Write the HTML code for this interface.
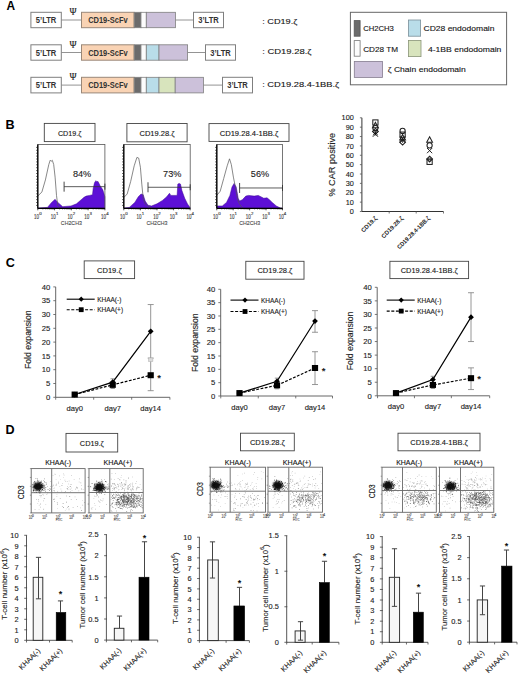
<!DOCTYPE html>
<html><head><meta charset="utf-8"><style>
html,body{margin:0;padding:0;background:#fff;}
body{width:520px;height:675px;overflow:hidden;}
svg{display:block;font-family:"Liberation Sans", sans-serif;}
text:not([font-weight]){stroke:#222;stroke-width:0.12px;}
</style></head><body>
<svg width="520" height="675" viewBox="0 0 520 675">
<defs><filter id="bl" x="-50%" y="-50%" width="200%" height="200%"><feGaussianBlur stdDeviation="1.1"/></filter></defs>
<rect width="520" height="675" fill="#fff"/>
<text x="6.5" y="9.5" font-size="11.9" font-weight="bold" fill="#000">A</text>
<rect x="30.9" y="12.3" width="30.4" height="15.4" fill="#fff" stroke="#7f7f7f" stroke-width="1"/>
<text x="46.1" y="23" font-size="8.6" text-anchor="middle" font-weight="bold" textLength="20.5" lengthAdjust="spacingAndGlyphs" fill="#333">5’LTR</text>
<line x1="61.3" y1="20" x2="81.5" y2="20" stroke="#888" stroke-width="0.9"/>
<text x="73.1" y="15.2" font-size="9.6" text-anchor="middle" fill="#222" font-family="Liberation Serif">Ψ</text>
<rect x="81.5" y="12.3" width="52.5" height="15.4" fill="#f9d3b4" stroke="#9a8878" stroke-width="1"/>
<text x="107.9" y="23" font-size="8.6" text-anchor="middle" font-weight="bold" textLength="39.5" lengthAdjust="spacingAndGlyphs" fill="#333">CD19-ScFv</text>
<rect x="134.3" y="12.3" width="6.7" height="15.4" fill="#6b6b6b" stroke="#7f7f7f" stroke-width="0.8"/>
<rect x="141" y="12.3" width="5.3" height="15.4" fill="#fcfcfc" stroke="#7f7f7f" stroke-width="0.8"/>
<rect x="146.3" y="12.3" width="29.1" height="15.4" fill="#ccc1da" stroke="#7f7f7f" stroke-width="0.8"/>
<line x1="175.4" y1="20" x2="193" y2="20" stroke="#888" stroke-width="0.9"/>
<rect x="193.5" y="12.3" width="30" height="15.4" fill="#fff" stroke="#7f7f7f" stroke-width="1"/>
<text x="208.5" y="23" font-size="8.6" text-anchor="middle" font-weight="bold" textLength="20.5" lengthAdjust="spacingAndGlyphs" fill="#333">3’LTR</text>
<text x="262.2" y="24.3" font-size="8" textLength="35.1" lengthAdjust="spacingAndGlyphs" fill="#111">: CD19.ζ</text>
<rect x="30.9" y="44.8" width="30.4" height="15.4" fill="#fff" stroke="#7f7f7f" stroke-width="1"/>
<text x="46.1" y="55.5" font-size="8.6" text-anchor="middle" font-weight="bold" textLength="20.5" lengthAdjust="spacingAndGlyphs" fill="#333">5’LTR</text>
<line x1="61.3" y1="52.5" x2="81.5" y2="52.5" stroke="#888" stroke-width="0.9"/>
<text x="73.1" y="47.7" font-size="9.6" text-anchor="middle" fill="#222" font-family="Liberation Serif">Ψ</text>
<rect x="81.5" y="44.8" width="52.5" height="15.4" fill="#f9d3b4" stroke="#9a8878" stroke-width="1"/>
<text x="107.9" y="55.5" font-size="8.6" text-anchor="middle" font-weight="bold" textLength="39.5" lengthAdjust="spacingAndGlyphs" fill="#333">CD19-ScFv</text>
<rect x="134.3" y="44.8" width="6.7" height="15.4" fill="#6b6b6b" stroke="#7f7f7f" stroke-width="0.8"/>
<rect x="141" y="44.8" width="5.3" height="15.4" fill="#fcfcfc" stroke="#7f7f7f" stroke-width="0.8"/>
<rect x="146.3" y="44.8" width="12.7" height="15.4" fill="#b9dde9" stroke="#7f7f7f" stroke-width="0.8"/>
<rect x="159" y="44.8" width="28.6" height="15.4" fill="#ccc1da" stroke="#7f7f7f" stroke-width="0.8"/>
<line x1="187.6" y1="52.5" x2="205" y2="52.5" stroke="#888" stroke-width="0.9"/>
<rect x="205.5" y="44.8" width="30" height="15.4" fill="#fff" stroke="#7f7f7f" stroke-width="1"/>
<text x="220.5" y="55.5" font-size="8.6" text-anchor="middle" font-weight="bold" textLength="20.5" lengthAdjust="spacingAndGlyphs" fill="#333">3’LTR</text>
<text x="262.2" y="54.4" font-size="8" textLength="49.3" lengthAdjust="spacingAndGlyphs" fill="#111">: CD19.28.ζ</text>
<rect x="30.9" y="77.3" width="30.4" height="15.6" fill="#fff" stroke="#7f7f7f" stroke-width="1"/>
<text x="46.1" y="88.1" font-size="8.6" text-anchor="middle" font-weight="bold" textLength="20.5" lengthAdjust="spacingAndGlyphs" fill="#333">5’LTR</text>
<line x1="61.3" y1="85.1" x2="81.5" y2="85.1" stroke="#888" stroke-width="0.9"/>
<text x="73.1" y="80.2" font-size="9.6" text-anchor="middle" fill="#222" font-family="Liberation Serif">Ψ</text>
<rect x="81.5" y="77.3" width="52.5" height="15.6" fill="#f9d3b4" stroke="#9a8878" stroke-width="1"/>
<text x="107.9" y="88.1" font-size="8.6" text-anchor="middle" font-weight="bold" textLength="39.5" lengthAdjust="spacingAndGlyphs" fill="#333">CD19-ScFv</text>
<rect x="134.3" y="77.3" width="6.7" height="15.6" fill="#6b6b6b" stroke="#7f7f7f" stroke-width="0.8"/>
<rect x="141" y="77.3" width="5.3" height="15.6" fill="#fcfcfc" stroke="#7f7f7f" stroke-width="0.8"/>
<rect x="146.3" y="77.3" width="12.7" height="15.6" fill="#b9dde9" stroke="#7f7f7f" stroke-width="0.8"/>
<rect x="159" y="77.3" width="16.2" height="15.6" fill="#d8e4bd" stroke="#7f7f7f" stroke-width="0.8"/>
<rect x="175.2" y="77.3" width="28.2" height="15.6" fill="#ccc1da" stroke="#7f7f7f" stroke-width="0.8"/>
<line x1="203.4" y1="85.1" x2="222" y2="85.1" stroke="#888" stroke-width="0.9"/>
<rect x="222.5" y="77.3" width="30" height="15.6" fill="#fff" stroke="#7f7f7f" stroke-width="1"/>
<text x="237.5" y="88.1" font-size="8.6" text-anchor="middle" font-weight="bold" textLength="20.5" lengthAdjust="spacingAndGlyphs" fill="#333">3’LTR</text>
<text x="262.2" y="86.5" font-size="8" textLength="77" lengthAdjust="spacingAndGlyphs" fill="#111">: CD19.28.4-1BB.ζ</text>
<rect x="350.4" y="12.3" width="156.2" height="72.5" fill="#fff" stroke="#666" stroke-width="1"/>
<rect x="354.2" y="20.6" width="5.9" height="15.6" fill="#6b6b6b" stroke="#555" stroke-width="0.8"/>
<text x="363.2" y="31.1" font-size="8" textLength="30.7" lengthAdjust="spacingAndGlyphs" fill="#111">CH2CH3</text>
<rect x="408.4" y="20" width="12.2" height="16.2" fill="#b9dde9" stroke="#7a8f99" stroke-width="0.8"/>
<text x="423.5" y="31.3" font-size="8" textLength="71" lengthAdjust="spacingAndGlyphs" fill="#111">CD28 endodomain</text>
<rect x="354.2" y="40.6" width="5.9" height="15.6" fill="#fcfcfc" stroke="#777" stroke-width="0.8"/>
<text x="363.2" y="51.8" font-size="8" textLength="34.9" lengthAdjust="spacingAndGlyphs" fill="#111">CD28 TM</text>
<rect x="408.4" y="40.4" width="12.6" height="16.2" fill="#d8e4bd" stroke="#8a9478" stroke-width="0.8"/>
<text x="427.9" y="51.8" font-size="8" textLength="73.5" lengthAdjust="spacingAndGlyphs" fill="#111">4-1BB endodomain</text>
<rect x="354.3" y="61.4" width="28.2" height="16" fill="#ccc1da" stroke="#857c8f" stroke-width="0.8"/>
<text x="387.8" y="71.5" font-size="8" textLength="77.9" lengthAdjust="spacingAndGlyphs" fill="#111">ζ Chain endodomain</text>
<text x="5.6" y="128.8" font-size="12.6" font-weight="bold" fill="#000">B</text>
<rect x="44.3" y="123.4" width="50.7" height="18.2" fill="#fff" stroke="#444" stroke-width="0.9"/>
<text x="69.65" y="135.55" font-size="7.6" text-anchor="middle" textLength="23.4" lengthAdjust="spacingAndGlyphs" fill="#111">CD19.ζ</text>
<path d="M37.8 208.3 L38 208.1 L47.5 207.39 L51.6 202.41 L55.1 199.36 L57.8 202.41 L62.7 206.67 L71 205.96 L76.5 203.83 L82.1 198.95 L84 197.33 L86.2 196.11 L89.7 195.4 L92.5 194.69 L93.2 188.39 L94.5 182.8 L95.9 180.67 L97 181.78 L98 181.38 L100.1 185.64 L102.8 189.81 L104.9 196.82 L104.9 208.3 Z" fill="#5d10d6" stroke="#3a0590" stroke-width="0.5"/>
<path d="M37.8 196.11 L41.9 191.94 L45.4 179.96 L48.8 164.51 L50.2 160.25 L51.2 161.26 L52.3 160.25 L53.7 164.51 L55.1 177.11 L56.5 195.4 L57.8 205.96 L59.9 207.79 L62 208.3" fill="none" stroke="#555" stroke-width="0.7"/>
<rect x="37.8" y="144.5" width="67.1" height="63.8" fill="none" stroke="#555" stroke-width="0.8"/>
<line x1="37.8" y1="144.5" x2="37.8" y2="208.3" stroke="#000" stroke-width="1.3"/>
<line x1="37.8" y1="208.3" x2="104.9" y2="208.3" stroke="#000" stroke-width="1.3"/>
<line x1="36" y1="205.4" x2="37.8" y2="205.4" stroke="#111" stroke-width="0.6"/>
<line x1="36" y1="202.5" x2="37.8" y2="202.5" stroke="#111" stroke-width="0.6"/>
<line x1="36" y1="199.6" x2="37.8" y2="199.6" stroke="#111" stroke-width="0.6"/>
<line x1="36" y1="196.7" x2="37.8" y2="196.7" stroke="#111" stroke-width="0.6"/>
<line x1="36" y1="193.8" x2="37.8" y2="193.8" stroke="#111" stroke-width="0.6"/>
<line x1="36" y1="190.9" x2="37.8" y2="190.9" stroke="#111" stroke-width="0.6"/>
<line x1="36" y1="188" x2="37.8" y2="188" stroke="#111" stroke-width="0.6"/>
<line x1="36" y1="185.1" x2="37.8" y2="185.1" stroke="#111" stroke-width="0.6"/>
<line x1="36" y1="182.2" x2="37.8" y2="182.2" stroke="#111" stroke-width="0.6"/>
<line x1="36" y1="179.3" x2="37.8" y2="179.3" stroke="#111" stroke-width="0.6"/>
<line x1="36" y1="176.4" x2="37.8" y2="176.4" stroke="#111" stroke-width="0.6"/>
<line x1="36" y1="173.5" x2="37.8" y2="173.5" stroke="#111" stroke-width="0.6"/>
<line x1="36" y1="170.6" x2="37.8" y2="170.6" stroke="#111" stroke-width="0.6"/>
<line x1="36" y1="167.7" x2="37.8" y2="167.7" stroke="#111" stroke-width="0.6"/>
<line x1="36" y1="164.8" x2="37.8" y2="164.8" stroke="#111" stroke-width="0.6"/>
<line x1="36" y1="161.9" x2="37.8" y2="161.9" stroke="#111" stroke-width="0.6"/>
<line x1="36" y1="159" x2="37.8" y2="159" stroke="#111" stroke-width="0.6"/>
<line x1="36" y1="156.1" x2="37.8" y2="156.1" stroke="#111" stroke-width="0.6"/>
<line x1="36" y1="153.2" x2="37.8" y2="153.2" stroke="#111" stroke-width="0.6"/>
<line x1="36" y1="150.3" x2="37.8" y2="150.3" stroke="#111" stroke-width="0.6"/>
<line x1="36" y1="147.4" x2="37.8" y2="147.4" stroke="#111" stroke-width="0.6"/>
<line x1="37.8" y1="208.3" x2="37.8" y2="210.3" stroke="#000" stroke-width="0.7"/>
<line x1="42.85" y1="208.3" x2="42.85" y2="209.5" stroke="#000" stroke-width="0.5"/>
<line x1="45.8" y1="208.3" x2="45.8" y2="209.5" stroke="#000" stroke-width="0.5"/>
<line x1="47.9" y1="208.3" x2="47.9" y2="209.5" stroke="#000" stroke-width="0.5"/>
<line x1="49.53" y1="208.3" x2="49.53" y2="209.5" stroke="#000" stroke-width="0.5"/>
<line x1="50.85" y1="208.3" x2="50.85" y2="209.5" stroke="#000" stroke-width="0.5"/>
<line x1="51.98" y1="208.3" x2="51.98" y2="209.5" stroke="#000" stroke-width="0.5"/>
<line x1="52.95" y1="208.3" x2="52.95" y2="209.5" stroke="#000" stroke-width="0.5"/>
<line x1="53.81" y1="208.3" x2="53.81" y2="209.5" stroke="#000" stroke-width="0.5"/>
<line x1="54.58" y1="208.3" x2="54.58" y2="210.3" stroke="#000" stroke-width="0.7"/>
<line x1="59.62" y1="208.3" x2="59.62" y2="209.5" stroke="#000" stroke-width="0.5"/>
<line x1="62.58" y1="208.3" x2="62.58" y2="209.5" stroke="#000" stroke-width="0.5"/>
<line x1="64.67" y1="208.3" x2="64.67" y2="209.5" stroke="#000" stroke-width="0.5"/>
<line x1="66.3" y1="208.3" x2="66.3" y2="209.5" stroke="#000" stroke-width="0.5"/>
<line x1="67.63" y1="208.3" x2="67.63" y2="209.5" stroke="#000" stroke-width="0.5"/>
<line x1="68.75" y1="208.3" x2="68.75" y2="209.5" stroke="#000" stroke-width="0.5"/>
<line x1="69.72" y1="208.3" x2="69.72" y2="209.5" stroke="#000" stroke-width="0.5"/>
<line x1="70.58" y1="208.3" x2="70.58" y2="209.5" stroke="#000" stroke-width="0.5"/>
<line x1="71.35" y1="208.3" x2="71.35" y2="210.3" stroke="#000" stroke-width="0.7"/>
<line x1="76.4" y1="208.3" x2="76.4" y2="209.5" stroke="#000" stroke-width="0.5"/>
<line x1="79.35" y1="208.3" x2="79.35" y2="209.5" stroke="#000" stroke-width="0.5"/>
<line x1="81.45" y1="208.3" x2="81.45" y2="209.5" stroke="#000" stroke-width="0.5"/>
<line x1="83.08" y1="208.3" x2="83.08" y2="209.5" stroke="#000" stroke-width="0.5"/>
<line x1="84.4" y1="208.3" x2="84.4" y2="209.5" stroke="#000" stroke-width="0.5"/>
<line x1="85.53" y1="208.3" x2="85.53" y2="209.5" stroke="#000" stroke-width="0.5"/>
<line x1="86.5" y1="208.3" x2="86.5" y2="209.5" stroke="#000" stroke-width="0.5"/>
<line x1="87.36" y1="208.3" x2="87.36" y2="209.5" stroke="#000" stroke-width="0.5"/>
<line x1="88.12" y1="208.3" x2="88.12" y2="210.3" stroke="#000" stroke-width="0.7"/>
<line x1="93.17" y1="208.3" x2="93.17" y2="209.5" stroke="#000" stroke-width="0.5"/>
<line x1="96.13" y1="208.3" x2="96.13" y2="209.5" stroke="#000" stroke-width="0.5"/>
<line x1="98.22" y1="208.3" x2="98.22" y2="209.5" stroke="#000" stroke-width="0.5"/>
<line x1="99.85" y1="208.3" x2="99.85" y2="209.5" stroke="#000" stroke-width="0.5"/>
<line x1="101.18" y1="208.3" x2="101.18" y2="209.5" stroke="#000" stroke-width="0.5"/>
<line x1="102.3" y1="208.3" x2="102.3" y2="209.5" stroke="#000" stroke-width="0.5"/>
<line x1="103.27" y1="208.3" x2="103.27" y2="209.5" stroke="#000" stroke-width="0.5"/>
<line x1="104.13" y1="208.3" x2="104.13" y2="209.5" stroke="#000" stroke-width="0.5"/>
<line x1="104.9" y1="208.3" x2="104.9" y2="210.3" stroke="#000" stroke-width="0.7"/>
<text x="36.5" y="218.7" font-size="6.6" text-anchor="middle" textLength="5" lengthAdjust="spacingAndGlyphs" fill="#444">10</text>
<text x="40.4" y="215.1" font-size="4.4" text-anchor="middle" fill="#444">0</text>
<text x="53.28" y="218.7" font-size="6.6" text-anchor="middle" textLength="5" lengthAdjust="spacingAndGlyphs" fill="#444">10</text>
<text x="57.18" y="215.1" font-size="4.4" text-anchor="middle" fill="#444">1</text>
<text x="70.05" y="218.7" font-size="6.6" text-anchor="middle" textLength="5" lengthAdjust="spacingAndGlyphs" fill="#444">10</text>
<text x="73.95" y="215.1" font-size="4.4" text-anchor="middle" fill="#444">2</text>
<text x="86.83" y="218.7" font-size="6.6" text-anchor="middle" textLength="5" lengthAdjust="spacingAndGlyphs" fill="#444">10</text>
<text x="90.72" y="215.1" font-size="4.4" text-anchor="middle" fill="#444">3</text>
<text x="103.6" y="218.7" font-size="6.6" text-anchor="middle" textLength="5" lengthAdjust="spacingAndGlyphs" fill="#444">10</text>
<text x="107.5" y="215.1" font-size="4.4" text-anchor="middle" fill="#444">4</text>
<text x="71.35" y="224.6" font-size="6" text-anchor="middle" textLength="21" lengthAdjust="spacingAndGlyphs" fill="#555">CH2CH3</text>
<line x1="64.1" y1="186.66" x2="104.9" y2="186.66" stroke="#333" stroke-width="0.8"/>
<line x1="64.1" y1="181.66" x2="64.1" y2="191.66" stroke="#333" stroke-width="0.9"/>
<line x1="104.9" y1="183.66" x2="104.9" y2="189.66" stroke="#333" stroke-width="0.9"/>
<text x="82.1" y="176.6" font-size="9.8" text-anchor="middle" textLength="18.3" lengthAdjust="spacingAndGlyphs" fill="#222">84%</text>
<rect x="126.9" y="123.5" width="60.2" height="18.3" fill="#fff" stroke="#444" stroke-width="0.9"/>
<text x="157" y="135.7" font-size="7.6" text-anchor="middle" textLength="35" lengthAdjust="spacingAndGlyphs" fill="#111">CD19.28.ζ</text>
<path d="M123.8 208.3 L124 208.1 L129.3 207.39 L134.8 202.41 L138.3 196.82 L141.1 193.98 L143.2 194.69 L145.2 201.09 L148 205.25 L151.5 205.96 L157 203.83 L162.5 200.38 L166.7 196.82 L169.5 193.26 L170.8 195.4 L177.1 195.4 L177.8 184.12 L179.2 183.41 L180.5 184.12 L181.9 190.52 L184.7 198.24 L187.5 203.93 L190.2 207.79 L190.2 208.3 Z" fill="#5d10d6" stroke="#3a0590" stroke-width="0.5"/>
<path d="M123.8 197.53 L127.2 193.98 L130.7 181.38 L134.2 165.83 L136.9 157.4 L138.7 158.11 L140.4 167.26 L141.8 184.12 L143.2 198.24 L145.2 203.93 L148.7 206.67 L152 208.3" fill="none" stroke="#555" stroke-width="0.7"/>
<rect x="123.8" y="144.5" width="66.4" height="63.8" fill="none" stroke="#555" stroke-width="0.8"/>
<line x1="123.8" y1="144.5" x2="123.8" y2="208.3" stroke="#000" stroke-width="1.3"/>
<line x1="123.8" y1="208.3" x2="190.2" y2="208.3" stroke="#000" stroke-width="1.3"/>
<line x1="122" y1="205.4" x2="123.8" y2="205.4" stroke="#111" stroke-width="0.6"/>
<line x1="122" y1="202.5" x2="123.8" y2="202.5" stroke="#111" stroke-width="0.6"/>
<line x1="122" y1="199.6" x2="123.8" y2="199.6" stroke="#111" stroke-width="0.6"/>
<line x1="122" y1="196.7" x2="123.8" y2="196.7" stroke="#111" stroke-width="0.6"/>
<line x1="122" y1="193.8" x2="123.8" y2="193.8" stroke="#111" stroke-width="0.6"/>
<line x1="122" y1="190.9" x2="123.8" y2="190.9" stroke="#111" stroke-width="0.6"/>
<line x1="122" y1="188" x2="123.8" y2="188" stroke="#111" stroke-width="0.6"/>
<line x1="122" y1="185.1" x2="123.8" y2="185.1" stroke="#111" stroke-width="0.6"/>
<line x1="122" y1="182.2" x2="123.8" y2="182.2" stroke="#111" stroke-width="0.6"/>
<line x1="122" y1="179.3" x2="123.8" y2="179.3" stroke="#111" stroke-width="0.6"/>
<line x1="122" y1="176.4" x2="123.8" y2="176.4" stroke="#111" stroke-width="0.6"/>
<line x1="122" y1="173.5" x2="123.8" y2="173.5" stroke="#111" stroke-width="0.6"/>
<line x1="122" y1="170.6" x2="123.8" y2="170.6" stroke="#111" stroke-width="0.6"/>
<line x1="122" y1="167.7" x2="123.8" y2="167.7" stroke="#111" stroke-width="0.6"/>
<line x1="122" y1="164.8" x2="123.8" y2="164.8" stroke="#111" stroke-width="0.6"/>
<line x1="122" y1="161.9" x2="123.8" y2="161.9" stroke="#111" stroke-width="0.6"/>
<line x1="122" y1="159" x2="123.8" y2="159" stroke="#111" stroke-width="0.6"/>
<line x1="122" y1="156.1" x2="123.8" y2="156.1" stroke="#111" stroke-width="0.6"/>
<line x1="122" y1="153.2" x2="123.8" y2="153.2" stroke="#111" stroke-width="0.6"/>
<line x1="122" y1="150.3" x2="123.8" y2="150.3" stroke="#111" stroke-width="0.6"/>
<line x1="122" y1="147.4" x2="123.8" y2="147.4" stroke="#111" stroke-width="0.6"/>
<line x1="123.8" y1="208.3" x2="123.8" y2="210.3" stroke="#000" stroke-width="0.7"/>
<line x1="128.8" y1="208.3" x2="128.8" y2="209.5" stroke="#000" stroke-width="0.5"/>
<line x1="131.72" y1="208.3" x2="131.72" y2="209.5" stroke="#000" stroke-width="0.5"/>
<line x1="133.79" y1="208.3" x2="133.79" y2="209.5" stroke="#000" stroke-width="0.5"/>
<line x1="135.4" y1="208.3" x2="135.4" y2="209.5" stroke="#000" stroke-width="0.5"/>
<line x1="136.72" y1="208.3" x2="136.72" y2="209.5" stroke="#000" stroke-width="0.5"/>
<line x1="137.83" y1="208.3" x2="137.83" y2="209.5" stroke="#000" stroke-width="0.5"/>
<line x1="138.79" y1="208.3" x2="138.79" y2="209.5" stroke="#000" stroke-width="0.5"/>
<line x1="139.64" y1="208.3" x2="139.64" y2="209.5" stroke="#000" stroke-width="0.5"/>
<line x1="140.4" y1="208.3" x2="140.4" y2="210.3" stroke="#000" stroke-width="0.7"/>
<line x1="145.4" y1="208.3" x2="145.4" y2="209.5" stroke="#000" stroke-width="0.5"/>
<line x1="148.32" y1="208.3" x2="148.32" y2="209.5" stroke="#000" stroke-width="0.5"/>
<line x1="150.39" y1="208.3" x2="150.39" y2="209.5" stroke="#000" stroke-width="0.5"/>
<line x1="152" y1="208.3" x2="152" y2="209.5" stroke="#000" stroke-width="0.5"/>
<line x1="153.32" y1="208.3" x2="153.32" y2="209.5" stroke="#000" stroke-width="0.5"/>
<line x1="154.43" y1="208.3" x2="154.43" y2="209.5" stroke="#000" stroke-width="0.5"/>
<line x1="155.39" y1="208.3" x2="155.39" y2="209.5" stroke="#000" stroke-width="0.5"/>
<line x1="156.24" y1="208.3" x2="156.24" y2="209.5" stroke="#000" stroke-width="0.5"/>
<line x1="157" y1="208.3" x2="157" y2="210.3" stroke="#000" stroke-width="0.7"/>
<line x1="162" y1="208.3" x2="162" y2="209.5" stroke="#000" stroke-width="0.5"/>
<line x1="164.92" y1="208.3" x2="164.92" y2="209.5" stroke="#000" stroke-width="0.5"/>
<line x1="166.99" y1="208.3" x2="166.99" y2="209.5" stroke="#000" stroke-width="0.5"/>
<line x1="168.6" y1="208.3" x2="168.6" y2="209.5" stroke="#000" stroke-width="0.5"/>
<line x1="169.92" y1="208.3" x2="169.92" y2="209.5" stroke="#000" stroke-width="0.5"/>
<line x1="171.03" y1="208.3" x2="171.03" y2="209.5" stroke="#000" stroke-width="0.5"/>
<line x1="171.99" y1="208.3" x2="171.99" y2="209.5" stroke="#000" stroke-width="0.5"/>
<line x1="172.84" y1="208.3" x2="172.84" y2="209.5" stroke="#000" stroke-width="0.5"/>
<line x1="173.6" y1="208.3" x2="173.6" y2="210.3" stroke="#000" stroke-width="0.7"/>
<line x1="178.6" y1="208.3" x2="178.6" y2="209.5" stroke="#000" stroke-width="0.5"/>
<line x1="181.52" y1="208.3" x2="181.52" y2="209.5" stroke="#000" stroke-width="0.5"/>
<line x1="183.59" y1="208.3" x2="183.59" y2="209.5" stroke="#000" stroke-width="0.5"/>
<line x1="185.2" y1="208.3" x2="185.2" y2="209.5" stroke="#000" stroke-width="0.5"/>
<line x1="186.52" y1="208.3" x2="186.52" y2="209.5" stroke="#000" stroke-width="0.5"/>
<line x1="187.63" y1="208.3" x2="187.63" y2="209.5" stroke="#000" stroke-width="0.5"/>
<line x1="188.59" y1="208.3" x2="188.59" y2="209.5" stroke="#000" stroke-width="0.5"/>
<line x1="189.44" y1="208.3" x2="189.44" y2="209.5" stroke="#000" stroke-width="0.5"/>
<line x1="190.2" y1="208.3" x2="190.2" y2="210.3" stroke="#000" stroke-width="0.7"/>
<text x="122.5" y="218.7" font-size="6.6" text-anchor="middle" textLength="5" lengthAdjust="spacingAndGlyphs" fill="#444">10</text>
<text x="126.4" y="215.1" font-size="4.4" text-anchor="middle" fill="#444">0</text>
<text x="139.1" y="218.7" font-size="6.6" text-anchor="middle" textLength="5" lengthAdjust="spacingAndGlyphs" fill="#444">10</text>
<text x="143" y="215.1" font-size="4.4" text-anchor="middle" fill="#444">1</text>
<text x="155.7" y="218.7" font-size="6.6" text-anchor="middle" textLength="5" lengthAdjust="spacingAndGlyphs" fill="#444">10</text>
<text x="159.6" y="215.1" font-size="4.4" text-anchor="middle" fill="#444">2</text>
<text x="172.3" y="218.7" font-size="6.6" text-anchor="middle" textLength="5" lengthAdjust="spacingAndGlyphs" fill="#444">10</text>
<text x="176.2" y="215.1" font-size="4.4" text-anchor="middle" fill="#444">3</text>
<text x="188.9" y="218.7" font-size="6.6" text-anchor="middle" textLength="5" lengthAdjust="spacingAndGlyphs" fill="#444">10</text>
<text x="192.8" y="215.1" font-size="4.4" text-anchor="middle" fill="#444">4</text>
<text x="157" y="224.6" font-size="6" text-anchor="middle" textLength="21" lengthAdjust="spacingAndGlyphs" fill="#555">CH2CH3</text>
<line x1="148" y1="187.27" x2="190.2" y2="187.27" stroke="#333" stroke-width="0.8"/>
<line x1="148" y1="182.27" x2="148" y2="192.27" stroke="#333" stroke-width="0.9"/>
<line x1="190.2" y1="184.27" x2="190.2" y2="190.27" stroke="#333" stroke-width="0.9"/>
<text x="172.2" y="176.6" font-size="9.8" text-anchor="middle" textLength="18.3" lengthAdjust="spacingAndGlyphs" fill="#222">73%</text>
<rect x="209" y="123.6" width="80" height="17.8" fill="#fff" stroke="#444" stroke-width="0.9"/>
<text x="249" y="135.55" font-size="7.6" text-anchor="middle" textLength="58.6" lengthAdjust="spacingAndGlyphs" fill="#111">CD19.28.4-1BB.ζ</text>
<path d="M216.8 208.3 L217 205.96 L222.3 205.96 L226.5 202.41 L229.9 195.4 L232 186.97 L234.1 183.41 L236.2 186.97 L238.2 198.24 L239.6 201.09 L242.4 199.66 L245.8 196.11 L248.6 195.4 L254.2 196.11 L258.3 195.4 L263.8 198.24 L267 197.84 L269.4 199.66 L272.2 202.41 L276.3 205.96 L280.5 208.1 L282.5 208.3 Z" fill="#5d10d6" stroke="#3a0590" stroke-width="0.5"/>
<path d="M216.8 195.4 L220.2 191.23 L223.7 178.53 L227.2 165.83 L229.5 158.82 L231.3 164.51 L233.4 177.11 L234.8 184.12 L236.8 195.4 L238.2 201.09 L240 204.95 L243 208.3" fill="none" stroke="#555" stroke-width="0.7"/>
<rect x="216.8" y="144.5" width="65.7" height="63.8" fill="none" stroke="#555" stroke-width="0.8"/>
<line x1="216.8" y1="144.5" x2="216.8" y2="208.3" stroke="#000" stroke-width="1.3"/>
<line x1="216.8" y1="208.3" x2="282.5" y2="208.3" stroke="#000" stroke-width="1.3"/>
<line x1="215" y1="205.4" x2="216.8" y2="205.4" stroke="#111" stroke-width="0.6"/>
<line x1="215" y1="202.5" x2="216.8" y2="202.5" stroke="#111" stroke-width="0.6"/>
<line x1="215" y1="199.6" x2="216.8" y2="199.6" stroke="#111" stroke-width="0.6"/>
<line x1="215" y1="196.7" x2="216.8" y2="196.7" stroke="#111" stroke-width="0.6"/>
<line x1="215" y1="193.8" x2="216.8" y2="193.8" stroke="#111" stroke-width="0.6"/>
<line x1="215" y1="190.9" x2="216.8" y2="190.9" stroke="#111" stroke-width="0.6"/>
<line x1="215" y1="188" x2="216.8" y2="188" stroke="#111" stroke-width="0.6"/>
<line x1="215" y1="185.1" x2="216.8" y2="185.1" stroke="#111" stroke-width="0.6"/>
<line x1="215" y1="182.2" x2="216.8" y2="182.2" stroke="#111" stroke-width="0.6"/>
<line x1="215" y1="179.3" x2="216.8" y2="179.3" stroke="#111" stroke-width="0.6"/>
<line x1="215" y1="176.4" x2="216.8" y2="176.4" stroke="#111" stroke-width="0.6"/>
<line x1="215" y1="173.5" x2="216.8" y2="173.5" stroke="#111" stroke-width="0.6"/>
<line x1="215" y1="170.6" x2="216.8" y2="170.6" stroke="#111" stroke-width="0.6"/>
<line x1="215" y1="167.7" x2="216.8" y2="167.7" stroke="#111" stroke-width="0.6"/>
<line x1="215" y1="164.8" x2="216.8" y2="164.8" stroke="#111" stroke-width="0.6"/>
<line x1="215" y1="161.9" x2="216.8" y2="161.9" stroke="#111" stroke-width="0.6"/>
<line x1="215" y1="159" x2="216.8" y2="159" stroke="#111" stroke-width="0.6"/>
<line x1="215" y1="156.1" x2="216.8" y2="156.1" stroke="#111" stroke-width="0.6"/>
<line x1="215" y1="153.2" x2="216.8" y2="153.2" stroke="#111" stroke-width="0.6"/>
<line x1="215" y1="150.3" x2="216.8" y2="150.3" stroke="#111" stroke-width="0.6"/>
<line x1="215" y1="147.4" x2="216.8" y2="147.4" stroke="#111" stroke-width="0.6"/>
<line x1="216.8" y1="208.3" x2="216.8" y2="210.3" stroke="#000" stroke-width="0.7"/>
<line x1="221.74" y1="208.3" x2="221.74" y2="209.5" stroke="#000" stroke-width="0.5"/>
<line x1="224.64" y1="208.3" x2="224.64" y2="209.5" stroke="#000" stroke-width="0.5"/>
<line x1="226.69" y1="208.3" x2="226.69" y2="209.5" stroke="#000" stroke-width="0.5"/>
<line x1="228.28" y1="208.3" x2="228.28" y2="209.5" stroke="#000" stroke-width="0.5"/>
<line x1="229.58" y1="208.3" x2="229.58" y2="209.5" stroke="#000" stroke-width="0.5"/>
<line x1="230.68" y1="208.3" x2="230.68" y2="209.5" stroke="#000" stroke-width="0.5"/>
<line x1="231.63" y1="208.3" x2="231.63" y2="209.5" stroke="#000" stroke-width="0.5"/>
<line x1="232.47" y1="208.3" x2="232.47" y2="209.5" stroke="#000" stroke-width="0.5"/>
<line x1="233.23" y1="208.3" x2="233.23" y2="210.3" stroke="#000" stroke-width="0.7"/>
<line x1="238.17" y1="208.3" x2="238.17" y2="209.5" stroke="#000" stroke-width="0.5"/>
<line x1="241.06" y1="208.3" x2="241.06" y2="209.5" stroke="#000" stroke-width="0.5"/>
<line x1="243.11" y1="208.3" x2="243.11" y2="209.5" stroke="#000" stroke-width="0.5"/>
<line x1="244.71" y1="208.3" x2="244.71" y2="209.5" stroke="#000" stroke-width="0.5"/>
<line x1="246.01" y1="208.3" x2="246.01" y2="209.5" stroke="#000" stroke-width="0.5"/>
<line x1="247.11" y1="208.3" x2="247.11" y2="209.5" stroke="#000" stroke-width="0.5"/>
<line x1="248.06" y1="208.3" x2="248.06" y2="209.5" stroke="#000" stroke-width="0.5"/>
<line x1="248.9" y1="208.3" x2="248.9" y2="209.5" stroke="#000" stroke-width="0.5"/>
<line x1="249.65" y1="208.3" x2="249.65" y2="210.3" stroke="#000" stroke-width="0.7"/>
<line x1="254.59" y1="208.3" x2="254.59" y2="209.5" stroke="#000" stroke-width="0.5"/>
<line x1="257.49" y1="208.3" x2="257.49" y2="209.5" stroke="#000" stroke-width="0.5"/>
<line x1="259.54" y1="208.3" x2="259.54" y2="209.5" stroke="#000" stroke-width="0.5"/>
<line x1="261.13" y1="208.3" x2="261.13" y2="209.5" stroke="#000" stroke-width="0.5"/>
<line x1="262.43" y1="208.3" x2="262.43" y2="209.5" stroke="#000" stroke-width="0.5"/>
<line x1="263.53" y1="208.3" x2="263.53" y2="209.5" stroke="#000" stroke-width="0.5"/>
<line x1="264.48" y1="208.3" x2="264.48" y2="209.5" stroke="#000" stroke-width="0.5"/>
<line x1="265.32" y1="208.3" x2="265.32" y2="209.5" stroke="#000" stroke-width="0.5"/>
<line x1="266.07" y1="208.3" x2="266.07" y2="210.3" stroke="#000" stroke-width="0.7"/>
<line x1="271.02" y1="208.3" x2="271.02" y2="209.5" stroke="#000" stroke-width="0.5"/>
<line x1="273.91" y1="208.3" x2="273.91" y2="209.5" stroke="#000" stroke-width="0.5"/>
<line x1="275.96" y1="208.3" x2="275.96" y2="209.5" stroke="#000" stroke-width="0.5"/>
<line x1="277.56" y1="208.3" x2="277.56" y2="209.5" stroke="#000" stroke-width="0.5"/>
<line x1="278.86" y1="208.3" x2="278.86" y2="209.5" stroke="#000" stroke-width="0.5"/>
<line x1="279.96" y1="208.3" x2="279.96" y2="209.5" stroke="#000" stroke-width="0.5"/>
<line x1="280.91" y1="208.3" x2="280.91" y2="209.5" stroke="#000" stroke-width="0.5"/>
<line x1="281.75" y1="208.3" x2="281.75" y2="209.5" stroke="#000" stroke-width="0.5"/>
<line x1="282.5" y1="208.3" x2="282.5" y2="210.3" stroke="#000" stroke-width="0.7"/>
<text x="215.5" y="218.7" font-size="6.6" text-anchor="middle" textLength="5" lengthAdjust="spacingAndGlyphs" fill="#444">10</text>
<text x="219.4" y="215.1" font-size="4.4" text-anchor="middle" fill="#444">0</text>
<text x="231.93" y="218.7" font-size="6.6" text-anchor="middle" textLength="5" lengthAdjust="spacingAndGlyphs" fill="#444">10</text>
<text x="235.83" y="215.1" font-size="4.4" text-anchor="middle" fill="#444">1</text>
<text x="248.35" y="218.7" font-size="6.6" text-anchor="middle" textLength="5" lengthAdjust="spacingAndGlyphs" fill="#444">10</text>
<text x="252.25" y="215.1" font-size="4.4" text-anchor="middle" fill="#444">2</text>
<text x="264.77" y="218.7" font-size="6.6" text-anchor="middle" textLength="5" lengthAdjust="spacingAndGlyphs" fill="#444">10</text>
<text x="268.68" y="215.1" font-size="4.4" text-anchor="middle" fill="#444">3</text>
<text x="281.2" y="218.7" font-size="6.6" text-anchor="middle" textLength="5" lengthAdjust="spacingAndGlyphs" fill="#444">10</text>
<text x="285.1" y="215.1" font-size="4.4" text-anchor="middle" fill="#444">4</text>
<text x="249.65" y="224.6" font-size="6" text-anchor="middle" textLength="21" lengthAdjust="spacingAndGlyphs" fill="#555">CH2CH3</text>
<line x1="239.6" y1="187.98" x2="282.5" y2="187.98" stroke="#333" stroke-width="0.8"/>
<line x1="239.6" y1="182.98" x2="239.6" y2="192.98" stroke="#333" stroke-width="0.9"/>
<line x1="282.5" y1="184.98" x2="282.5" y2="190.98" stroke="#333" stroke-width="0.9"/>
<text x="260" y="176.6" font-size="9.8" text-anchor="middle" textLength="18.3" lengthAdjust="spacingAndGlyphs" fill="#222">56%</text>
<line x1="361.9" y1="117.8" x2="361.9" y2="211.5" stroke="#333" stroke-width="1"/>
<line x1="361.9" y1="211.5" x2="443.5" y2="211.5" stroke="#333" stroke-width="1"/>
<line x1="359.9" y1="211.5" x2="361.9" y2="211.5" stroke="#555" stroke-width="0.8"/>
<text x="353.8" y="214.1" font-size="7.3" text-anchor="end" fill="#222">0</text>
<line x1="359.9" y1="202.13" x2="361.9" y2="202.13" stroke="#555" stroke-width="0.8"/>
<text x="353.8" y="204.73" font-size="7.3" text-anchor="end" fill="#222">10</text>
<line x1="359.9" y1="192.76" x2="361.9" y2="192.76" stroke="#555" stroke-width="0.8"/>
<text x="353.8" y="195.36" font-size="7.3" text-anchor="end" fill="#222">20</text>
<line x1="359.9" y1="183.39" x2="361.9" y2="183.39" stroke="#555" stroke-width="0.8"/>
<text x="353.8" y="185.99" font-size="7.3" text-anchor="end" fill="#222">30</text>
<line x1="359.9" y1="174.02" x2="361.9" y2="174.02" stroke="#555" stroke-width="0.8"/>
<text x="353.8" y="176.62" font-size="7.3" text-anchor="end" fill="#222">40</text>
<line x1="359.9" y1="164.65" x2="361.9" y2="164.65" stroke="#555" stroke-width="0.8"/>
<text x="353.8" y="167.25" font-size="7.3" text-anchor="end" fill="#222">50</text>
<line x1="359.9" y1="155.28" x2="361.9" y2="155.28" stroke="#555" stroke-width="0.8"/>
<text x="353.8" y="157.88" font-size="7.3" text-anchor="end" fill="#222">60</text>
<line x1="359.9" y1="145.91" x2="361.9" y2="145.91" stroke="#555" stroke-width="0.8"/>
<text x="353.8" y="148.51" font-size="7.3" text-anchor="end" fill="#222">70</text>
<line x1="359.9" y1="136.54" x2="361.9" y2="136.54" stroke="#555" stroke-width="0.8"/>
<text x="353.8" y="139.14" font-size="7.3" text-anchor="end" fill="#222">80</text>
<line x1="359.9" y1="127.17" x2="361.9" y2="127.17" stroke="#555" stroke-width="0.8"/>
<text x="353.8" y="129.77" font-size="7.3" text-anchor="end" fill="#222">90</text>
<line x1="359.9" y1="117.8" x2="361.9" y2="117.8" stroke="#555" stroke-width="0.8"/>
<text x="353.8" y="120.4" font-size="7.3" text-anchor="end" fill="#222">100</text>
<line x1="389.2" y1="211.5" x2="389.2" y2="213.5" stroke="#555" stroke-width="0.8"/>
<line x1="416.2" y1="211.5" x2="416.2" y2="213.5" stroke="#555" stroke-width="0.8"/>
<line x1="443.5" y1="211.5" x2="443.5" y2="213.5" stroke="#555" stroke-width="0.8"/>
<text transform="translate(334.9 164.75) rotate(-90)" x="0" y="0" font-size="9.2" text-anchor="middle" textLength="63.7" lengthAdjust="spacingAndGlyphs" fill="#222">% CAR positive</text>
<rect x="372.8" y="119.89" width="5.2" height="5.2" fill="none" stroke="#222" stroke-width="1.05"/>
<path d="M375.4 122.3 L378.3 127.7 L372.5 127.7 Z" fill="none" stroke="#222" stroke-width="1.05"/>
<circle cx="375.4" cy="128.11" r="2.6" fill="none" stroke="#222" stroke-width="1.05"/>
<path d="M375.4 128.49 L378.3 131.39 L375.4 134.29 L372.5 131.39 Z" fill="none" stroke="#222" stroke-width="1.05"/>
<path d="M372.8 131.6 L378 136.8 M378 131.6 L372.8 136.8" fill="none" stroke="#111" stroke-width="0.9"/>
<path d="M372.8 130.19 L378 135.39 M378 130.19 L372.8 135.39 M375.4 130.19 L375.4 135.39" fill="none" stroke="#111" stroke-width="0.8"/>
<circle cx="402.6" cy="130.92" r="2.6" fill="none" stroke="#222" stroke-width="1.05"/>
<rect x="400" y="132.07" width="5.2" height="5.2" fill="none" stroke="#222" stroke-width="1.05"/>
<path d="M402.6 134.48 L405.5 139.88 L399.7 139.88 Z" fill="none" stroke="#222" stroke-width="1.05"/>
<path d="M400 136.28 L405.2 141.48 M405.2 136.28 L400 141.48" fill="none" stroke="#111" stroke-width="0.9"/>
<path d="M400 137.69 L405.2 142.89 M405.2 137.69 L400 142.89 M402.6 137.69 L402.6 142.89" fill="none" stroke="#111" stroke-width="0.8"/>
<path d="M402.6 139.26 L405.5 142.16 L402.6 145.06 L399.7 142.16 Z" fill="none" stroke="#222" stroke-width="1.05"/>
<path d="M429.6 136.82 L432.5 142.22 L426.7 142.22 Z" fill="none" stroke="#222" stroke-width="1.05"/>
<circle cx="429.6" cy="145.44" r="2.6" fill="none" stroke="#222" stroke-width="1.05"/>
<path d="M427 148 L432.2 153.19 M432.2 148 L427 153.19" fill="none" stroke="#111" stroke-width="0.9"/>
<rect x="427" y="159.24" width="5.2" height="5.2" fill="none" stroke="#222" stroke-width="1.05"/>
<path d="M429.6 156.13 L432.5 159.03 L429.6 161.93 L426.7 159.03 Z" fill="none" stroke="#222" stroke-width="1.05"/>
<circle cx="429.6" cy="159.5" r="1.5" fill="none" stroke="#222" stroke-width="0.8"/>
<text x="377.5" y="218.8" font-size="6" text-anchor="end" font-weight="bold" textLength="19.8" lengthAdjust="spacingAndGlyphs" transform="rotate(-45 377.5 218.8)" fill="#222">CD19.ζ</text>
<text x="403.6" y="218.8" font-size="6" text-anchor="end" font-weight="bold" textLength="28.1" lengthAdjust="spacingAndGlyphs" transform="rotate(-45 403.6 218.8)" fill="#222">CD19.28.ζ</text>
<text x="430.2" y="218.8" font-size="6" text-anchor="end" font-weight="bold" textLength="43.5" lengthAdjust="spacingAndGlyphs" transform="rotate(-45 430.2 218.8)" fill="#222">CD19.28.4-1BB.ζ</text>
<text x="5.8" y="266.7" font-size="12.6" font-weight="bold" fill="#000">C</text>
<rect x="84.2" y="260.9" width="50.4" height="17.7" fill="#fff" stroke="#444" stroke-width="0.9"/>
<text x="109.4" y="272.65" font-size="8" text-anchor="middle" textLength="24.6" lengthAdjust="spacingAndGlyphs" fill="#111">CD19.ζ</text>
<line x1="55.7" y1="286.9" x2="55.7" y2="397.3" stroke="#555" stroke-width="0.9"/>
<line x1="55.7" y1="397.3" x2="169.9" y2="397.3" stroke="#555" stroke-width="0.9"/>
<line x1="53.3" y1="397.3" x2="55.7" y2="397.3" stroke="#555" stroke-width="0.8"/>
<text x="50.3" y="400" font-size="7.7" text-anchor="end" fill="#222">0</text>
<line x1="53.3" y1="383.5" x2="55.7" y2="383.5" stroke="#555" stroke-width="0.8"/>
<text x="50.3" y="386.2" font-size="7.7" text-anchor="end" fill="#222">5</text>
<line x1="53.3" y1="369.7" x2="55.7" y2="369.7" stroke="#555" stroke-width="0.8"/>
<text x="50.3" y="372.4" font-size="7.7" text-anchor="end" fill="#222">10</text>
<line x1="53.3" y1="355.9" x2="55.7" y2="355.9" stroke="#555" stroke-width="0.8"/>
<text x="50.3" y="358.6" font-size="7.7" text-anchor="end" fill="#222">15</text>
<line x1="53.3" y1="342.1" x2="55.7" y2="342.1" stroke="#555" stroke-width="0.8"/>
<text x="50.3" y="344.8" font-size="7.7" text-anchor="end" fill="#222">20</text>
<line x1="53.3" y1="328.3" x2="55.7" y2="328.3" stroke="#555" stroke-width="0.8"/>
<text x="50.3" y="331" font-size="7.7" text-anchor="end" fill="#222">25</text>
<line x1="53.3" y1="314.5" x2="55.7" y2="314.5" stroke="#555" stroke-width="0.8"/>
<text x="50.3" y="317.2" font-size="7.7" text-anchor="end" fill="#222">30</text>
<line x1="53.3" y1="300.7" x2="55.7" y2="300.7" stroke="#555" stroke-width="0.8"/>
<text x="50.3" y="303.4" font-size="7.7" text-anchor="end" fill="#222">35</text>
<line x1="53.3" y1="286.9" x2="55.7" y2="286.9" stroke="#555" stroke-width="0.8"/>
<text x="50.3" y="289.6" font-size="7.7" text-anchor="end" fill="#222">40</text>
<line x1="55.7" y1="397.3" x2="55.7" y2="399.7" stroke="#555" stroke-width="0.8"/>
<line x1="93.7" y1="397.3" x2="93.7" y2="399.7" stroke="#555" stroke-width="0.8"/>
<line x1="131.7" y1="397.3" x2="131.7" y2="399.7" stroke="#555" stroke-width="0.8"/>
<line x1="169.9" y1="397.3" x2="169.9" y2="399.7" stroke="#555" stroke-width="0.8"/>
<text x="74.7" y="410.8" font-size="7.6" text-anchor="middle" fill="#222">day0</text>
<text x="112.7" y="410.8" font-size="7.6" text-anchor="middle" fill="#222">day7</text>
<text x="150.7" y="410.8" font-size="7.6" text-anchor="middle" fill="#222">day14</text>
<text transform="translate(31 339.7) rotate(-90)" x="0" y="0" font-size="8.6" text-anchor="middle" textLength="58.6" lengthAdjust="spacingAndGlyphs" fill="#222">Fold expansion</text>
<line x1="150.7" y1="304.56" x2="150.7" y2="358.11" stroke="#8a8a8a" stroke-width="0.9"/>
<line x1="147.7" y1="304.56" x2="153.7" y2="304.56" stroke="#8a8a8a" stroke-width="0.9"/>
<line x1="147.7" y1="358.11" x2="153.7" y2="358.11" stroke="#8a8a8a" stroke-width="0.9"/>
<line x1="150.7" y1="359.76" x2="150.7" y2="390.68" stroke="#8a8a8a" stroke-width="0.9"/>
<line x1="147.7" y1="390.68" x2="153.7" y2="390.68" stroke="#8a8a8a" stroke-width="0.9"/>
<rect x="148.5" y="357.96" width="4.4" height="3.6" fill="#dcdcdc" stroke="#b0b0b0" stroke-width="0.5"/>
<line x1="112.7" y1="378.81" x2="112.7" y2="388.47" stroke="#8a8a8a" stroke-width="0.9"/>
<line x1="110.5" y1="378.81" x2="114.9" y2="378.81" stroke="#8a8a8a" stroke-width="0.9"/>
<line x1="110.5" y1="388.47" x2="114.9" y2="388.47" stroke="#8a8a8a" stroke-width="0.9"/>
<path d="M74.7 394.54 L112.7 384.88 L150.7 375.22" fill="none" stroke="#000" stroke-width="1.2" stroke-dasharray="2.8 1.5"/>
<path d="M74.7 394.54 L112.7 382.12 L150.7 331.34" fill="none" stroke="#000" stroke-width="1.2"/>
<rect x="71.6" y="391.54" width="6.2" height="6" fill="#000" stroke="none" stroke-width="1"/>
<rect x="109.6" y="381.88" width="6.2" height="6" fill="#000" stroke="none" stroke-width="1"/>
<rect x="147.6" y="372.22" width="6.2" height="6" fill="#000" stroke="none" stroke-width="1"/>
<path d="M74.7 391.64 L77.6 394.54 L74.7 397.44 L71.8 394.54 Z" fill="#000" stroke="none" stroke-width="1"/>
<path d="M112.7 379.22 L115.6 382.12 L112.7 385.02 L109.8 382.12 Z" fill="#000" stroke="none" stroke-width="1"/>
<path d="M150.7 328.44 L153.6 331.34 L150.7 334.24 L147.8 331.34 Z" fill="#000" stroke="none" stroke-width="1"/>
<text x="159.2" y="380.8" font-size="9.5" text-anchor="middle" font-weight="bold" fill="#222">*</text>
<line x1="66.7" y1="299.2" x2="94.7" y2="299.2" stroke="#000" stroke-width="1.1"/>
<path d="M81.2 296.6 L83.8 299.2 L81.2 301.8 L78.6 299.2 Z" fill="#000" stroke="none" stroke-width="1"/>
<line x1="66.7" y1="309.7" x2="94.7" y2="309.7" stroke="#000" stroke-width="1.1" stroke-dasharray="3 1.6"/>
<rect x="78.8" y="307.3" width="4.8" height="4.8" fill="#000" stroke="none" stroke-width="1"/>
<text x="97.2" y="301.7" font-size="7" textLength="24.1" lengthAdjust="spacingAndGlyphs" fill="#222">KHAA(-)</text>
<text x="97.2" y="312.2" font-size="7" textLength="25.9" lengthAdjust="spacingAndGlyphs" fill="#222">KHAA(+)</text>
<rect x="245.8" y="261.3" width="58.2" height="17.9" fill="#fff" stroke="#444" stroke-width="0.9"/>
<text x="274.9" y="273.15" font-size="8" text-anchor="middle" textLength="35" lengthAdjust="spacingAndGlyphs" fill="#111">CD19.28.ζ</text>
<line x1="220.7" y1="289.3" x2="220.7" y2="396" stroke="#555" stroke-width="0.9"/>
<line x1="220.7" y1="396" x2="332.5" y2="396" stroke="#555" stroke-width="0.9"/>
<line x1="218.3" y1="396" x2="220.7" y2="396" stroke="#555" stroke-width="0.8"/>
<text x="215.3" y="398.7" font-size="7.7" text-anchor="end" fill="#222">0</text>
<line x1="218.3" y1="382.66" x2="220.7" y2="382.66" stroke="#555" stroke-width="0.8"/>
<text x="215.3" y="385.36" font-size="7.7" text-anchor="end" fill="#222">5</text>
<line x1="218.3" y1="369.32" x2="220.7" y2="369.32" stroke="#555" stroke-width="0.8"/>
<text x="215.3" y="372.02" font-size="7.7" text-anchor="end" fill="#222">10</text>
<line x1="218.3" y1="355.99" x2="220.7" y2="355.99" stroke="#555" stroke-width="0.8"/>
<text x="215.3" y="358.69" font-size="7.7" text-anchor="end" fill="#222">15</text>
<line x1="218.3" y1="342.65" x2="220.7" y2="342.65" stroke="#555" stroke-width="0.8"/>
<text x="215.3" y="345.35" font-size="7.7" text-anchor="end" fill="#222">20</text>
<line x1="218.3" y1="329.31" x2="220.7" y2="329.31" stroke="#555" stroke-width="0.8"/>
<text x="215.3" y="332.01" font-size="7.7" text-anchor="end" fill="#222">25</text>
<line x1="218.3" y1="315.98" x2="220.7" y2="315.98" stroke="#555" stroke-width="0.8"/>
<text x="215.3" y="318.68" font-size="7.7" text-anchor="end" fill="#222">30</text>
<line x1="218.3" y1="302.64" x2="220.7" y2="302.64" stroke="#555" stroke-width="0.8"/>
<text x="215.3" y="305.34" font-size="7.7" text-anchor="end" fill="#222">35</text>
<line x1="218.3" y1="289.3" x2="220.7" y2="289.3" stroke="#555" stroke-width="0.8"/>
<text x="215.3" y="292" font-size="7.7" text-anchor="end" fill="#222">40</text>
<line x1="220.75" y1="396" x2="220.75" y2="398.4" stroke="#555" stroke-width="0.8"/>
<line x1="258.25" y1="396" x2="258.25" y2="398.4" stroke="#555" stroke-width="0.8"/>
<line x1="295.75" y1="396" x2="295.75" y2="398.4" stroke="#555" stroke-width="0.8"/>
<line x1="332.5" y1="396" x2="332.5" y2="398.4" stroke="#555" stroke-width="0.8"/>
<text x="239.5" y="409.5" font-size="7.6" text-anchor="middle" fill="#222">day0</text>
<text x="277" y="409.5" font-size="7.6" text-anchor="middle" fill="#222">day7</text>
<text x="315" y="409.5" font-size="7.6" text-anchor="middle" fill="#222">day14</text>
<text transform="translate(198.3 342.7) rotate(-90)" x="0" y="0" font-size="8.6" text-anchor="middle" textLength="58.6" lengthAdjust="spacingAndGlyphs" fill="#222">Fold expansion</text>
<line x1="315" y1="310.64" x2="315" y2="332.25" stroke="#8a8a8a" stroke-width="0.9"/>
<line x1="312" y1="310.64" x2="318" y2="310.64" stroke="#8a8a8a" stroke-width="0.9"/>
<line x1="312" y1="332.25" x2="318" y2="332.25" stroke="#8a8a8a" stroke-width="0.9"/>
<line x1="315" y1="351.72" x2="315" y2="384.53" stroke="#8a8a8a" stroke-width="0.9"/>
<line x1="312" y1="351.72" x2="318" y2="351.72" stroke="#8a8a8a" stroke-width="0.9"/>
<line x1="312" y1="384.53" x2="318" y2="384.53" stroke="#8a8a8a" stroke-width="0.9"/>
<line x1="277" y1="378.13" x2="277" y2="388.8" stroke="#8a8a8a" stroke-width="0.9"/>
<line x1="274.8" y1="378.13" x2="279.2" y2="378.13" stroke="#8a8a8a" stroke-width="0.9"/>
<line x1="274.8" y1="388.8" x2="279.2" y2="388.8" stroke="#8a8a8a" stroke-width="0.9"/>
<path d="M239.5 393.07 L277 385.33 L315 367.99" fill="none" stroke="#000" stroke-width="1.2" stroke-dasharray="2.8 1.5"/>
<path d="M239.5 393.07 L277 381.33 L315 321.04" fill="none" stroke="#000" stroke-width="1.2"/>
<rect x="236.4" y="390.07" width="6.2" height="6" fill="#000" stroke="none" stroke-width="1"/>
<rect x="273.9" y="382.33" width="6.2" height="6" fill="#000" stroke="none" stroke-width="1"/>
<rect x="311.9" y="364.99" width="6.2" height="6" fill="#000" stroke="none" stroke-width="1"/>
<path d="M239.5 390.17 L242.4 393.07 L239.5 395.97 L236.6 393.07 Z" fill="#000" stroke="none" stroke-width="1"/>
<path d="M277 378.43 L279.9 381.33 L277 384.23 L274.1 381.33 Z" fill="#000" stroke="none" stroke-width="1"/>
<path d="M315 318.14 L317.9 321.04 L315 323.94 L312.1 321.04 Z" fill="#000" stroke="none" stroke-width="1"/>
<text x="323.6" y="374.2" font-size="9.5" text-anchor="middle" font-weight="bold" fill="#222">*</text>
<line x1="230.5" y1="300.1" x2="258.5" y2="300.1" stroke="#000" stroke-width="1.1"/>
<path d="M245 297.5 L247.6 300.1 L245 302.7 L242.4 300.1 Z" fill="#000" stroke="none" stroke-width="1"/>
<line x1="230.5" y1="311.5" x2="258.5" y2="311.5" stroke="#000" stroke-width="1.1" stroke-dasharray="3 1.6"/>
<rect x="242.6" y="309.1" width="4.8" height="4.8" fill="#000" stroke="none" stroke-width="1"/>
<text x="261" y="302.6" font-size="7" textLength="24.1" lengthAdjust="spacingAndGlyphs" fill="#222">KHAA(-)</text>
<text x="261" y="314" font-size="7" textLength="25.9" lengthAdjust="spacingAndGlyphs" fill="#222">KHAA(+)</text>
<rect x="389.9" y="261.3" width="78.7" height="17.3" fill="#fff" stroke="#444" stroke-width="0.9"/>
<text x="429.25" y="272.85" font-size="8" text-anchor="middle" textLength="57" lengthAdjust="spacingAndGlyphs" fill="#111">CD19.28.4-1BB.ζ</text>
<line x1="377.2" y1="287.3" x2="377.2" y2="395.8" stroke="#555" stroke-width="0.9"/>
<line x1="377.2" y1="395.8" x2="489.7" y2="395.8" stroke="#555" stroke-width="0.9"/>
<line x1="374.8" y1="395.8" x2="377.2" y2="395.8" stroke="#555" stroke-width="0.8"/>
<text x="371.8" y="398.5" font-size="7.7" text-anchor="end" fill="#222">0</text>
<line x1="374.8" y1="382.24" x2="377.2" y2="382.24" stroke="#555" stroke-width="0.8"/>
<text x="371.8" y="384.94" font-size="7.7" text-anchor="end" fill="#222">5</text>
<line x1="374.8" y1="368.68" x2="377.2" y2="368.68" stroke="#555" stroke-width="0.8"/>
<text x="371.8" y="371.38" font-size="7.7" text-anchor="end" fill="#222">10</text>
<line x1="374.8" y1="355.11" x2="377.2" y2="355.11" stroke="#555" stroke-width="0.8"/>
<text x="371.8" y="357.81" font-size="7.7" text-anchor="end" fill="#222">15</text>
<line x1="374.8" y1="341.55" x2="377.2" y2="341.55" stroke="#555" stroke-width="0.8"/>
<text x="371.8" y="344.25" font-size="7.7" text-anchor="end" fill="#222">20</text>
<line x1="374.8" y1="327.99" x2="377.2" y2="327.99" stroke="#555" stroke-width="0.8"/>
<text x="371.8" y="330.69" font-size="7.7" text-anchor="end" fill="#222">25</text>
<line x1="374.8" y1="314.43" x2="377.2" y2="314.43" stroke="#555" stroke-width="0.8"/>
<text x="371.8" y="317.12" font-size="7.7" text-anchor="end" fill="#222">30</text>
<line x1="374.8" y1="300.86" x2="377.2" y2="300.86" stroke="#555" stroke-width="0.8"/>
<text x="371.8" y="303.56" font-size="7.7" text-anchor="end" fill="#222">35</text>
<line x1="374.8" y1="287.3" x2="377.2" y2="287.3" stroke="#555" stroke-width="0.8"/>
<text x="371.8" y="290" font-size="7.7" text-anchor="end" fill="#222">40</text>
<line x1="377.55" y1="395.8" x2="377.55" y2="398.2" stroke="#555" stroke-width="0.8"/>
<line x1="414.45" y1="395.8" x2="414.45" y2="398.2" stroke="#555" stroke-width="0.8"/>
<line x1="451.35" y1="395.8" x2="451.35" y2="398.2" stroke="#555" stroke-width="0.8"/>
<line x1="489.7" y1="395.8" x2="489.7" y2="398.2" stroke="#555" stroke-width="0.8"/>
<text x="396" y="409.3" font-size="7.6" text-anchor="middle" fill="#222">day0</text>
<text x="432.9" y="409.3" font-size="7.6" text-anchor="middle" fill="#222">day7</text>
<text x="471" y="409.3" font-size="7.6" text-anchor="middle" fill="#222">day14</text>
<text transform="translate(353.3 341) rotate(-90)" x="0" y="0" font-size="8.6" text-anchor="middle" textLength="58.6" lengthAdjust="spacingAndGlyphs" fill="#222">Fold expansion</text>
<line x1="471" y1="292.73" x2="471" y2="341.55" stroke="#8a8a8a" stroke-width="0.9"/>
<line x1="468" y1="292.73" x2="474" y2="292.73" stroke="#8a8a8a" stroke-width="0.9"/>
<line x1="468" y1="341.55" x2="474" y2="341.55" stroke="#8a8a8a" stroke-width="0.9"/>
<line x1="471" y1="367.86" x2="471" y2="389.56" stroke="#8a8a8a" stroke-width="0.9"/>
<line x1="468" y1="367.86" x2="474" y2="367.86" stroke="#8a8a8a" stroke-width="0.9"/>
<line x1="468" y1="389.56" x2="474" y2="389.56" stroke="#8a8a8a" stroke-width="0.9"/>
<line x1="432.9" y1="376.27" x2="432.9" y2="388.48" stroke="#8a8a8a" stroke-width="0.9"/>
<line x1="430.7" y1="376.27" x2="435.1" y2="376.27" stroke="#8a8a8a" stroke-width="0.9"/>
<line x1="430.7" y1="388.48" x2="435.1" y2="388.48" stroke="#8a8a8a" stroke-width="0.9"/>
<path d="M396 393.09 L432.9 384.95 L471 378.17" fill="none" stroke="#000" stroke-width="1.2" stroke-dasharray="2.8 1.5"/>
<path d="M396 393.09 L432.9 379.53 L471 317.14" fill="none" stroke="#000" stroke-width="1.2"/>
<rect x="392.9" y="390.09" width="6.2" height="6" fill="#000" stroke="none" stroke-width="1"/>
<rect x="429.8" y="381.95" width="6.2" height="6" fill="#000" stroke="none" stroke-width="1"/>
<rect x="467.9" y="375.17" width="6.2" height="6" fill="#000" stroke="none" stroke-width="1"/>
<path d="M396 390.19 L398.9 393.09 L396 395.99 L393.1 393.09 Z" fill="#000" stroke="none" stroke-width="1"/>
<path d="M432.9 376.63 L435.8 379.53 L432.9 382.43 L430 379.53 Z" fill="#000" stroke="none" stroke-width="1"/>
<path d="M471 314.24 L473.9 317.14 L471 320.04 L468.1 317.14 Z" fill="#000" stroke="none" stroke-width="1"/>
<text x="479" y="382.2" font-size="9.5" text-anchor="middle" font-weight="bold" fill="#222">*</text>
<line x1="386.7" y1="300.1" x2="414.7" y2="300.1" stroke="#000" stroke-width="1.1"/>
<path d="M401.2 297.5 L403.8 300.1 L401.2 302.7 L398.6 300.1 Z" fill="#000" stroke="none" stroke-width="1"/>
<line x1="386.7" y1="311.1" x2="414.7" y2="311.1" stroke="#000" stroke-width="1.1" stroke-dasharray="3 1.6"/>
<rect x="398.8" y="308.7" width="4.8" height="4.8" fill="#000" stroke="none" stroke-width="1"/>
<text x="417.2" y="302.6" font-size="7" textLength="24.1" lengthAdjust="spacingAndGlyphs" fill="#222">KHAA(-)</text>
<text x="417.2" y="313.6" font-size="7" textLength="25.9" lengthAdjust="spacingAndGlyphs" fill="#222">KHAA(+)</text>
<text x="5.6" y="434.1" font-size="12.6" font-weight="bold" fill="#000">D</text>
<rect x="66" y="433.4" width="51.7" height="18.6" fill="#fff" stroke="#444" stroke-width="0.9"/>
<text x="91.85" y="445.7" font-size="7.6" text-anchor="middle" textLength="24" lengthAdjust="spacingAndGlyphs" fill="#111">CD19.ζ</text>
<text transform="translate(23.7 492.4) rotate(-90)" x="0" y="0" font-size="8.6" text-anchor="middle" textLength="13.8" lengthAdjust="spacingAndGlyphs" fill="#111">CD3</text>
<text x="58.15" y="464.9" font-size="7.4" text-anchor="middle" textLength="26" lengthAdjust="spacingAndGlyphs" fill="#111">KHAA(-)</text>
<rect x="31.2" y="468.6" width="53.9" height="44.3" fill="#fff" stroke="#666" stroke-width="0.9"/>
<path d="M60.63 488.75h0.6v0.6h-0.6zM60.99 485.44h0.6v0.6h-0.6zM52.54 485.85h0.6v0.6h-0.6zM77.04 488.4h0.6v0.6h-0.6zM76.14 487.7h0.6v0.6h-0.6zM68.44 487.44h0.6v0.6h-0.6zM69.78 488.7h0.6v0.6h-0.6zM53.02 484.83h0.6v0.6h-0.6zM67.37 486.52h0.6v0.6h-0.6zM69.95 484.13h0.6v0.6h-0.6zM67.4 488.28h0.6v0.6h-0.6zM70.38 491.49h0.6v0.6h-0.6zM56.26 483.74h0.6v0.6h-0.6zM59.57 486.27h0.6v0.6h-0.6zM71.28 487.69h0.6v0.6h-0.6zM58.33 482.87h0.6v0.6h-0.6zM57.45 491.58h0.6v0.6h-0.6zM54 487.68h0.6v0.6h-0.6zM68.82 480.74h0.6v0.6h-0.6zM64.28 491.92h0.6v0.6h-0.6zM62.43 483.43h0.6v0.6h-0.6zM69.67 486.45h0.6v0.6h-0.6zM71.73 490.48h0.6v0.6h-0.6zM80.99 488.15h0.6v0.6h-0.6zM65.13 481.5h0.6v0.6h-0.6zM71.09 484.25h0.6v0.6h-0.6zM58.27 481.64h0.6v0.6h-0.6zM79.17 478.57h0.6v0.6h-0.6zM81.02 489.01h0.6v0.6h-0.6zM67.99 483.75h0.6v0.6h-0.6zM76.92 487.33h0.6v0.6h-0.6zM66.65 488.44h0.6v0.6h-0.6zM82.83 489.18h0.6v0.6h-0.6zM69.92 488.89h0.6v0.6h-0.6zM75.16 488.82h0.6v0.6h-0.6zM73.81 479.46h0.6v0.6h-0.6zM61.49 490.78h0.6v0.6h-0.6zM70.32 486.1h0.6v0.6h-0.6zM67.6 489.3h0.6v0.6h-0.6zM65.14 491.28h0.6v0.6h-0.6zM55.76 485.04h0.6v0.6h-0.6zM76.2 486.81h0.6v0.6h-0.6zM53.13 490.49h0.6v0.6h-0.6zM81.29 484.92h0.6v0.6h-0.6zM61.91 485.51h0.6v0.6h-0.6zM80.56 482.59h0.6v0.6h-0.6zM78.83 481.63h0.6v0.6h-0.6z" fill="#8a8a8a" stroke="none" stroke-width="1"/>
<path d="M64.63 479.82h0.6v0.6h-0.6zM55.85 484.08h0.6v0.6h-0.6zM54.59 473.82h0.6v0.6h-0.6zM59.05 475.54h0.6v0.6h-0.6zM63.04 473.55h0.6v0.6h-0.6zM52.71 475.34h0.6v0.6h-0.6zM55.78 479.18h0.6v0.6h-0.6zM53.48 488.43h0.6v0.6h-0.6zM71.37 475.29h0.6v0.6h-0.6zM60.37 478.89h0.6v0.6h-0.6zM63.77 474.82h0.6v0.6h-0.6zM78.51 490.58h0.6v0.6h-0.6zM66.87 481.36h0.6v0.6h-0.6zM55.31 474.45h0.6v0.6h-0.6zM63.12 477.39h0.6v0.6h-0.6z" fill="#aaa" stroke="none" stroke-width="1"/>
<path d="M40.61 496.57h0.6v0.6h-0.6zM36.43 499.1h0.6v0.6h-0.6zM38.07 499.32h0.6v0.6h-0.6zM38.87 505.42h0.6v0.6h-0.6zM43.48 508.65h0.6v0.6h-0.6zM37.5 503.44h0.6v0.6h-0.6zM40.08 506.87h0.6v0.6h-0.6zM38.45 500.85h0.6v0.6h-0.6zM43.19 500.55h0.6v0.6h-0.6zM38.76 508.9h0.6v0.6h-0.6zM44.44 497.94h0.6v0.6h-0.6zM43.77 498.11h0.6v0.6h-0.6zM39.86 503.93h0.6v0.6h-0.6zM40.31 503.53h0.6v0.6h-0.6zM42.27 493.92h0.6v0.6h-0.6zM45.53 504.18h0.6v0.6h-0.6zM46.57 494.07h0.6v0.6h-0.6zM43.03 509.24h0.6v0.6h-0.6zM34.75 509.06h0.6v0.6h-0.6z" fill="#999" stroke="none" stroke-width="1"/>
<path d="M82.24 500.51h0.6v0.6h-0.6zM64.9 509.98h0.6v0.6h-0.6zM74.73 496.62h0.6v0.6h-0.6zM56.56 496.3h0.6v0.6h-0.6zM80.21 507.57h0.6v0.6h-0.6zM57.14 507.92h0.6v0.6h-0.6zM82.5 505.01h0.6v0.6h-0.6zM63.35 503.14h0.6v0.6h-0.6zM56.68 493.94h0.6v0.6h-0.6zM82.22 504.87h0.6v0.6h-0.6zM68.71 509.76h0.6v0.6h-0.6zM65.89 508.69h0.6v0.6h-0.6z" fill="#aaa" stroke="none" stroke-width="1"/>
<path d="M70.85 498.94h0.6v0.6h-0.6zM67.91 506.16h0.6v0.6h-0.6zM68.71 508.63h0.6v0.6h-0.6zM67.45 507.2h0.6v0.6h-0.6zM81.42 510.05h0.6v0.6h-0.6zM61.95 506.4h0.6v0.6h-0.6zM56.91 501.94h0.6v0.6h-0.6zM66.27 501.86h0.6v0.6h-0.6zM62.68 503.17h0.6v0.6h-0.6zM84.12 502.22h0.6v0.6h-0.6zM72.78 507h0.6v0.6h-0.6zM66.22 495.7h0.6v0.6h-0.6zM63 507.37h0.6v0.6h-0.6zM53.18 499.01h0.6v0.6h-0.6zM77.07 505.96h0.6v0.6h-0.6zM68.07 506.03h0.6v0.6h-0.6zM69.49 496.11h0.6v0.6h-0.6zM53.92 498.81h0.6v0.6h-0.6zM76.3 499.17h0.6v0.6h-0.6zM59.88 498.15h0.6v0.6h-0.6zM54.21 501.41h0.6v0.6h-0.6zM57.38 503.82h0.6v0.6h-0.6z" fill="#555" stroke="none" stroke-width="1"/>
<path d="M37.59 480.69h0.6v0.6h-0.6zM44.42 486.02h0.6v0.6h-0.6zM42.26 485.43h0.6v0.6h-0.6zM44.7 489.29h0.6v0.6h-0.6zM44.13 487.95h0.6v0.6h-0.6zM47.47 489.01h0.6v0.6h-0.6zM43.06 480.23h0.6v0.6h-0.6zM45.28 491.09h0.6v0.6h-0.6zM39.32 485.4h0.6v0.6h-0.6zM50.5 481.27h0.6v0.6h-0.6zM43.14 494.66h0.6v0.6h-0.6zM36.16 489.11h0.6v0.6h-0.6zM50.23 486.52h0.6v0.6h-0.6zM43.61 489.79h0.6v0.6h-0.6zM36.27 486.61h0.6v0.6h-0.6zM42.26 489.54h0.6v0.6h-0.6zM40.63 486.27h0.6v0.6h-0.6zM35.72 485.75h0.6v0.6h-0.6zM45.26 487.23h0.6v0.6h-0.6zM36.53 484.21h0.6v0.6h-0.6zM54.13 490.55h0.6v0.6h-0.6zM43.99 478.6h0.6v0.6h-0.6zM43.91 488.44h0.6v0.6h-0.6zM49.22 488.27h0.6v0.6h-0.6zM40.46 488.57h0.6v0.6h-0.6zM42.42 484.65h0.6v0.6h-0.6zM47.43 492.69h0.6v0.6h-0.6zM33.79 484.77h0.6v0.6h-0.6zM42.26 487.49h0.6v0.6h-0.6zM38.81 483.78h0.6v0.6h-0.6zM51.4 490.22h0.6v0.6h-0.6zM34.83 482.6h0.6v0.6h-0.6zM49.32 490.07h0.6v0.6h-0.6zM49.9 489.49h0.6v0.6h-0.6zM36.44 487.73h0.6v0.6h-0.6zM40.51 488.57h0.6v0.6h-0.6zM37.16 486.5h0.6v0.6h-0.6zM43.09 488.11h0.6v0.6h-0.6zM43.99 487.57h0.6v0.6h-0.6zM39.18 489.43h0.6v0.6h-0.6zM41.05 484.26h0.6v0.6h-0.6zM37.67 486.9h0.6v0.6h-0.6zM40.25 487.4h0.6v0.6h-0.6zM40.8 487.46h0.6v0.6h-0.6zM40.13 482.87h0.6v0.6h-0.6zM42.91 490.27h0.6v0.6h-0.6zM42.97 486.29h0.6v0.6h-0.6zM43.03 483.81h0.6v0.6h-0.6zM36.15 489.27h0.6v0.6h-0.6zM35.38 478.49h0.6v0.6h-0.6zM35.6 491.95h0.6v0.6h-0.6zM38.89 482.52h0.6v0.6h-0.6zM36.98 488.57h0.6v0.6h-0.6zM43.28 487.47h0.6v0.6h-0.6zM48.22 489.16h0.6v0.6h-0.6zM40.7 488.81h0.6v0.6h-0.6zM49.07 490.01h0.6v0.6h-0.6zM45.92 483.43h0.6v0.6h-0.6zM40.06 489.24h0.6v0.6h-0.6zM39.32 490.32h0.6v0.6h-0.6zM43.78 489.81h0.6v0.6h-0.6zM39.74 495.05h0.6v0.6h-0.6zM47 486.21h0.6v0.6h-0.6zM41.25 495.2h0.6v0.6h-0.6zM39.08 489.7h0.6v0.6h-0.6zM45.7 486.92h0.6v0.6h-0.6zM34.96 487.5h0.6v0.6h-0.6zM42.6 490.51h0.6v0.6h-0.6zM44.71 486.98h0.6v0.6h-0.6zM45.07 488.63h0.6v0.6h-0.6zM41.83 487.08h0.6v0.6h-0.6zM39.58 489.1h0.6v0.6h-0.6zM35.53 484.89h0.6v0.6h-0.6zM40.82 482.22h0.6v0.6h-0.6zM38.62 480.47h0.6v0.6h-0.6zM37.39 488.72h0.6v0.6h-0.6zM43.63 486.73h0.6v0.6h-0.6zM39.64 482.37h0.6v0.6h-0.6zM49.94 488.55h0.6v0.6h-0.6zM46.27 484.08h0.6v0.6h-0.6zM39.87 481.08h0.6v0.6h-0.6zM44.7 489.89h0.6v0.6h-0.6zM43.95 481.26h0.6v0.6h-0.6zM37.65 482.41h0.6v0.6h-0.6z" fill="#666" stroke="none" stroke-width="1"/>
<ellipse cx="37.8" cy="486.4" rx="4.6" ry="3.9" fill="#000" filter="url(#bl)"/>
<path d="M37.89 487h0.7v0.7h-0.7zM39.58 488.08h0.7v0.7h-0.7zM42.01 489.19h0.7v0.7h-0.7zM34.13 485.19h0.7v0.7h-0.7zM34.83 483.82h0.7v0.7h-0.7zM37.57 486.41h0.7v0.7h-0.7zM39.17 482.59h0.7v0.7h-0.7zM34.33 486.34h0.7v0.7h-0.7zM37.24 485.65h0.7v0.7h-0.7zM37.62 484.58h0.7v0.7h-0.7zM39.76 487.25h0.7v0.7h-0.7zM37.55 484.79h0.7v0.7h-0.7zM37.31 479.87h0.7v0.7h-0.7zM35.05 486.49h0.7v0.7h-0.7zM33.59 486.88h0.7v0.7h-0.7zM38.21 483.09h0.7v0.7h-0.7zM37.1 485.65h0.7v0.7h-0.7zM39.09 487.87h0.7v0.7h-0.7zM37.7 484.36h0.7v0.7h-0.7zM37.4 486.24h0.7v0.7h-0.7zM39.86 487.11h0.7v0.7h-0.7zM35.78 483.15h0.7v0.7h-0.7zM36.76 484.62h0.7v0.7h-0.7zM34.69 486.12h0.7v0.7h-0.7zM36.43 486.65h0.7v0.7h-0.7zM39.27 485.41h0.7v0.7h-0.7zM44.31 485.63h0.7v0.7h-0.7zM40.88 486.69h0.7v0.7h-0.7zM40.93 480.7h0.7v0.7h-0.7zM35.7 486.99h0.7v0.7h-0.7zM39.49 492.01h0.7v0.7h-0.7zM38.7 489.47h0.7v0.7h-0.7zM39.95 488.67h0.7v0.7h-0.7zM39.23 486.03h0.7v0.7h-0.7zM39.23 483.81h0.7v0.7h-0.7zM41.11 483.96h0.7v0.7h-0.7zM38.5 491.49h0.7v0.7h-0.7zM37.17 486.45h0.7v0.7h-0.7zM41.06 486.46h0.7v0.7h-0.7zM35.54 487.02h0.7v0.7h-0.7zM39.43 488.1h0.7v0.7h-0.7zM35.64 490.61h0.7v0.7h-0.7zM42.47 486.44h0.7v0.7h-0.7zM38.55 485.37h0.7v0.7h-0.7zM41.76 484.71h0.7v0.7h-0.7zM39.69 485.25h0.7v0.7h-0.7zM35.86 488.12h0.7v0.7h-0.7zM41.53 486.38h0.7v0.7h-0.7zM35.9 488.35h0.7v0.7h-0.7zM37.66 487.15h0.7v0.7h-0.7zM42.06 489.12h0.7v0.7h-0.7zM36.34 491.88h0.7v0.7h-0.7zM37.81 488.29h0.7v0.7h-0.7zM35.99 486.29h0.7v0.7h-0.7zM32.9 490.69h0.7v0.7h-0.7zM41.62 483.48h0.7v0.7h-0.7zM33.59 482.51h0.7v0.7h-0.7zM41.09 485.3h0.7v0.7h-0.7zM37.63 485.65h0.7v0.7h-0.7zM37.46 483.79h0.7v0.7h-0.7zM37.87 482.95h0.7v0.7h-0.7zM37.6 487.14h0.7v0.7h-0.7zM39.11 485.84h0.7v0.7h-0.7zM35.27 486.78h0.7v0.7h-0.7zM36.44 490.16h0.7v0.7h-0.7zM39.95 486.12h0.7v0.7h-0.7zM36.48 484.71h0.7v0.7h-0.7zM35.18 485.55h0.7v0.7h-0.7zM38.63 487.64h0.7v0.7h-0.7zM39.39 491.44h0.7v0.7h-0.7zM35.83 486.43h0.7v0.7h-0.7zM45.62 481.92h0.7v0.7h-0.7zM36.34 486.81h0.7v0.7h-0.7zM38.23 487.38h0.7v0.7h-0.7zM37.13 487.28h0.7v0.7h-0.7zM37.95 488.25h0.7v0.7h-0.7zM32.5 484.28h0.7v0.7h-0.7zM37.79 483.92h0.7v0.7h-0.7zM34.87 487.91h0.7v0.7h-0.7zM35.98 487.92h0.7v0.7h-0.7zM39.89 487.14h0.7v0.7h-0.7zM39.22 486.15h0.7v0.7h-0.7zM33.85 486.33h0.7v0.7h-0.7zM39.07 485.13h0.7v0.7h-0.7zM37.52 488.2h0.7v0.7h-0.7zM35.34 487.94h0.7v0.7h-0.7zM43.02 485.07h0.7v0.7h-0.7zM38.21 486.04h0.7v0.7h-0.7zM42.11 487.16h0.7v0.7h-0.7zM40.31 484.74h0.7v0.7h-0.7zM37.75 486.38h0.7v0.7h-0.7zM32.83 489.86h0.7v0.7h-0.7zM40.32 482.2h0.7v0.7h-0.7zM39.88 486.09h0.7v0.7h-0.7zM39.06 487.28h0.7v0.7h-0.7zM33.6 485.89h0.7v0.7h-0.7zM41.98 485.02h0.7v0.7h-0.7zM34.94 483.14h0.7v0.7h-0.7zM34.38 487.21h0.7v0.7h-0.7zM42.54 487.43h0.7v0.7h-0.7zM38.49 491.76h0.7v0.7h-0.7zM36.35 484.78h0.7v0.7h-0.7zM39.28 487.72h0.7v0.7h-0.7zM34.96 483.59h0.7v0.7h-0.7zM38.61 486.99h0.7v0.7h-0.7zM34.14 485.91h0.7v0.7h-0.7zM36.28 487.5h0.7v0.7h-0.7zM37.47 486.19h0.7v0.7h-0.7zM36.81 488.93h0.7v0.7h-0.7zM41.69 485.52h0.7v0.7h-0.7zM40.17 484.58h0.7v0.7h-0.7zM38 488.2h0.7v0.7h-0.7zM42.04 485.48h0.7v0.7h-0.7zM37.59 486.87h0.7v0.7h-0.7zM33.61 486.44h0.7v0.7h-0.7zM35.91 487.29h0.7v0.7h-0.7zM34.64 481.66h0.7v0.7h-0.7zM37.91 487.03h0.7v0.7h-0.7zM36.26 488.53h0.7v0.7h-0.7zM37.04 484.95h0.7v0.7h-0.7zM39.14 482.64h0.7v0.7h-0.7zM35.9 486.35h0.7v0.7h-0.7zM40.18 486.01h0.7v0.7h-0.7zM38.66 484.83h0.7v0.7h-0.7zM38.64 490.39h0.7v0.7h-0.7zM35.88 492.08h0.7v0.7h-0.7zM36 486.44h0.7v0.7h-0.7zM38.29 488.86h0.7v0.7h-0.7zM34.34 481.36h0.7v0.7h-0.7zM39.5 488.31h0.7v0.7h-0.7zM39.55 492.71h0.7v0.7h-0.7zM38.37 487.01h0.7v0.7h-0.7zM40.4 487.29h0.7v0.7h-0.7zM42.46 483.43h0.7v0.7h-0.7zM36.75 478.13h0.7v0.7h-0.7zM40.07 485.51h0.7v0.7h-0.7zM40.39 491.57h0.7v0.7h-0.7zM37.78 485.79h0.7v0.7h-0.7zM36.4 484.39h0.7v0.7h-0.7zM36.03 487.93h0.7v0.7h-0.7zM37.9 486.56h0.7v0.7h-0.7zM37.31 488.59h0.7v0.7h-0.7zM39.18 486.06h0.7v0.7h-0.7zM39.66 486.04h0.7v0.7h-0.7zM34.57 489.89h0.7v0.7h-0.7zM39.1 484.1h0.7v0.7h-0.7zM40.82 487.23h0.7v0.7h-0.7zM33.42 490.26h0.7v0.7h-0.7zM38.73 488.54h0.7v0.7h-0.7zM38.35 486.04h0.7v0.7h-0.7zM33.47 488.73h0.7v0.7h-0.7zM37.88 485.71h0.7v0.7h-0.7zM38.78 486.59h0.7v0.7h-0.7zM39.69 485.51h0.7v0.7h-0.7zM37.7 481.27h0.7v0.7h-0.7zM36.61 488.02h0.7v0.7h-0.7zM41.54 485.53h0.7v0.7h-0.7zM37.46 490.2h0.7v0.7h-0.7zM36.89 488.16h0.7v0.7h-0.7zM42.5 486.5h0.7v0.7h-0.7zM41.24 484.69h0.7v0.7h-0.7zM38.38 486.21h0.7v0.7h-0.7zM38.12 489.11h0.7v0.7h-0.7zM44.49 484.8h0.7v0.7h-0.7zM36.19 487.59h0.7v0.7h-0.7zM34.85 487.59h0.7v0.7h-0.7zM39.4 485.73h0.7v0.7h-0.7zM39.29 482.68h0.7v0.7h-0.7zM39.93 482.69h0.7v0.7h-0.7zM35.85 485.07h0.7v0.7h-0.7zM36.68 488.46h0.7v0.7h-0.7zM38.03 485.45h0.7v0.7h-0.7zM39.32 490.2h0.7v0.7h-0.7zM37.82 487.28h0.7v0.7h-0.7zM41.27 487.04h0.7v0.7h-0.7zM34.21 492.38h0.7v0.7h-0.7zM43.98 481.64h0.7v0.7h-0.7zM37.69 487.4h0.7v0.7h-0.7zM40.5 488.01h0.7v0.7h-0.7zM37.04 483.87h0.7v0.7h-0.7zM38.09 488.88h0.7v0.7h-0.7zM34.75 483.93h0.7v0.7h-0.7zM37.73 481.75h0.7v0.7h-0.7zM37.07 485.35h0.7v0.7h-0.7zM39.06 484.72h0.7v0.7h-0.7zM35.33 485.45h0.7v0.7h-0.7zM37.66 484.8h0.7v0.7h-0.7zM37.83 488.2h0.7v0.7h-0.7zM41.12 490.49h0.7v0.7h-0.7zM35.61 485.39h0.7v0.7h-0.7zM35.77 486.32h0.7v0.7h-0.7zM39.26 483.14h0.7v0.7h-0.7zM39.1 486.34h0.7v0.7h-0.7zM32.69 487.1h0.7v0.7h-0.7zM41.14 481.92h0.7v0.7h-0.7zM40.06 486.9h0.7v0.7h-0.7zM39.13 487.46h0.7v0.7h-0.7zM41.45 485.86h0.7v0.7h-0.7zM40.25 485.42h0.7v0.7h-0.7z" fill="#111" stroke="none" stroke-width="1"/>
<line x1="51.7" y1="468.6" x2="51.7" y2="512.9" stroke="#666" stroke-width="0.9"/>
<line x1="31.2" y1="492.7" x2="85.1" y2="492.7" stroke="#666" stroke-width="0.9"/>
<text x="30.6" y="518.5" font-size="4.6" text-anchor="middle" textLength="3.6" lengthAdjust="spacingAndGlyphs" fill="#777">10</text>
<text x="32.8" y="516.5" font-size="3.2" text-anchor="middle" fill="#777">0</text>
<text x="44.07" y="518.5" font-size="4.6" text-anchor="middle" textLength="3.6" lengthAdjust="spacingAndGlyphs" fill="#777">10</text>
<text x="46.27" y="516.5" font-size="3.2" text-anchor="middle" fill="#777">1</text>
<text x="57.55" y="518.5" font-size="4.6" text-anchor="middle" textLength="3.6" lengthAdjust="spacingAndGlyphs" fill="#777">10</text>
<text x="59.75" y="516.5" font-size="3.2" text-anchor="middle" fill="#777">2</text>
<text x="71.03" y="518.5" font-size="4.6" text-anchor="middle" textLength="3.6" lengthAdjust="spacingAndGlyphs" fill="#777">10</text>
<text x="73.22" y="516.5" font-size="3.2" text-anchor="middle" fill="#777">3</text>
<text x="84.5" y="518.5" font-size="4.6" text-anchor="middle" textLength="3.6" lengthAdjust="spacingAndGlyphs" fill="#777">10</text>
<text x="86.7" y="516.5" font-size="3.2" text-anchor="middle" fill="#777">4</text>
<text x="59.15" y="521.4" font-size="3" text-anchor="middle" fill="#999">FITC</text>
<line x1="29.9" y1="512.9" x2="31.2" y2="512.9" stroke="#666" stroke-width="0.6"/>
<line x1="29.9" y1="504.04" x2="31.2" y2="504.04" stroke="#666" stroke-width="0.6"/>
<line x1="29.9" y1="495.18" x2="31.2" y2="495.18" stroke="#666" stroke-width="0.6"/>
<line x1="29.9" y1="486.32" x2="31.2" y2="486.32" stroke="#666" stroke-width="0.6"/>
<line x1="29.9" y1="477.46" x2="31.2" y2="477.46" stroke="#666" stroke-width="0.6"/>
<line x1="29.9" y1="468.6" x2="31.2" y2="468.6" stroke="#666" stroke-width="0.6"/>
<text x="117.8" y="464.9" font-size="7.4" text-anchor="middle" textLength="28.5" lengthAdjust="spacingAndGlyphs" fill="#111">KHAA(+)</text>
<rect x="89" y="468.6" width="54.2" height="44.3" fill="#fff" stroke="#666" stroke-width="0.9"/>
<path d="M130.54 483.24h0.6v0.6h-0.6zM127.15 485.87h0.6v0.6h-0.6zM124.12 490.26h0.6v0.6h-0.6zM126.91 488.6h0.6v0.6h-0.6zM121.3 491.91h0.6v0.6h-0.6zM117.11 484.3h0.6v0.6h-0.6zM132.46 486.75h0.6v0.6h-0.6zM118.46 484.2h0.6v0.6h-0.6zM118.72 488.99h0.6v0.6h-0.6zM126.04 481.66h0.6v0.6h-0.6zM126.92 487.22h0.6v0.6h-0.6zM118.43 485.16h0.6v0.6h-0.6zM131.35 491.78h0.6v0.6h-0.6zM113.54 488.25h0.6v0.6h-0.6zM115.87 491.28h0.6v0.6h-0.6zM114.03 489.75h0.6v0.6h-0.6zM116.59 488.5h0.6v0.6h-0.6zM120.69 483.83h0.6v0.6h-0.6zM114.87 487.08h0.6v0.6h-0.6zM136.93 486.97h0.6v0.6h-0.6zM135.99 489.46h0.6v0.6h-0.6zM112.01 489.94h0.6v0.6h-0.6zM127.76 489.09h0.6v0.6h-0.6zM132.6 489.43h0.6v0.6h-0.6zM132.38 476.67h0.6v0.6h-0.6zM123.83 488.47h0.6v0.6h-0.6zM117.85 486.64h0.6v0.6h-0.6zM132.43 484.73h0.6v0.6h-0.6zM135.57 483.35h0.6v0.6h-0.6zM125 484.39h0.6v0.6h-0.6zM123.7 483.74h0.6v0.6h-0.6zM125.44 484.27h0.6v0.6h-0.6zM124.21 490.46h0.6v0.6h-0.6zM128.27 488.6h0.6v0.6h-0.6zM117.78 478.07h0.6v0.6h-0.6zM136.72 487.81h0.6v0.6h-0.6zM121.96 485.39h0.6v0.6h-0.6zM124.96 484.8h0.6v0.6h-0.6zM114.64 484.05h0.6v0.6h-0.6zM138.29 487.31h0.6v0.6h-0.6zM113.03 486.69h0.6v0.6h-0.6zM123.58 479.56h0.6v0.6h-0.6zM114.51 487.15h0.6v0.6h-0.6zM116.17 486.82h0.6v0.6h-0.6zM130.61 489.57h0.6v0.6h-0.6zM132.67 488.85h0.6v0.6h-0.6zM118.34 486.43h0.6v0.6h-0.6zM118.55 485.25h0.6v0.6h-0.6zM119.64 479.6h0.6v0.6h-0.6zM117.8 486.4h0.6v0.6h-0.6zM127.99 485.84h0.6v0.6h-0.6zM119.32 479.2h0.6v0.6h-0.6zM128.03 485.29h0.6v0.6h-0.6zM128.42 477.53h0.6v0.6h-0.6zM132.02 487.99h0.6v0.6h-0.6zM122.07 484.15h0.6v0.6h-0.6zM129.46 484.56h0.6v0.6h-0.6zM124.48 484.46h0.6v0.6h-0.6zM124.23 489.52h0.6v0.6h-0.6zM111.29 486.37h0.6v0.6h-0.6zM129.21 487.08h0.6v0.6h-0.6zM110.9 478.82h0.6v0.6h-0.6zM132.87 489.76h0.6v0.6h-0.6zM114.38 483.65h0.6v0.6h-0.6zM132.46 482.85h0.6v0.6h-0.6zM113.56 483.58h0.6v0.6h-0.6zM124.58 483.5h0.6v0.6h-0.6zM137.52 486.19h0.6v0.6h-0.6zM114.8 487.39h0.6v0.6h-0.6zM121.65 485.24h0.6v0.6h-0.6zM125.7 483.73h0.6v0.6h-0.6zM121.52 486.72h0.6v0.6h-0.6zM128.47 486.98h0.6v0.6h-0.6zM112.28 483.66h0.6v0.6h-0.6zM127.62 488.62h0.6v0.6h-0.6zM120.34 485.8h0.6v0.6h-0.6zM133.04 486.56h0.6v0.6h-0.6zM130.65 488.83h0.6v0.6h-0.6zM124.36 491.73h0.6v0.6h-0.6zM114.93 485.06h0.6v0.6h-0.6zM112.1 483.31h0.6v0.6h-0.6zM122.07 488.77h0.6v0.6h-0.6zM135.9 489.73h0.6v0.6h-0.6zM136.26 481.45h0.6v0.6h-0.6zM114.13 488.31h0.6v0.6h-0.6zM139.02 486.92h0.6v0.6h-0.6zM111.5 485.08h0.6v0.6h-0.6zM113.87 483.07h0.6v0.6h-0.6zM139.81 484h0.6v0.6h-0.6zM136.02 487.84h0.6v0.6h-0.6zM114.46 488.14h0.6v0.6h-0.6zM141.26 488.99h0.6v0.6h-0.6zM136.94 486.89h0.6v0.6h-0.6zM128 485.7h0.6v0.6h-0.6zM126.92 491.7h0.6v0.6h-0.6zM124.68 484.22h0.6v0.6h-0.6zM118.1 489.65h0.6v0.6h-0.6zM125.71 480.29h0.6v0.6h-0.6zM121.39 482.03h0.6v0.6h-0.6zM121.12 482.12h0.6v0.6h-0.6zM122.65 488.37h0.6v0.6h-0.6zM122.17 487.62h0.6v0.6h-0.6zM113.96 479.23h0.6v0.6h-0.6zM119.55 483.45h0.6v0.6h-0.6zM125.29 481.77h0.6v0.6h-0.6zM129.99 485.89h0.6v0.6h-0.6zM123.33 486.02h0.6v0.6h-0.6zM121.23 489.43h0.6v0.6h-0.6zM120.69 476.88h0.6v0.6h-0.6zM121.54 482.94h0.6v0.6h-0.6zM129.62 484.06h0.6v0.6h-0.6z" fill="#8a8a8a" stroke="none" stroke-width="1"/>
<path d="M129.97 485h0.6v0.6h-0.6zM131.02 490.12h0.6v0.6h-0.6zM125.07 487.63h0.6v0.6h-0.6zM132.01 487.95h0.6v0.6h-0.6zM124.09 485.57h0.6v0.6h-0.6zM128.14 478.11h0.6v0.6h-0.6zM117.24 483.74h0.6v0.6h-0.6zM113.17 488.9h0.6v0.6h-0.6zM115.2 473.08h0.6v0.6h-0.6zM114.04 489.23h0.6v0.6h-0.6zM121.28 475.14h0.6v0.6h-0.6zM111.67 473.35h0.6v0.6h-0.6zM131.86 483.95h0.6v0.6h-0.6zM131.99 485.79h0.6v0.6h-0.6zM112.8 483.17h0.6v0.6h-0.6z" fill="#aaa" stroke="none" stroke-width="1"/>
<path d="M90.97 507.87h0.6v0.6h-0.6zM106.21 504.36h0.6v0.6h-0.6zM99.65 502.04h0.6v0.6h-0.6zM98.01 500.53h0.6v0.6h-0.6zM94.21 495.87h0.6v0.6h-0.6zM98.84 501.1h0.6v0.6h-0.6zM97.16 495.44h0.6v0.6h-0.6zM94.79 505.21h0.6v0.6h-0.6zM100.82 500.11h0.6v0.6h-0.6zM95.39 508.82h0.6v0.6h-0.6zM94.03 503.39h0.6v0.6h-0.6zM102.77 497.91h0.6v0.6h-0.6zM102.06 500.7h0.6v0.6h-0.6zM92.54 507.19h0.6v0.6h-0.6zM93.61 498.51h0.6v0.6h-0.6zM98.41 497.51h0.6v0.6h-0.6zM98.3 496.18h0.6v0.6h-0.6zM100.36 499.53h0.6v0.6h-0.6zM102.81 499.69h0.6v0.6h-0.6zM99.34 505.92h0.6v0.6h-0.6zM91.59 508.78h0.6v0.6h-0.6z" fill="#999" stroke="none" stroke-width="1"/>
<path d="M119.43 497.24h0.6v0.6h-0.6zM132.06 502.17h0.6v0.6h-0.6zM114.14 504.58h0.6v0.6h-0.6zM113.26 507.21h0.6v0.6h-0.6zM131.99 507.19h0.6v0.6h-0.6zM129.89 499.69h0.6v0.6h-0.6zM123 500.37h0.6v0.6h-0.6zM137.87 495h0.6v0.6h-0.6zM137.81 493.94h0.6v0.6h-0.6zM117.07 498.08h0.6v0.6h-0.6zM138.2 502.22h0.6v0.6h-0.6zM122.33 508.88h0.6v0.6h-0.6z" fill="#aaa" stroke="none" stroke-width="1"/>
<path d="M127.92 504.48h0.6v0.6h-0.6zM113.86 498.02h0.6v0.6h-0.6zM127.22 493.01h0.6v0.6h-0.6zM122.87 502.76h0.6v0.6h-0.6zM135.63 506.67h0.6v0.6h-0.6zM120.09 493.19h0.6v0.6h-0.6zM131.16 503.73h0.6v0.6h-0.6zM128.54 493.64h0.6v0.6h-0.6zM133.26 503.07h0.6v0.6h-0.6zM131.43 497.31h0.6v0.6h-0.6zM129.43 503.06h0.6v0.6h-0.6zM129.63 501.66h0.6v0.6h-0.6zM127.11 503.5h0.6v0.6h-0.6zM122.31 499.13h0.6v0.6h-0.6zM124.56 502.07h0.6v0.6h-0.6zM139.77 498.37h0.6v0.6h-0.6zM133.33 502.14h0.6v0.6h-0.6zM141.17 498.69h0.6v0.6h-0.6zM126.1 494.72h0.6v0.6h-0.6zM130.78 505.55h0.6v0.6h-0.6zM131.26 501.4h0.6v0.6h-0.6zM125.39 500.26h0.6v0.6h-0.6zM115.6 504.22h0.6v0.6h-0.6zM123.72 494.53h0.6v0.6h-0.6zM120.99 495.79h0.6v0.6h-0.6zM133.84 504.26h0.6v0.6h-0.6zM116.14 503.67h0.6v0.6h-0.6zM134.1 496.89h0.6v0.6h-0.6zM115.11 496.15h0.6v0.6h-0.6zM121.93 501.04h0.6v0.6h-0.6zM134.24 494.07h0.6v0.6h-0.6zM121.46 495.66h0.6v0.6h-0.6zM122.66 505.34h0.6v0.6h-0.6zM133.82 502.21h0.6v0.6h-0.6zM122.83 497.02h0.6v0.6h-0.6zM119.18 501.79h0.6v0.6h-0.6zM121.07 496.31h0.6v0.6h-0.6zM131.76 505.49h0.6v0.6h-0.6zM128.4 495.11h0.6v0.6h-0.6zM136.73 500.84h0.6v0.6h-0.6zM134.42 506.15h0.6v0.6h-0.6zM136.02 497.51h0.6v0.6h-0.6zM135.42 502.99h0.6v0.6h-0.6zM114.7 497.68h0.6v0.6h-0.6zM115.61 499.01h0.6v0.6h-0.6zM131.63 494.69h0.6v0.6h-0.6zM110.55 505.34h0.6v0.6h-0.6zM130.01 506.12h0.6v0.6h-0.6zM116.41 504.27h0.6v0.6h-0.6zM125.32 500.71h0.6v0.6h-0.6zM125.77 503.99h0.6v0.6h-0.6zM135.3 499.89h0.6v0.6h-0.6zM116.13 502.83h0.6v0.6h-0.6zM123.24 502.33h0.6v0.6h-0.6zM129.11 506.81h0.6v0.6h-0.6zM136.1 497.47h0.6v0.6h-0.6zM129.79 507.44h0.6v0.6h-0.6zM122.7 501.45h0.6v0.6h-0.6zM136.53 505.16h0.6v0.6h-0.6zM131.15 493.56h0.6v0.6h-0.6zM116.91 500.61h0.6v0.6h-0.6zM130.1 510.96h0.6v0.6h-0.6zM120.11 504.62h0.6v0.6h-0.6zM120.45 500.25h0.6v0.6h-0.6zM123.05 498.8h0.6v0.6h-0.6zM130.76 495.86h0.6v0.6h-0.6zM130.73 496.64h0.6v0.6h-0.6zM122.64 501.92h0.6v0.6h-0.6zM122.41 500.79h0.6v0.6h-0.6zM139.8 499.62h0.6v0.6h-0.6zM125.83 502.81h0.6v0.6h-0.6zM124.08 504.37h0.6v0.6h-0.6zM116.74 502.28h0.6v0.6h-0.6zM122.9 495.91h0.6v0.6h-0.6zM141.16 495.67h0.6v0.6h-0.6zM141.05 502.46h0.6v0.6h-0.6zM138.62 495.1h0.6v0.6h-0.6zM136.59 506.06h0.6v0.6h-0.6zM126.07 498.92h0.6v0.6h-0.6zM123.62 496.67h0.6v0.6h-0.6zM130.57 500.99h0.6v0.6h-0.6zM128.42 507.25h0.6v0.6h-0.6zM124.38 501.63h0.6v0.6h-0.6zM138.67 494.98h0.6v0.6h-0.6zM135.31 507.74h0.6v0.6h-0.6zM116.16 494.56h0.6v0.6h-0.6zM130.99 506.04h0.6v0.6h-0.6zM114.08 498.08h0.6v0.6h-0.6zM111.66 503.01h0.6v0.6h-0.6zM121.1 498.3h0.6v0.6h-0.6zM127.44 501.95h0.6v0.6h-0.6zM124.23 499.57h0.6v0.6h-0.6zM122.63 500.02h0.6v0.6h-0.6zM117.62 499.79h0.6v0.6h-0.6zM111.54 497.29h0.6v0.6h-0.6zM142.32 499.86h0.6v0.6h-0.6zM116.92 500.66h0.6v0.6h-0.6zM121.11 502.82h0.6v0.6h-0.6zM130.07 499.06h0.6v0.6h-0.6zM119.59 494.65h0.6v0.6h-0.6zM137.8 500.6h0.6v0.6h-0.6zM116.04 510.64h0.6v0.6h-0.6zM117.81 499.15h0.6v0.6h-0.6zM128.68 498.79h0.6v0.6h-0.6zM124.77 493.32h0.6v0.6h-0.6zM118.59 507.1h0.6v0.6h-0.6zM120.95 503.3h0.6v0.6h-0.6zM113.45 498.27h0.6v0.6h-0.6zM129.09 504.16h0.6v0.6h-0.6zM118.02 502.18h0.6v0.6h-0.6zM130.09 496.18h0.6v0.6h-0.6zM130.82 495.46h0.6v0.6h-0.6zM120.63 499.42h0.6v0.6h-0.6zM123.6 502.93h0.6v0.6h-0.6zM123.76 505.2h0.6v0.6h-0.6zM117.72 493.59h0.6v0.6h-0.6zM139.41 501.29h0.6v0.6h-0.6zM134.56 495.78h0.6v0.6h-0.6zM133.44 500.67h0.6v0.6h-0.6zM132.19 499.61h0.6v0.6h-0.6zM136.65 496.58h0.6v0.6h-0.6zM136.28 496.18h0.6v0.6h-0.6zM118.65 495.27h0.6v0.6h-0.6zM123.44 493.78h0.6v0.6h-0.6zM124.68 496.68h0.6v0.6h-0.6zM122.59 495.18h0.6v0.6h-0.6zM127.29 497.43h0.6v0.6h-0.6zM127.92 500.62h0.6v0.6h-0.6zM122.71 495.92h0.6v0.6h-0.6zM121.28 498.18h0.6v0.6h-0.6zM124.31 503.96h0.6v0.6h-0.6zM123.46 503.84h0.6v0.6h-0.6zM136.75 501.46h0.6v0.6h-0.6zM130.9 500.05h0.6v0.6h-0.6zM130.87 494.03h0.6v0.6h-0.6zM134.59 497.11h0.6v0.6h-0.6zM134.89 499.89h0.6v0.6h-0.6zM111.21 493.71h0.6v0.6h-0.6zM136.02 498.88h0.6v0.6h-0.6zM123.84 500.59h0.6v0.6h-0.6zM123.6 497.05h0.6v0.6h-0.6zM127.82 500.15h0.6v0.6h-0.6zM139.13 499.71h0.6v0.6h-0.6zM142.04 507.61h0.6v0.6h-0.6zM140.73 504.28h0.6v0.6h-0.6zM128.04 500.12h0.6v0.6h-0.6zM125.86 496.21h0.6v0.6h-0.6zM126.47 496.62h0.6v0.6h-0.6zM140.12 501.9h0.6v0.6h-0.6zM126.57 497.63h0.6v0.6h-0.6zM118.31 494.39h0.6v0.6h-0.6zM126.47 511.11h0.6v0.6h-0.6zM126.75 498.83h0.6v0.6h-0.6zM138.55 500.1h0.6v0.6h-0.6zM128.34 497.83h0.6v0.6h-0.6zM122.16 506.25h0.6v0.6h-0.6zM135 507.22h0.6v0.6h-0.6zM124.2 499.64h0.6v0.6h-0.6zM119.95 503.85h0.6v0.6h-0.6zM115.86 502.04h0.6v0.6h-0.6zM135.77 505.85h0.6v0.6h-0.6zM119.48 504.4h0.6v0.6h-0.6zM121.29 496.09h0.6v0.6h-0.6zM116.42 504.7h0.6v0.6h-0.6zM140.19 496.83h0.6v0.6h-0.6zM120.92 497.97h0.6v0.6h-0.6zM121.62 504.84h0.6v0.6h-0.6zM141.94 498.3h0.6v0.6h-0.6zM121.47 497.21h0.6v0.6h-0.6zM111.91 503.59h0.6v0.6h-0.6zM118.31 504.28h0.6v0.6h-0.6zM113.34 493.78h0.6v0.6h-0.6zM129.31 496.06h0.6v0.6h-0.6zM133.25 499.54h0.6v0.6h-0.6zM117.6 502.3h0.6v0.6h-0.6zM141.61 501.74h0.6v0.6h-0.6zM121.24 497.93h0.6v0.6h-0.6zM125.07 501.06h0.6v0.6h-0.6zM113.51 496.84h0.6v0.6h-0.6zM131.08 506.63h0.6v0.6h-0.6zM132.31 498.13h0.6v0.6h-0.6zM117.58 495.29h0.6v0.6h-0.6zM121.69 500.16h0.6v0.6h-0.6zM126.6 507h0.6v0.6h-0.6zM129.3 494.68h0.6v0.6h-0.6zM139.35 503.77h0.6v0.6h-0.6zM127.81 496.26h0.6v0.6h-0.6zM112.03 494.9h0.6v0.6h-0.6zM134.29 495.89h0.6v0.6h-0.6zM116.44 500.38h0.6v0.6h-0.6zM128.95 502.23h0.6v0.6h-0.6zM132.24 505.84h0.6v0.6h-0.6zM120.29 503.9h0.6v0.6h-0.6zM119.1 502.62h0.6v0.6h-0.6zM128.43 500.59h0.6v0.6h-0.6zM134.74 499.42h0.6v0.6h-0.6zM135.9 503.44h0.6v0.6h-0.6zM128.08 496.95h0.6v0.6h-0.6zM120.97 497.13h0.6v0.6h-0.6zM125.38 499.39h0.6v0.6h-0.6zM133.15 495.63h0.6v0.6h-0.6zM121.32 498.06h0.6v0.6h-0.6zM128.54 494.84h0.6v0.6h-0.6zM139.9 496.97h0.6v0.6h-0.6zM126.94 500.75h0.6v0.6h-0.6zM128.53 502.21h0.6v0.6h-0.6zM129.24 500.23h0.6v0.6h-0.6zM111.86 496.29h0.6v0.6h-0.6zM129.46 498.62h0.6v0.6h-0.6zM120.43 496.88h0.6v0.6h-0.6zM141.76 507.29h0.6v0.6h-0.6zM126.53 505.3h0.6v0.6h-0.6zM123.14 495.56h0.6v0.6h-0.6zM122.53 500.35h0.6v0.6h-0.6zM127.4 500.74h0.6v0.6h-0.6zM126.73 503.69h0.6v0.6h-0.6zM141.2 493.9h0.6v0.6h-0.6zM128.29 498.31h0.6v0.6h-0.6zM131.2 500.36h0.6v0.6h-0.6zM124.01 496.1h0.6v0.6h-0.6zM115.69 495.38h0.6v0.6h-0.6zM132.58 501.95h0.6v0.6h-0.6zM126.82 501.81h0.6v0.6h-0.6zM122.17 499.82h0.6v0.6h-0.6zM127.32 501.99h0.6v0.6h-0.6zM126.44 498.86h0.6v0.6h-0.6zM125.92 496.6h0.6v0.6h-0.6zM130.43 509.81h0.6v0.6h-0.6zM132.56 503.27h0.6v0.6h-0.6zM142.08 505.42h0.6v0.6h-0.6zM133.17 494.2h0.6v0.6h-0.6zM120.03 500.71h0.6v0.6h-0.6zM131.04 494.9h0.6v0.6h-0.6zM123.92 497.7h0.6v0.6h-0.6zM127.48 501.01h0.6v0.6h-0.6zM124.7 493.93h0.6v0.6h-0.6zM136.94 506.68h0.6v0.6h-0.6zM126.15 504.11h0.6v0.6h-0.6zM130.55 502.47h0.6v0.6h-0.6zM130.85 496.07h0.6v0.6h-0.6zM131.59 504.05h0.6v0.6h-0.6zM119.83 508.35h0.6v0.6h-0.6zM124.29 496.8h0.6v0.6h-0.6zM120.5 500.02h0.6v0.6h-0.6zM126.74 502.52h0.6v0.6h-0.6zM110.84 509.9h0.6v0.6h-0.6zM132.41 501.64h0.6v0.6h-0.6zM129.19 498.56h0.6v0.6h-0.6zM126.02 495.79h0.6v0.6h-0.6zM128.43 499.39h0.6v0.6h-0.6zM129.56 495.65h0.6v0.6h-0.6zM127.32 499.72h0.6v0.6h-0.6zM131.83 494.72h0.6v0.6h-0.6zM130.36 503.92h0.6v0.6h-0.6zM131.78 497.84h0.6v0.6h-0.6zM123.07 498.44h0.6v0.6h-0.6zM132.83 506.49h0.6v0.6h-0.6zM125.74 496.61h0.6v0.6h-0.6zM130.01 500.42h0.6v0.6h-0.6zM119.74 496.18h0.6v0.6h-0.6zM126.19 502.52h0.6v0.6h-0.6zM117.45 494.92h0.6v0.6h-0.6zM130.99 493.99h0.6v0.6h-0.6zM127.87 501.08h0.6v0.6h-0.6zM126.11 494.92h0.6v0.6h-0.6zM126.52 498.01h0.6v0.6h-0.6zM129.69 495.73h0.6v0.6h-0.6zM125.59 499.53h0.6v0.6h-0.6zM134.69 496.76h0.6v0.6h-0.6zM131.37 496.95h0.6v0.6h-0.6zM132.91 507.32h0.6v0.6h-0.6zM123.79 501.49h0.6v0.6h-0.6zM119.58 503.88h0.6v0.6h-0.6zM136.69 499.66h0.6v0.6h-0.6zM117.92 501.31h0.6v0.6h-0.6zM136.19 504.4h0.6v0.6h-0.6zM121.56 505.9h0.6v0.6h-0.6zM117.19 504.59h0.6v0.6h-0.6zM142.06 502.93h0.6v0.6h-0.6zM135.96 498h0.6v0.6h-0.6zM117.2 499.04h0.6v0.6h-0.6zM125.41 499.29h0.6v0.6h-0.6zM132.57 498.85h0.6v0.6h-0.6zM128.53 501.41h0.6v0.6h-0.6zM126.96 507.8h0.6v0.6h-0.6zM130.54 499.88h0.6v0.6h-0.6zM125.34 496.69h0.6v0.6h-0.6zM137.75 500.18h0.6v0.6h-0.6zM118.37 496.97h0.6v0.6h-0.6zM125.91 497.5h0.6v0.6h-0.6zM135.68 494.27h0.6v0.6h-0.6zM130.94 500.15h0.6v0.6h-0.6zM117.58 499.71h0.6v0.6h-0.6zM126.24 501.76h0.6v0.6h-0.6zM123.4 500.86h0.6v0.6h-0.6zM113.68 494.62h0.6v0.6h-0.6zM133.28 504.19h0.6v0.6h-0.6zM126.9 496.8h0.6v0.6h-0.6zM120.6 502.52h0.6v0.6h-0.6zM132.22 494.85h0.6v0.6h-0.6zM111.9 506.03h0.6v0.6h-0.6zM128.22 495.47h0.6v0.6h-0.6zM127.44 503.56h0.6v0.6h-0.6zM136.12 501.29h0.6v0.6h-0.6zM127.04 504.21h0.6v0.6h-0.6zM121.88 496.33h0.6v0.6h-0.6zM124.03 499.17h0.6v0.6h-0.6zM118.34 501.68h0.6v0.6h-0.6zM131.35 499.82h0.6v0.6h-0.6zM140.6 498.03h0.6v0.6h-0.6zM137.45 497.04h0.6v0.6h-0.6zM128.58 498.71h0.6v0.6h-0.6zM123.04 496.75h0.6v0.6h-0.6zM124.22 496.26h0.6v0.6h-0.6zM122.6 497.14h0.6v0.6h-0.6zM118.54 498.89h0.6v0.6h-0.6zM133.28 498.37h0.6v0.6h-0.6zM123.06 505.61h0.6v0.6h-0.6zM134.82 503.65h0.6v0.6h-0.6zM136.24 498.03h0.6v0.6h-0.6zM125.97 504.51h0.6v0.6h-0.6zM122.57 498.96h0.6v0.6h-0.6zM130.02 501.18h0.6v0.6h-0.6zM124.79 503.93h0.6v0.6h-0.6zM125.58 502.76h0.6v0.6h-0.6zM135.56 502.47h0.6v0.6h-0.6zM132.87 494.28h0.6v0.6h-0.6zM116.51 496.72h0.6v0.6h-0.6zM130.8 506.25h0.6v0.6h-0.6zM117.22 500.88h0.6v0.6h-0.6zM120.17 496.2h0.6v0.6h-0.6zM124.79 502.61h0.6v0.6h-0.6zM128.7 504.81h0.6v0.6h-0.6zM119.12 503.5h0.6v0.6h-0.6zM134.44 499.81h0.6v0.6h-0.6zM130.82 496.97h0.6v0.6h-0.6zM118.28 497.68h0.6v0.6h-0.6zM123.12 506.93h0.6v0.6h-0.6zM128.62 500.9h0.6v0.6h-0.6zM132.95 495.99h0.6v0.6h-0.6zM134.33 501.19h0.6v0.6h-0.6zM114.87 502.21h0.6v0.6h-0.6zM131.42 501.54h0.6v0.6h-0.6zM139.68 497.64h0.6v0.6h-0.6zM131.09 502.87h0.6v0.6h-0.6zM119.8 504.9h0.6v0.6h-0.6zM115.4 493.65h0.6v0.6h-0.6zM131.18 494.6h0.6v0.6h-0.6zM127.55 494.4h0.6v0.6h-0.6zM130.59 498.3h0.6v0.6h-0.6zM127.51 499.2h0.6v0.6h-0.6zM128.04 493.55h0.6v0.6h-0.6zM119.51 497.45h0.6v0.6h-0.6zM120.89 496.75h0.6v0.6h-0.6zM118.54 500.97h0.6v0.6h-0.6zM125.88 495.81h0.6v0.6h-0.6zM119.12 503.13h0.6v0.6h-0.6zM121.72 502.13h0.6v0.6h-0.6zM118.33 499.51h0.6v0.6h-0.6zM129.74 503.01h0.6v0.6h-0.6zM133.42 504.15h0.6v0.6h-0.6zM124.01 498.55h0.6v0.6h-0.6zM133.21 497.59h0.6v0.6h-0.6zM132.23 498.72h0.6v0.6h-0.6zM111.26 503.91h0.6v0.6h-0.6zM129.49 499.59h0.6v0.6h-0.6zM118.39 497.41h0.6v0.6h-0.6zM139.09 495.78h0.6v0.6h-0.6zM117.4 498.91h0.6v0.6h-0.6zM123.85 495.39h0.6v0.6h-0.6zM120.27 504.22h0.6v0.6h-0.6zM115.46 508.3h0.6v0.6h-0.6zM122.65 494.58h0.6v0.6h-0.6zM133.3 502.04h0.6v0.6h-0.6zM118.66 502.87h0.6v0.6h-0.6zM112.28 495.34h0.6v0.6h-0.6zM136.01 498.35h0.6v0.6h-0.6zM116.58 501.81h0.6v0.6h-0.6zM134.33 499.4h0.6v0.6h-0.6zM112.55 497.94h0.6v0.6h-0.6zM130.34 502.96h0.6v0.6h-0.6zM141.82 498.36h0.6v0.6h-0.6zM123.14 499.33h0.6v0.6h-0.6zM136.65 495.26h0.6v0.6h-0.6zM133.38 496.46h0.6v0.6h-0.6zM130.67 502.6h0.6v0.6h-0.6zM117.54 499.11h0.6v0.6h-0.6zM128.93 502.14h0.6v0.6h-0.6zM119.56 495.04h0.6v0.6h-0.6zM111.61 510.93h0.6v0.6h-0.6zM125.46 498.5h0.6v0.6h-0.6zM115.04 503.68h0.6v0.6h-0.6zM122.72 505.96h0.6v0.6h-0.6zM133.81 499.59h0.6v0.6h-0.6zM132.82 494.5h0.6v0.6h-0.6zM124.39 496.91h0.6v0.6h-0.6zM116.85 499.58h0.6v0.6h-0.6zM125.84 505.96h0.6v0.6h-0.6zM119.65 497.41h0.6v0.6h-0.6zM130.38 501.32h0.6v0.6h-0.6zM127.23 497.37h0.6v0.6h-0.6zM130.96 501.12h0.6v0.6h-0.6zM112.26 498.32h0.6v0.6h-0.6zM116 494.18h0.6v0.6h-0.6zM128.17 499.77h0.6v0.6h-0.6zM127.91 495.56h0.6v0.6h-0.6zM125.39 495.39h0.6v0.6h-0.6zM130.06 502.6h0.6v0.6h-0.6zM141.04 505.2h0.6v0.6h-0.6zM120.56 497.44h0.6v0.6h-0.6zM119.49 500.88h0.6v0.6h-0.6zM116.66 501.82h0.6v0.6h-0.6zM127.01 500.85h0.6v0.6h-0.6zM141.25 495.78h0.6v0.6h-0.6zM120.22 508.35h0.6v0.6h-0.6zM129.74 495.99h0.6v0.6h-0.6zM127.35 503.97h0.6v0.6h-0.6zM125.89 496.38h0.6v0.6h-0.6zM121.07 508.06h0.6v0.6h-0.6zM112.87 500.28h0.6v0.6h-0.6zM127.21 502.28h0.6v0.6h-0.6zM123.76 501.75h0.6v0.6h-0.6zM133.52 498.84h0.6v0.6h-0.6zM123.34 498.66h0.6v0.6h-0.6zM119.28 498.57h0.6v0.6h-0.6zM124.58 500.45h0.6v0.6h-0.6zM137.69 505.38h0.6v0.6h-0.6zM123.44 502.21h0.6v0.6h-0.6zM129.36 502.93h0.6v0.6h-0.6zM127.17 500.7h0.6v0.6h-0.6zM123.25 495.97h0.6v0.6h-0.6zM133.98 505.34h0.6v0.6h-0.6zM132.3 501.46h0.6v0.6h-0.6zM129.13 497.47h0.6v0.6h-0.6zM112.74 502.49h0.6v0.6h-0.6zM128.59 497.01h0.6v0.6h-0.6zM119.28 505.25h0.6v0.6h-0.6zM112.57 507.43h0.6v0.6h-0.6zM132.12 510.17h0.6v0.6h-0.6zM121.26 499.4h0.6v0.6h-0.6zM122.95 500.2h0.6v0.6h-0.6zM125.32 496.13h0.6v0.6h-0.6zM135.6 495.97h0.6v0.6h-0.6zM122.94 502h0.6v0.6h-0.6zM122.7 497.54h0.6v0.6h-0.6zM129.85 497.84h0.6v0.6h-0.6zM117.03 499.04h0.6v0.6h-0.6zM125.24 507.17h0.6v0.6h-0.6zM118.22 503.86h0.6v0.6h-0.6zM120.71 497.9h0.6v0.6h-0.6zM124.39 500.72h0.6v0.6h-0.6zM133.91 507.37h0.6v0.6h-0.6zM121.91 505.48h0.6v0.6h-0.6zM134.96 503.16h0.6v0.6h-0.6zM120.93 503.55h0.6v0.6h-0.6zM126.14 501.09h0.6v0.6h-0.6zM124.85 502.49h0.6v0.6h-0.6zM135.92 504.59h0.6v0.6h-0.6zM125.36 503.98h0.6v0.6h-0.6zM138.62 495.29h0.6v0.6h-0.6zM138.78 493.49h0.6v0.6h-0.6zM131.34 502.17h0.6v0.6h-0.6zM138.86 500.75h0.6v0.6h-0.6zM123.15 495.91h0.6v0.6h-0.6zM116.99 502.95h0.6v0.6h-0.6zM125.1 496.27h0.6v0.6h-0.6zM131.26 496.06h0.6v0.6h-0.6zM123.51 497.44h0.6v0.6h-0.6zM140.23 506.08h0.6v0.6h-0.6zM129.21 499.82h0.6v0.6h-0.6zM129.79 502.04h0.6v0.6h-0.6zM124.44 503.66h0.6v0.6h-0.6zM133.7 500.45h0.6v0.6h-0.6zM123.75 497.34h0.6v0.6h-0.6zM132.54 494.55h0.6v0.6h-0.6zM125.72 496.13h0.6v0.6h-0.6zM115.85 502.22h0.6v0.6h-0.6zM126.79 499.66h0.6v0.6h-0.6zM126.46 500.8h0.6v0.6h-0.6zM133.66 494.62h0.6v0.6h-0.6zM132.73 500.49h0.6v0.6h-0.6zM137.85 504.62h0.6v0.6h-0.6zM131.4 509.17h0.6v0.6h-0.6zM126.99 497.59h0.6v0.6h-0.6zM124.27 495.27h0.6v0.6h-0.6zM126.32 501.42h0.6v0.6h-0.6zM134.93 497.94h0.6v0.6h-0.6zM138.11 496.57h0.6v0.6h-0.6zM120.91 495.94h0.6v0.6h-0.6zM138.67 501.83h0.6v0.6h-0.6zM118.37 501.85h0.6v0.6h-0.6zM130.76 498.47h0.6v0.6h-0.6zM127.18 498.16h0.6v0.6h-0.6zM126.29 505.14h0.6v0.6h-0.6zM138.19 498.28h0.6v0.6h-0.6zM121.17 498.57h0.6v0.6h-0.6zM134.01 501.04h0.6v0.6h-0.6zM122.44 501.09h0.6v0.6h-0.6zM125.39 501.76h0.6v0.6h-0.6zM123.82 493.04h0.6v0.6h-0.6zM127.45 502.84h0.6v0.6h-0.6zM118.36 499.03h0.6v0.6h-0.6zM133.85 497.86h0.6v0.6h-0.6zM121.92 508.41h0.6v0.6h-0.6zM133.47 504.01h0.6v0.6h-0.6zM119.63 506.66h0.6v0.6h-0.6zM114.09 497.23h0.6v0.6h-0.6zM132.76 505.33h0.6v0.6h-0.6zM119.76 496.59h0.6v0.6h-0.6zM131.97 501.95h0.6v0.6h-0.6zM123.52 501.85h0.6v0.6h-0.6zM133.04 500.85h0.6v0.6h-0.6zM131.06 506.12h0.6v0.6h-0.6zM123.29 500.21h0.6v0.6h-0.6zM122.94 504.02h0.6v0.6h-0.6zM123.84 501.57h0.6v0.6h-0.6zM128.06 499.79h0.6v0.6h-0.6zM140.31 499.13h0.6v0.6h-0.6zM137.98 503.1h0.6v0.6h-0.6zM137.22 498.78h0.6v0.6h-0.6zM134.19 502.79h0.6v0.6h-0.6zM122.25 500.67h0.6v0.6h-0.6zM126 499.34h0.6v0.6h-0.6zM137.07 496.37h0.6v0.6h-0.6zM123.5 496.7h0.6v0.6h-0.6zM127.11 501.96h0.6v0.6h-0.6zM140.6 500.84h0.6v0.6h-0.6zM130.58 496.31h0.6v0.6h-0.6zM131.48 505.4h0.6v0.6h-0.6zM133.87 506.37h0.6v0.6h-0.6zM133.38 493.01h0.6v0.6h-0.6zM124.63 502.05h0.6v0.6h-0.6zM130.2 495.98h0.6v0.6h-0.6zM120.14 503.69h0.6v0.6h-0.6zM116.72 505.72h0.6v0.6h-0.6zM127.15 500.8h0.6v0.6h-0.6zM116.73 496.92h0.6v0.6h-0.6zM132.31 493.13h0.6v0.6h-0.6zM117.59 499.69h0.6v0.6h-0.6zM130.71 502.67h0.6v0.6h-0.6zM124.14 498.6h0.6v0.6h-0.6zM125.18 497.01h0.6v0.6h-0.6zM128.93 500.19h0.6v0.6h-0.6zM122.17 500.59h0.6v0.6h-0.6zM126.9 499.17h0.6v0.6h-0.6zM128.94 494.89h0.6v0.6h-0.6zM124.56 505.98h0.6v0.6h-0.6zM118.67 499.07h0.6v0.6h-0.6zM122.45 503.6h0.6v0.6h-0.6zM130.95 497.97h0.6v0.6h-0.6zM124.55 504.17h0.6v0.6h-0.6zM120.18 497.89h0.6v0.6h-0.6zM128.13 501.29h0.6v0.6h-0.6zM123.03 503.97h0.6v0.6h-0.6zM137.81 498.01h0.6v0.6h-0.6zM128.05 498.03h0.6v0.6h-0.6zM122.11 493.98h0.6v0.6h-0.6zM123.97 505.1h0.6v0.6h-0.6zM135.76 497.99h0.6v0.6h-0.6zM122.94 496.47h0.6v0.6h-0.6zM117.78 507.29h0.6v0.6h-0.6zM132.1 500.01h0.6v0.6h-0.6zM123.23 495.08h0.6v0.6h-0.6zM137.11 502.87h0.6v0.6h-0.6zM119.68 503.77h0.6v0.6h-0.6zM118.5 502.27h0.6v0.6h-0.6zM119.62 497.71h0.6v0.6h-0.6zM130.8 501.37h0.6v0.6h-0.6zM134.77 495.88h0.6v0.6h-0.6zM139.13 505.31h0.6v0.6h-0.6zM126.92 501.51h0.6v0.6h-0.6zM121.02 498.84h0.6v0.6h-0.6zM116.86 499.88h0.6v0.6h-0.6zM128.53 505.3h0.6v0.6h-0.6zM134.28 503.02h0.6v0.6h-0.6zM124.22 498.53h0.6v0.6h-0.6zM124.38 500.46h0.6v0.6h-0.6zM112.17 502.83h0.6v0.6h-0.6zM114.97 497.27h0.6v0.6h-0.6zM127.17 497.28h0.6v0.6h-0.6zM139.77 499.08h0.6v0.6h-0.6zM139.07 504.57h0.6v0.6h-0.6zM123.18 501.23h0.6v0.6h-0.6zM136.97 498.06h0.6v0.6h-0.6zM127.68 497.09h0.6v0.6h-0.6zM127.45 497.97h0.6v0.6h-0.6zM127.63 503.83h0.6v0.6h-0.6zM137.7 500.08h0.6v0.6h-0.6zM128.55 503.2h0.6v0.6h-0.6zM124.77 494.93h0.6v0.6h-0.6zM135.53 495.46h0.6v0.6h-0.6zM134.15 495.33h0.6v0.6h-0.6zM141.06 494.99h0.6v0.6h-0.6zM133.52 505.98h0.6v0.6h-0.6zM119.62 505.92h0.6v0.6h-0.6zM132.54 502.53h0.6v0.6h-0.6zM126.58 498.18h0.6v0.6h-0.6zM124.09 498.25h0.6v0.6h-0.6zM113.25 497.05h0.6v0.6h-0.6zM140.82 506.18h0.6v0.6h-0.6zM124.22 496.42h0.6v0.6h-0.6zM130.04 504.09h0.6v0.6h-0.6zM132.55 494.45h0.6v0.6h-0.6zM128.24 500.11h0.6v0.6h-0.6zM138.05 504.67h0.6v0.6h-0.6zM131.02 504.75h0.6v0.6h-0.6zM123.96 506.14h0.6v0.6h-0.6zM123.73 501.21h0.6v0.6h-0.6zM134.05 495.55h0.6v0.6h-0.6zM128.27 499.26h0.6v0.6h-0.6zM124.49 501.65h0.6v0.6h-0.6zM110.75 499.4h0.6v0.6h-0.6zM127.67 498.35h0.6v0.6h-0.6zM133.1 507.07h0.6v0.6h-0.6zM123.58 495.44h0.6v0.6h-0.6zM122.36 499.9h0.6v0.6h-0.6zM131.5 495.78h0.6v0.6h-0.6zM134.67 495.07h0.6v0.6h-0.6zM133.35 501.35h0.6v0.6h-0.6z" fill="#555" stroke="none" stroke-width="1"/>
<path d="M104.53 494.33h0.6v0.6h-0.6zM101.03 487.19h0.6v0.6h-0.6zM104.59 490.35h0.6v0.6h-0.6zM95.87 488.54h0.6v0.6h-0.6zM98.74 489.64h0.6v0.6h-0.6zM108.87 487.86h0.6v0.6h-0.6zM101.79 488.26h0.6v0.6h-0.6zM104.99 488.21h0.6v0.6h-0.6zM100.4 485.45h0.6v0.6h-0.6zM101.44 491.43h0.6v0.6h-0.6zM101.81 491.84h0.6v0.6h-0.6zM89.95 486.29h0.6v0.6h-0.6zM103.62 487.66h0.6v0.6h-0.6zM94.33 485.66h0.6v0.6h-0.6zM108.3 483.73h0.6v0.6h-0.6zM97.54 484.33h0.6v0.6h-0.6zM99.65 489.67h0.6v0.6h-0.6zM105.15 481.46h0.6v0.6h-0.6zM109.31 485.88h0.6v0.6h-0.6zM99.48 492.82h0.6v0.6h-0.6zM101.91 483.89h0.6v0.6h-0.6zM99.23 485.47h0.6v0.6h-0.6zM97.45 486.68h0.6v0.6h-0.6zM106.51 488.78h0.6v0.6h-0.6zM95.67 496.26h0.6v0.6h-0.6zM97.55 488.06h0.6v0.6h-0.6zM102.45 490.04h0.6v0.6h-0.6zM100.72 489.1h0.6v0.6h-0.6zM112.41 487.99h0.6v0.6h-0.6zM97.1 488.71h0.6v0.6h-0.6zM98.45 486.56h0.6v0.6h-0.6zM103.2 488.73h0.6v0.6h-0.6zM100.93 490.31h0.6v0.6h-0.6zM101.37 483.69h0.6v0.6h-0.6zM106.51 486.58h0.6v0.6h-0.6zM108.12 485.69h0.6v0.6h-0.6zM105.05 488.67h0.6v0.6h-0.6zM96.93 492.02h0.6v0.6h-0.6zM93.24 490.51h0.6v0.6h-0.6zM107.54 489.22h0.6v0.6h-0.6zM105.54 486.18h0.6v0.6h-0.6zM102.25 488.39h0.6v0.6h-0.6zM104.32 489.87h0.6v0.6h-0.6zM101.31 485.55h0.6v0.6h-0.6zM99.6 488.96h0.6v0.6h-0.6zM94.33 483.85h0.6v0.6h-0.6zM100.32 486h0.6v0.6h-0.6zM101 479.52h0.6v0.6h-0.6zM100.66 486.93h0.6v0.6h-0.6zM106.03 481.62h0.6v0.6h-0.6zM100.83 489.16h0.6v0.6h-0.6zM104.65 491.37h0.6v0.6h-0.6zM107.37 484.48h0.6v0.6h-0.6zM105.36 486.67h0.6v0.6h-0.6zM98.44 492.42h0.6v0.6h-0.6zM99.28 485.07h0.6v0.6h-0.6zM100.34 485.08h0.6v0.6h-0.6zM107.14 488.87h0.6v0.6h-0.6zM109.03 488.97h0.6v0.6h-0.6zM99.34 490.92h0.6v0.6h-0.6zM99.15 486.28h0.6v0.6h-0.6zM101.49 487.82h0.6v0.6h-0.6zM108.05 485.83h0.6v0.6h-0.6zM103.99 487.61h0.6v0.6h-0.6zM96.25 484.33h0.6v0.6h-0.6zM101.24 488.95h0.6v0.6h-0.6zM103.84 489.18h0.6v0.6h-0.6zM102.53 486.32h0.6v0.6h-0.6zM104.35 484.61h0.6v0.6h-0.6zM95.83 486.67h0.6v0.6h-0.6zM95.41 486.11h0.6v0.6h-0.6zM98.7 485.99h0.6v0.6h-0.6zM102.08 485.23h0.6v0.6h-0.6zM100.26 482.43h0.6v0.6h-0.6zM103 484.98h0.6v0.6h-0.6zM104.25 478.98h0.6v0.6h-0.6zM98.44 488.45h0.6v0.6h-0.6zM90.53 486.59h0.6v0.6h-0.6zM102.76 488.02h0.6v0.6h-0.6zM95.09 488.41h0.6v0.6h-0.6zM103.02 484.7h0.6v0.6h-0.6zM105.89 487.55h0.6v0.6h-0.6zM102.39 486.31h0.6v0.6h-0.6zM104.94 488h0.6v0.6h-0.6zM107.79 489.09h0.6v0.6h-0.6zM99.32 487.01h0.6v0.6h-0.6zM106.73 486.57h0.6v0.6h-0.6zM104.15 489.31h0.6v0.6h-0.6z" fill="#666" stroke="none" stroke-width="1"/>
<ellipse cx="99.3" cy="487.2" rx="4.6" ry="3.9" fill="#000" filter="url(#bl)"/>
<path d="M98.81 481.8h0.7v0.7h-0.7zM99.66 487.7h0.7v0.7h-0.7zM99.67 485.44h0.7v0.7h-0.7zM102.57 486.89h0.7v0.7h-0.7zM97.61 485.54h0.7v0.7h-0.7zM100.27 484.67h0.7v0.7h-0.7zM96.59 491.84h0.7v0.7h-0.7zM102.85 489.65h0.7v0.7h-0.7zM103 488.58h0.7v0.7h-0.7zM94.74 489.97h0.7v0.7h-0.7zM102.66 488.34h0.7v0.7h-0.7zM94 490.09h0.7v0.7h-0.7zM103 486.06h0.7v0.7h-0.7zM99.65 489h0.7v0.7h-0.7zM99.07 489.75h0.7v0.7h-0.7zM99.52 488.81h0.7v0.7h-0.7zM99.53 483.76h0.7v0.7h-0.7zM96.6 494.56h0.7v0.7h-0.7zM100.06 490.25h0.7v0.7h-0.7zM102.39 491.19h0.7v0.7h-0.7zM100.8 485.81h0.7v0.7h-0.7zM99.35 482.74h0.7v0.7h-0.7zM98.79 489.31h0.7v0.7h-0.7zM93.43 487.66h0.7v0.7h-0.7zM101.54 490.29h0.7v0.7h-0.7zM96.78 485.68h0.7v0.7h-0.7zM94.21 484.83h0.7v0.7h-0.7zM100.75 492.02h0.7v0.7h-0.7zM96.19 490.41h0.7v0.7h-0.7zM100.46 486.05h0.7v0.7h-0.7zM105.26 481.33h0.7v0.7h-0.7zM99.12 487.71h0.7v0.7h-0.7zM105.09 491.39h0.7v0.7h-0.7zM105.46 487.51h0.7v0.7h-0.7zM101.97 490.38h0.7v0.7h-0.7zM100.69 488.04h0.7v0.7h-0.7zM98.8 486.25h0.7v0.7h-0.7zM95.96 491.75h0.7v0.7h-0.7zM98.09 482.35h0.7v0.7h-0.7zM100.02 487.12h0.7v0.7h-0.7zM99.78 491.43h0.7v0.7h-0.7zM99.01 486.58h0.7v0.7h-0.7zM97.27 487.15h0.7v0.7h-0.7zM98.11 487.68h0.7v0.7h-0.7zM107.8 488.12h0.7v0.7h-0.7zM96.97 491.7h0.7v0.7h-0.7zM101.65 489.11h0.7v0.7h-0.7zM101.25 489.11h0.7v0.7h-0.7zM101.14 490.49h0.7v0.7h-0.7zM102.04 490.35h0.7v0.7h-0.7zM97.93 487.19h0.7v0.7h-0.7zM97.31 489.44h0.7v0.7h-0.7zM101.56 486.11h0.7v0.7h-0.7zM100.89 493.33h0.7v0.7h-0.7zM102.67 484.59h0.7v0.7h-0.7zM99.05 488.68h0.7v0.7h-0.7zM99.2 488.1h0.7v0.7h-0.7zM102.52 487.97h0.7v0.7h-0.7zM96.31 488.87h0.7v0.7h-0.7zM99.03 487.47h0.7v0.7h-0.7zM97.76 483.97h0.7v0.7h-0.7zM95.9 486.37h0.7v0.7h-0.7zM96.38 480.85h0.7v0.7h-0.7zM102.43 484.49h0.7v0.7h-0.7zM97.32 488.44h0.7v0.7h-0.7zM92.73 490.34h0.7v0.7h-0.7zM97.2 488.74h0.7v0.7h-0.7zM97.99 487.91h0.7v0.7h-0.7zM99.59 487.2h0.7v0.7h-0.7zM94.32 483.76h0.7v0.7h-0.7zM99.19 490.5h0.7v0.7h-0.7zM97.81 488.44h0.7v0.7h-0.7zM99.74 488.33h0.7v0.7h-0.7zM102.01 483.7h0.7v0.7h-0.7zM100.05 486.78h0.7v0.7h-0.7zM98.45 485.2h0.7v0.7h-0.7zM97.16 484.79h0.7v0.7h-0.7zM96.31 493.07h0.7v0.7h-0.7zM103.94 487.22h0.7v0.7h-0.7zM101.32 484.92h0.7v0.7h-0.7zM91.71 482.94h0.7v0.7h-0.7zM99.69 490.57h0.7v0.7h-0.7zM99.19 484.86h0.7v0.7h-0.7zM98.64 484.87h0.7v0.7h-0.7zM95.5 486.66h0.7v0.7h-0.7zM98.21 485.3h0.7v0.7h-0.7zM96.88 485.02h0.7v0.7h-0.7zM99.94 490.46h0.7v0.7h-0.7zM98.73 492.43h0.7v0.7h-0.7zM94.89 487.84h0.7v0.7h-0.7zM96.14 486.82h0.7v0.7h-0.7zM99.58 488.51h0.7v0.7h-0.7zM102.38 485.9h0.7v0.7h-0.7zM95.91 486.76h0.7v0.7h-0.7zM100.1 485.57h0.7v0.7h-0.7zM101.74 491.14h0.7v0.7h-0.7zM95.42 488.05h0.7v0.7h-0.7zM102.07 482.71h0.7v0.7h-0.7zM99.86 486.67h0.7v0.7h-0.7zM95.42 490.28h0.7v0.7h-0.7zM99.89 486.08h0.7v0.7h-0.7zM100.51 488.7h0.7v0.7h-0.7zM101.4 488.56h0.7v0.7h-0.7zM100.42 484.45h0.7v0.7h-0.7zM98.15 487.5h0.7v0.7h-0.7zM91.75 492.19h0.7v0.7h-0.7zM98.26 484.73h0.7v0.7h-0.7zM94.34 487.78h0.7v0.7h-0.7zM99.39 485.83h0.7v0.7h-0.7zM98.16 485.12h0.7v0.7h-0.7zM97.25 486.97h0.7v0.7h-0.7zM97.54 488.79h0.7v0.7h-0.7zM98.91 487.51h0.7v0.7h-0.7zM100.41 490.17h0.7v0.7h-0.7zM100.94 487.73h0.7v0.7h-0.7zM98.85 485.32h0.7v0.7h-0.7zM98.37 488.8h0.7v0.7h-0.7zM99.92 486.29h0.7v0.7h-0.7zM95.67 483.61h0.7v0.7h-0.7zM100.18 489.6h0.7v0.7h-0.7zM100.32 483.99h0.7v0.7h-0.7zM98.72 487.72h0.7v0.7h-0.7zM96.79 488.01h0.7v0.7h-0.7zM98.75 485.25h0.7v0.7h-0.7zM95.91 489.1h0.7v0.7h-0.7zM100.27 485.12h0.7v0.7h-0.7zM96.53 489.28h0.7v0.7h-0.7zM100.93 486.49h0.7v0.7h-0.7zM103.65 486.52h0.7v0.7h-0.7zM96.42 489.75h0.7v0.7h-0.7zM98.79 488.01h0.7v0.7h-0.7zM99.4 484.86h0.7v0.7h-0.7zM96.06 486.75h0.7v0.7h-0.7zM103.13 484.85h0.7v0.7h-0.7zM103 487.72h0.7v0.7h-0.7zM96.27 487.82h0.7v0.7h-0.7zM100.85 485.1h0.7v0.7h-0.7zM93.49 488.03h0.7v0.7h-0.7zM96.27 488.23h0.7v0.7h-0.7zM94.09 486.87h0.7v0.7h-0.7zM97.09 483.74h0.7v0.7h-0.7zM98.64 487.6h0.7v0.7h-0.7zM97.78 484.44h0.7v0.7h-0.7zM99.88 483.12h0.7v0.7h-0.7zM100.76 488.35h0.7v0.7h-0.7zM103.87 489.26h0.7v0.7h-0.7zM100.27 487.82h0.7v0.7h-0.7zM99.38 484.11h0.7v0.7h-0.7zM103.28 488.43h0.7v0.7h-0.7zM98.52 484.53h0.7v0.7h-0.7zM103.34 488.44h0.7v0.7h-0.7zM96.07 488.77h0.7v0.7h-0.7zM104.46 487.15h0.7v0.7h-0.7zM100.39 486.23h0.7v0.7h-0.7zM97.59 489.7h0.7v0.7h-0.7zM107.68 487.47h0.7v0.7h-0.7zM98.96 489.05h0.7v0.7h-0.7zM98.47 488.9h0.7v0.7h-0.7zM101.55 484.83h0.7v0.7h-0.7zM96.38 487.03h0.7v0.7h-0.7zM101.56 487.85h0.7v0.7h-0.7zM102.67 483.99h0.7v0.7h-0.7zM100.64 485.75h0.7v0.7h-0.7zM99.57 487.95h0.7v0.7h-0.7zM96.66 486.67h0.7v0.7h-0.7zM96.14 487.82h0.7v0.7h-0.7zM96.99 486.05h0.7v0.7h-0.7zM99.89 485.68h0.7v0.7h-0.7zM102.42 485.72h0.7v0.7h-0.7zM101.61 487.86h0.7v0.7h-0.7zM96.49 486.69h0.7v0.7h-0.7zM97.03 486.36h0.7v0.7h-0.7zM98.56 491.43h0.7v0.7h-0.7zM98.16 490.85h0.7v0.7h-0.7zM100.51 484.16h0.7v0.7h-0.7zM93.02 488.78h0.7v0.7h-0.7zM93.9 488.87h0.7v0.7h-0.7zM102.09 488.11h0.7v0.7h-0.7zM98.73 486.62h0.7v0.7h-0.7zM100 486.5h0.7v0.7h-0.7zM97.85 486.34h0.7v0.7h-0.7zM102.47 485.76h0.7v0.7h-0.7zM100.33 484.52h0.7v0.7h-0.7zM97.37 484.01h0.7v0.7h-0.7zM98.76 488.79h0.7v0.7h-0.7zM100.13 486.05h0.7v0.7h-0.7zM100.96 486.39h0.7v0.7h-0.7zM100.31 487.84h0.7v0.7h-0.7zM100.77 481.44h0.7v0.7h-0.7zM95.77 489h0.7v0.7h-0.7zM99.01 492.41h0.7v0.7h-0.7zM98.66 485.92h0.7v0.7h-0.7zM103.35 488.49h0.7v0.7h-0.7zM104.44 488.38h0.7v0.7h-0.7zM98.75 488.88h0.7v0.7h-0.7zM97.17 486.16h0.7v0.7h-0.7zM97.8 486.68h0.7v0.7h-0.7zM101.41 486.08h0.7v0.7h-0.7zM100.17 486.04h0.7v0.7h-0.7zM101.69 480.8h0.7v0.7h-0.7z" fill="#111" stroke="none" stroke-width="1"/>
<line x1="109.8" y1="468.6" x2="109.8" y2="512.9" stroke="#666" stroke-width="0.9"/>
<line x1="89" y1="492.5" x2="143.2" y2="492.5" stroke="#666" stroke-width="0.9"/>
<text x="88.4" y="518.5" font-size="4.6" text-anchor="middle" textLength="3.6" lengthAdjust="spacingAndGlyphs" fill="#777">10</text>
<text x="90.6" y="516.5" font-size="3.2" text-anchor="middle" fill="#777">0</text>
<text x="101.95" y="518.5" font-size="4.6" text-anchor="middle" textLength="3.6" lengthAdjust="spacingAndGlyphs" fill="#777">10</text>
<text x="104.15" y="516.5" font-size="3.2" text-anchor="middle" fill="#777">1</text>
<text x="115.5" y="518.5" font-size="4.6" text-anchor="middle" textLength="3.6" lengthAdjust="spacingAndGlyphs" fill="#777">10</text>
<text x="117.7" y="516.5" font-size="3.2" text-anchor="middle" fill="#777">2</text>
<text x="129.05" y="518.5" font-size="4.6" text-anchor="middle" textLength="3.6" lengthAdjust="spacingAndGlyphs" fill="#777">10</text>
<text x="131.25" y="516.5" font-size="3.2" text-anchor="middle" fill="#777">3</text>
<text x="142.6" y="518.5" font-size="4.6" text-anchor="middle" textLength="3.6" lengthAdjust="spacingAndGlyphs" fill="#777">10</text>
<text x="144.8" y="516.5" font-size="3.2" text-anchor="middle" fill="#777">4</text>
<text x="117.1" y="521.4" font-size="3" text-anchor="middle" fill="#999">FITC</text>
<line x1="87.7" y1="512.9" x2="89" y2="512.9" stroke="#666" stroke-width="0.6"/>
<line x1="87.7" y1="504.04" x2="89" y2="504.04" stroke="#666" stroke-width="0.6"/>
<line x1="87.7" y1="495.18" x2="89" y2="495.18" stroke="#666" stroke-width="0.6"/>
<line x1="87.7" y1="486.32" x2="89" y2="486.32" stroke="#666" stroke-width="0.6"/>
<line x1="87.7" y1="477.46" x2="89" y2="477.46" stroke="#666" stroke-width="0.6"/>
<line x1="87.7" y1="468.6" x2="89" y2="468.6" stroke="#666" stroke-width="0.6"/>
<rect x="240.5" y="433.2" width="53.8" height="17.6" fill="#fff" stroke="#444" stroke-width="0.9"/>
<text x="267.4" y="445" font-size="7.6" text-anchor="middle" textLength="35" lengthAdjust="spacingAndGlyphs" fill="#111">CD19.28.ζ</text>
<text transform="translate(202.7 489) rotate(-90)" x="0" y="0" font-size="8.6" text-anchor="middle" textLength="13.8" lengthAdjust="spacingAndGlyphs" fill="#111">CD3</text>
<text x="237.85" y="464.9" font-size="7.4" text-anchor="middle" textLength="26" lengthAdjust="spacingAndGlyphs" fill="#111">KHAA(-)</text>
<rect x="210.2" y="467.2" width="55.3" height="45" fill="#fff" stroke="#666" stroke-width="0.9"/>
<path d="M239.79 485.85h0.6v0.6h-0.6zM244.71 490.15h0.6v0.6h-0.6zM253.36 487.68h0.6v0.6h-0.6zM240.47 481h0.6v0.6h-0.6zM239.65 483.42h0.6v0.6h-0.6zM245.1 483.4h0.6v0.6h-0.6zM255.82 483.38h0.6v0.6h-0.6zM239.39 488.78h0.6v0.6h-0.6zM242.23 480.51h0.6v0.6h-0.6zM246.99 484.45h0.6v0.6h-0.6zM247.79 486.36h0.6v0.6h-0.6zM247.06 482.83h0.6v0.6h-0.6zM244.94 484.73h0.6v0.6h-0.6zM240.07 484.13h0.6v0.6h-0.6zM235.66 488.99h0.6v0.6h-0.6zM240.84 486.65h0.6v0.6h-0.6zM237.19 484.55h0.6v0.6h-0.6zM231.19 482.69h0.6v0.6h-0.6zM256.28 486.21h0.6v0.6h-0.6zM256.38 488.51h0.6v0.6h-0.6zM252.85 489.07h0.6v0.6h-0.6zM235.2 488.29h0.6v0.6h-0.6zM238.47 483.15h0.6v0.6h-0.6zM251.81 481.93h0.6v0.6h-0.6zM245.36 486.63h0.6v0.6h-0.6zM246.54 483.83h0.6v0.6h-0.6zM252.16 488.23h0.6v0.6h-0.6zM249.84 489.45h0.6v0.6h-0.6zM230.74 485.04h0.6v0.6h-0.6zM246.14 489.05h0.6v0.6h-0.6zM244 487.2h0.6v0.6h-0.6zM247.55 487.78h0.6v0.6h-0.6zM253.97 485.97h0.6v0.6h-0.6zM232.29 484.82h0.6v0.6h-0.6zM246.09 484.13h0.6v0.6h-0.6zM234.48 483.82h0.6v0.6h-0.6z" fill="#8a8a8a" stroke="none" stroke-width="1"/>
<path d="M250.43 485.31h0.6v0.6h-0.6zM254.16 472.32h0.6v0.6h-0.6zM239.14 481.99h0.6v0.6h-0.6zM262.95 471.94h0.6v0.6h-0.6zM251.17 483.65h0.6v0.6h-0.6zM257.51 477.36h0.6v0.6h-0.6zM257.38 479.51h0.6v0.6h-0.6zM260.94 471.39h0.6v0.6h-0.6zM261.57 478.62h0.6v0.6h-0.6zM244.35 472.78h0.6v0.6h-0.6zM239.11 484.41h0.6v0.6h-0.6zM253.13 473.92h0.6v0.6h-0.6zM242.32 473.73h0.6v0.6h-0.6zM237.6 475.15h0.6v0.6h-0.6zM241.89 488.77h0.6v0.6h-0.6z" fill="#aaa" stroke="none" stroke-width="1"/>
<path d="M227.05 498.02h0.6v0.6h-0.6zM212.38 499.09h0.6v0.6h-0.6zM220.4 506.18h0.6v0.6h-0.6zM224.85 503.43h0.6v0.6h-0.6zM216.46 501.1h0.6v0.6h-0.6zM225.5 496.29h0.6v0.6h-0.6zM218.12 494.97h0.6v0.6h-0.6zM225.03 492.61h0.6v0.6h-0.6zM213.69 494.75h0.6v0.6h-0.6zM221.1 494.53h0.6v0.6h-0.6zM224.17 496.4h0.6v0.6h-0.6zM220.54 497.21h0.6v0.6h-0.6zM226.83 496.12h0.6v0.6h-0.6zM218.08 509.65h0.6v0.6h-0.6zM218.57 502.16h0.6v0.6h-0.6zM214.65 499.35h0.6v0.6h-0.6zM211.39 504.79h0.6v0.6h-0.6zM226.93 494.18h0.6v0.6h-0.6zM216.43 499.62h0.6v0.6h-0.6zM214.61 505.02h0.6v0.6h-0.6z" fill="#999" stroke="none" stroke-width="1"/>
<path d="M258.21 506.47h0.6v0.6h-0.6zM231.35 501h0.6v0.6h-0.6zM231.73 494.19h0.6v0.6h-0.6zM257.44 499.74h0.6v0.6h-0.6zM250.73 500.43h0.6v0.6h-0.6zM242.03 496.05h0.6v0.6h-0.6zM242.62 507.4h0.6v0.6h-0.6zM251.2 497.46h0.6v0.6h-0.6zM234.04 497.08h0.6v0.6h-0.6zM253.85 500.16h0.6v0.6h-0.6zM252.55 506.73h0.6v0.6h-0.6zM235.1 504.49h0.6v0.6h-0.6z" fill="#aaa" stroke="none" stroke-width="1"/>
<path d="M262.38 502.4h0.6v0.6h-0.6zM250.56 503.64h0.6v0.6h-0.6zM255.32 498.75h0.6v0.6h-0.6zM250.71 510.36h0.6v0.6h-0.6zM234.96 493.24h0.6v0.6h-0.6zM240.58 503.63h0.6v0.6h-0.6zM257.15 498.37h0.6v0.6h-0.6zM253.17 499.77h0.6v0.6h-0.6zM250.31 497.4h0.6v0.6h-0.6zM247.79 499.98h0.6v0.6h-0.6zM256.71 510.74h0.6v0.6h-0.6zM234.02 502.56h0.6v0.6h-0.6zM247.96 504.66h0.6v0.6h-0.6zM256.18 503.76h0.6v0.6h-0.6zM254.23 495.43h0.6v0.6h-0.6zM234.87 508.04h0.6v0.6h-0.6zM257.31 495.42h0.6v0.6h-0.6zM257.94 503.21h0.6v0.6h-0.6zM240.39 505.61h0.6v0.6h-0.6zM242.75 496.42h0.6v0.6h-0.6zM236.1 498.96h0.6v0.6h-0.6zM255.84 496.77h0.6v0.6h-0.6zM233.67 510.33h0.6v0.6h-0.6zM262.22 503.32h0.6v0.6h-0.6zM243.86 494.16h0.6v0.6h-0.6zM235.37 502.69h0.6v0.6h-0.6zM258.02 494.89h0.6v0.6h-0.6zM248 498.66h0.6v0.6h-0.6zM246.02 502.42h0.6v0.6h-0.6zM264.13 496.93h0.6v0.6h-0.6zM254.55 505.25h0.6v0.6h-0.6zM245.81 499.28h0.6v0.6h-0.6zM237.66 505.2h0.6v0.6h-0.6zM243.91 496.85h0.6v0.6h-0.6zM248.52 495.86h0.6v0.6h-0.6zM239.96 498.56h0.6v0.6h-0.6zM259.46 499.01h0.6v0.6h-0.6zM252.06 492.93h0.6v0.6h-0.6zM232.98 508.76h0.6v0.6h-0.6zM244.93 492.58h0.6v0.6h-0.6zM247.18 502.93h0.6v0.6h-0.6zM234.68 495.75h0.6v0.6h-0.6zM250 495.55h0.6v0.6h-0.6zM254.15 504.64h0.6v0.6h-0.6zM251.42 497.93h0.6v0.6h-0.6zM247.64 496.95h0.6v0.6h-0.6zM246.99 501.53h0.6v0.6h-0.6zM245.68 504.7h0.6v0.6h-0.6zM250.65 503.97h0.6v0.6h-0.6zM252.98 498.85h0.6v0.6h-0.6zM244.3 504.85h0.6v0.6h-0.6zM252.82 502.44h0.6v0.6h-0.6zM241.79 503.05h0.6v0.6h-0.6zM254.14 499.11h0.6v0.6h-0.6zM252.99 510.49h0.6v0.6h-0.6zM233.5 502.93h0.6v0.6h-0.6zM238.95 493.41h0.6v0.6h-0.6zM246.18 502.64h0.6v0.6h-0.6z" fill="#555" stroke="none" stroke-width="1"/>
<path d="M218.85 482.2h0.6v0.6h-0.6zM211.65 484.08h0.6v0.6h-0.6zM218.67 483.23h0.6v0.6h-0.6zM211.33 491.23h0.6v0.6h-0.6zM214.55 485.32h0.6v0.6h-0.6zM215.95 483.99h0.6v0.6h-0.6zM218.79 484.88h0.6v0.6h-0.6zM221.59 482.13h0.6v0.6h-0.6zM211.41 491.84h0.6v0.6h-0.6zM218.24 488.18h0.6v0.6h-0.6zM224.31 487.52h0.6v0.6h-0.6zM218.78 480.98h0.6v0.6h-0.6zM221.88 487.56h0.6v0.6h-0.6zM213.49 482.14h0.6v0.6h-0.6zM219.37 482.63h0.6v0.6h-0.6zM226.26 483.87h0.6v0.6h-0.6zM215.88 488.48h0.6v0.6h-0.6zM220.19 483.01h0.6v0.6h-0.6zM222.58 491.76h0.6v0.6h-0.6zM212.65 485.03h0.6v0.6h-0.6zM213.38 479.77h0.6v0.6h-0.6zM221.64 487.97h0.6v0.6h-0.6zM223.33 487.13h0.6v0.6h-0.6zM215.36 482.15h0.6v0.6h-0.6zM213.23 488.18h0.6v0.6h-0.6zM217.16 491.91h0.6v0.6h-0.6zM220.89 479.87h0.6v0.6h-0.6zM222.94 489.68h0.6v0.6h-0.6zM218.75 482.03h0.6v0.6h-0.6zM227.19 481.72h0.6v0.6h-0.6zM218.19 479.87h0.6v0.6h-0.6zM212.5 480.51h0.6v0.6h-0.6zM223.9 489.47h0.6v0.6h-0.6zM216.63 481.58h0.6v0.6h-0.6zM218.31 486.98h0.6v0.6h-0.6zM211.17 482.19h0.6v0.6h-0.6zM218.1 487.99h0.6v0.6h-0.6zM218.96 487.2h0.6v0.6h-0.6zM212.52 478.04h0.6v0.6h-0.6zM220.12 482.94h0.6v0.6h-0.6zM218 484.62h0.6v0.6h-0.6zM220.94 483.39h0.6v0.6h-0.6zM225.64 485.9h0.6v0.6h-0.6zM221.18 487.76h0.6v0.6h-0.6zM223.66 487.06h0.6v0.6h-0.6zM227.68 487.28h0.6v0.6h-0.6zM221.34 487.26h0.6v0.6h-0.6zM215.47 483.68h0.6v0.6h-0.6zM215.44 489.42h0.6v0.6h-0.6zM220.38 491.37h0.6v0.6h-0.6zM221.04 491.72h0.6v0.6h-0.6zM220.84 482.1h0.6v0.6h-0.6zM227.12 486.86h0.6v0.6h-0.6zM224.43 486.47h0.6v0.6h-0.6zM217 486.33h0.6v0.6h-0.6zM213.1 482.05h0.6v0.6h-0.6zM214.25 484.15h0.6v0.6h-0.6zM211.95 485.48h0.6v0.6h-0.6zM220.09 492.16h0.6v0.6h-0.6zM227.63 485.64h0.6v0.6h-0.6zM222.94 485.11h0.6v0.6h-0.6zM220.52 485.69h0.6v0.6h-0.6zM215.95 486.04h0.6v0.6h-0.6zM211.34 487.18h0.6v0.6h-0.6zM217.18 482.4h0.6v0.6h-0.6zM216.83 487.54h0.6v0.6h-0.6zM215.26 487.29h0.6v0.6h-0.6zM221.4 490.7h0.6v0.6h-0.6zM213.26 485.45h0.6v0.6h-0.6zM221.12 490.52h0.6v0.6h-0.6zM219.89 488.17h0.6v0.6h-0.6zM211.38 483.96h0.6v0.6h-0.6zM226.78 484.9h0.6v0.6h-0.6zM229.25 483.51h0.6v0.6h-0.6zM217.23 480.77h0.6v0.6h-0.6zM221.73 486.63h0.6v0.6h-0.6zM228.55 486.32h0.6v0.6h-0.6zM217.37 481.36h0.6v0.6h-0.6zM218.19 488.79h0.6v0.6h-0.6zM222.25 489.68h0.6v0.6h-0.6zM222.87 485.65h0.6v0.6h-0.6zM221.58 486.34h0.6v0.6h-0.6zM212.02 491.21h0.6v0.6h-0.6zM220.45 482.48h0.6v0.6h-0.6zM220.5 486.71h0.6v0.6h-0.6zM223.52 490.37h0.6v0.6h-0.6z" fill="#666" stroke="none" stroke-width="1"/>
<ellipse cx="215.6" cy="485.3" rx="4.6" ry="3.9" fill="#000" filter="url(#bl)"/>
<path d="M219.84 483.05h0.7v0.7h-0.7zM216.53 486.13h0.7v0.7h-0.7zM212.53 484.19h0.7v0.7h-0.7zM216.14 487.07h0.7v0.7h-0.7zM221.67 486h0.7v0.7h-0.7zM213.93 479.69h0.7v0.7h-0.7zM218.58 484.99h0.7v0.7h-0.7zM215.3 482.95h0.7v0.7h-0.7zM217.64 481.04h0.7v0.7h-0.7zM215.9 485.59h0.7v0.7h-0.7zM216.43 488.4h0.7v0.7h-0.7zM215.33 485.52h0.7v0.7h-0.7zM217.98 481.61h0.7v0.7h-0.7zM214.79 485.46h0.7v0.7h-0.7zM218.25 483.39h0.7v0.7h-0.7zM217.83 486.22h0.7v0.7h-0.7zM211.47 481.78h0.7v0.7h-0.7zM211.62 485.63h0.7v0.7h-0.7zM216.17 487.02h0.7v0.7h-0.7zM217.88 483.98h0.7v0.7h-0.7zM218.57 487.25h0.7v0.7h-0.7zM216.91 486.44h0.7v0.7h-0.7zM212.02 486.16h0.7v0.7h-0.7zM212.73 482.46h0.7v0.7h-0.7zM214.63 485.63h0.7v0.7h-0.7zM215.45 484.51h0.7v0.7h-0.7zM212.82 485.74h0.7v0.7h-0.7zM213.54 481.94h0.7v0.7h-0.7zM215.86 488.77h0.7v0.7h-0.7zM214.47 482.77h0.7v0.7h-0.7zM219.46 489.39h0.7v0.7h-0.7zM214.78 484.8h0.7v0.7h-0.7zM216.19 492.35h0.7v0.7h-0.7zM215.97 487.67h0.7v0.7h-0.7zM216.84 480.95h0.7v0.7h-0.7zM212.53 482.36h0.7v0.7h-0.7zM216.81 485.55h0.7v0.7h-0.7zM220.59 484.65h0.7v0.7h-0.7zM216.46 485.48h0.7v0.7h-0.7zM215.99 490.84h0.7v0.7h-0.7zM216.39 488.82h0.7v0.7h-0.7zM219.22 483.85h0.7v0.7h-0.7zM217.51 484.39h0.7v0.7h-0.7zM215.91 485.68h0.7v0.7h-0.7zM215.66 484.18h0.7v0.7h-0.7zM219.94 484.67h0.7v0.7h-0.7zM217.56 489.32h0.7v0.7h-0.7zM217.35 487.75h0.7v0.7h-0.7zM219.48 487.9h0.7v0.7h-0.7zM220.4 481.88h0.7v0.7h-0.7zM221.07 485.37h0.7v0.7h-0.7zM211.71 485.25h0.7v0.7h-0.7zM211.44 482.89h0.7v0.7h-0.7zM216.43 485.68h0.7v0.7h-0.7zM213.37 484.74h0.7v0.7h-0.7zM215.32 485.48h0.7v0.7h-0.7zM215.58 484.77h0.7v0.7h-0.7zM218.05 481.45h0.7v0.7h-0.7zM214.22 485.62h0.7v0.7h-0.7zM214.48 483.98h0.7v0.7h-0.7zM214.38 485.8h0.7v0.7h-0.7zM219.08 484.86h0.7v0.7h-0.7zM214.85 486.15h0.7v0.7h-0.7zM214.92 480.66h0.7v0.7h-0.7zM216.35 484.4h0.7v0.7h-0.7zM214 486.81h0.7v0.7h-0.7zM215.72 483.95h0.7v0.7h-0.7zM215.64 485.02h0.7v0.7h-0.7zM216.83 485.84h0.7v0.7h-0.7zM214.26 482.27h0.7v0.7h-0.7zM212.54 484.97h0.7v0.7h-0.7zM212.39 487.11h0.7v0.7h-0.7zM211.89 481h0.7v0.7h-0.7zM215.06 481.04h0.7v0.7h-0.7zM220.16 482.92h0.7v0.7h-0.7zM215.45 484.71h0.7v0.7h-0.7zM213.3 481.06h0.7v0.7h-0.7zM218.46 490.49h0.7v0.7h-0.7zM211.51 486.65h0.7v0.7h-0.7zM215.56 487.33h0.7v0.7h-0.7zM214.16 487.03h0.7v0.7h-0.7zM218.11 486.76h0.7v0.7h-0.7zM219.65 484.88h0.7v0.7h-0.7zM219.92 483.62h0.7v0.7h-0.7zM220.27 478.71h0.7v0.7h-0.7zM215.64 483.38h0.7v0.7h-0.7zM215.6 487.77h0.7v0.7h-0.7zM217.61 485.53h0.7v0.7h-0.7zM220.36 481.76h0.7v0.7h-0.7zM213.32 488.92h0.7v0.7h-0.7zM216.52 480.32h0.7v0.7h-0.7zM216.55 482.46h0.7v0.7h-0.7zM219.74 488.05h0.7v0.7h-0.7zM214.07 488.4h0.7v0.7h-0.7zM213.27 487.51h0.7v0.7h-0.7zM217.22 485h0.7v0.7h-0.7zM211.62 484.63h0.7v0.7h-0.7zM212.89 479.46h0.7v0.7h-0.7zM217.24 486.19h0.7v0.7h-0.7zM214.18 490.38h0.7v0.7h-0.7zM217.77 485.46h0.7v0.7h-0.7zM213.79 478.21h0.7v0.7h-0.7zM216.94 487.6h0.7v0.7h-0.7zM213.94 481.91h0.7v0.7h-0.7zM215.48 481.29h0.7v0.7h-0.7zM215.62 487.15h0.7v0.7h-0.7zM219.83 485.94h0.7v0.7h-0.7zM216.15 487.1h0.7v0.7h-0.7zM219.52 484.53h0.7v0.7h-0.7zM212.16 483.4h0.7v0.7h-0.7zM212.08 483.17h0.7v0.7h-0.7zM215.26 486.12h0.7v0.7h-0.7zM216.04 485.47h0.7v0.7h-0.7zM214.6 486.32h0.7v0.7h-0.7zM218.08 487.12h0.7v0.7h-0.7zM219.79 484.6h0.7v0.7h-0.7zM214.9 489.37h0.7v0.7h-0.7zM216.16 486.29h0.7v0.7h-0.7zM214.66 487.63h0.7v0.7h-0.7zM214.47 482.88h0.7v0.7h-0.7zM215.43 484.24h0.7v0.7h-0.7zM217.94 484.39h0.7v0.7h-0.7zM215.95 484.78h0.7v0.7h-0.7zM216.55 483.79h0.7v0.7h-0.7zM218.69 481.88h0.7v0.7h-0.7zM214.52 483.6h0.7v0.7h-0.7zM217.41 485.4h0.7v0.7h-0.7zM216.96 484.51h0.7v0.7h-0.7zM213.59 482.61h0.7v0.7h-0.7zM214.66 484.01h0.7v0.7h-0.7zM216.38 486.15h0.7v0.7h-0.7zM218.34 485.04h0.7v0.7h-0.7zM213.5 482.75h0.7v0.7h-0.7zM215.77 486.17h0.7v0.7h-0.7zM221.05 485.74h0.7v0.7h-0.7zM220.52 489.8h0.7v0.7h-0.7zM212.66 488.2h0.7v0.7h-0.7zM218.78 488.53h0.7v0.7h-0.7zM215.57 487.59h0.7v0.7h-0.7zM214.25 485.13h0.7v0.7h-0.7zM215.65 489.58h0.7v0.7h-0.7zM215 487.59h0.7v0.7h-0.7zM215.79 483.6h0.7v0.7h-0.7zM216.28 486.88h0.7v0.7h-0.7zM213.61 486.82h0.7v0.7h-0.7zM213.61 483.2h0.7v0.7h-0.7zM216.22 484.74h0.7v0.7h-0.7zM212.85 481.39h0.7v0.7h-0.7zM215.67 485.88h0.7v0.7h-0.7zM214.31 485.75h0.7v0.7h-0.7zM211.32 486.24h0.7v0.7h-0.7zM216.77 485.97h0.7v0.7h-0.7zM213.88 485.49h0.7v0.7h-0.7zM215.96 487.87h0.7v0.7h-0.7zM216.37 485.91h0.7v0.7h-0.7zM213.57 487.37h0.7v0.7h-0.7zM218.88 484.12h0.7v0.7h-0.7zM217.39 486.04h0.7v0.7h-0.7zM215.47 482.21h0.7v0.7h-0.7zM220.52 480.82h0.7v0.7h-0.7zM216.45 484.4h0.7v0.7h-0.7zM218.8 484.29h0.7v0.7h-0.7zM215.71 486.77h0.7v0.7h-0.7zM216.88 484.05h0.7v0.7h-0.7zM217.51 486.24h0.7v0.7h-0.7zM218.37 484.08h0.7v0.7h-0.7zM215.47 484.36h0.7v0.7h-0.7zM213.26 485.91h0.7v0.7h-0.7zM216.74 488.7h0.7v0.7h-0.7zM214.69 486.23h0.7v0.7h-0.7zM218.79 485.03h0.7v0.7h-0.7zM215.78 485.62h0.7v0.7h-0.7zM213.67 482.93h0.7v0.7h-0.7zM218.72 485.71h0.7v0.7h-0.7zM215.39 482.33h0.7v0.7h-0.7zM215.93 488.11h0.7v0.7h-0.7zM212.39 483.17h0.7v0.7h-0.7zM218.7 488.72h0.7v0.7h-0.7zM219.93 483.98h0.7v0.7h-0.7zM217.27 483.5h0.7v0.7h-0.7zM217.05 484.43h0.7v0.7h-0.7zM216.15 488.51h0.7v0.7h-0.7zM216.54 484.72h0.7v0.7h-0.7zM215.76 485.94h0.7v0.7h-0.7zM214.17 485.79h0.7v0.7h-0.7zM217.27 489.02h0.7v0.7h-0.7zM212.15 487.39h0.7v0.7h-0.7zM222.4 485.76h0.7v0.7h-0.7zM215.94 488.02h0.7v0.7h-0.7zM214.18 484.14h0.7v0.7h-0.7z" fill="#111" stroke="none" stroke-width="1"/>
<line x1="230.2" y1="467.2" x2="230.2" y2="512.2" stroke="#666" stroke-width="0.9"/>
<line x1="210.2" y1="491.2" x2="265.5" y2="491.2" stroke="#666" stroke-width="0.9"/>
<text x="209.6" y="517.8" font-size="4.6" text-anchor="middle" textLength="3.6" lengthAdjust="spacingAndGlyphs" fill="#777">10</text>
<text x="211.8" y="515.8" font-size="3.2" text-anchor="middle" fill="#777">0</text>
<text x="223.42" y="517.8" font-size="4.6" text-anchor="middle" textLength="3.6" lengthAdjust="spacingAndGlyphs" fill="#777">10</text>
<text x="225.62" y="515.8" font-size="3.2" text-anchor="middle" fill="#777">1</text>
<text x="237.25" y="517.8" font-size="4.6" text-anchor="middle" textLength="3.6" lengthAdjust="spacingAndGlyphs" fill="#777">10</text>
<text x="239.45" y="515.8" font-size="3.2" text-anchor="middle" fill="#777">2</text>
<text x="251.08" y="517.8" font-size="4.6" text-anchor="middle" textLength="3.6" lengthAdjust="spacingAndGlyphs" fill="#777">10</text>
<text x="253.28" y="515.8" font-size="3.2" text-anchor="middle" fill="#777">3</text>
<text x="264.9" y="517.8" font-size="4.6" text-anchor="middle" textLength="3.6" lengthAdjust="spacingAndGlyphs" fill="#777">10</text>
<text x="267.1" y="515.8" font-size="3.2" text-anchor="middle" fill="#777">4</text>
<text x="238.85" y="520.7" font-size="3" text-anchor="middle" fill="#999">FITC</text>
<line x1="208.9" y1="512.2" x2="210.2" y2="512.2" stroke="#666" stroke-width="0.6"/>
<line x1="208.9" y1="503.2" x2="210.2" y2="503.2" stroke="#666" stroke-width="0.6"/>
<line x1="208.9" y1="494.2" x2="210.2" y2="494.2" stroke="#666" stroke-width="0.6"/>
<line x1="208.9" y1="485.2" x2="210.2" y2="485.2" stroke="#666" stroke-width="0.6"/>
<line x1="208.9" y1="476.2" x2="210.2" y2="476.2" stroke="#666" stroke-width="0.6"/>
<line x1="208.9" y1="467.2" x2="210.2" y2="467.2" stroke="#666" stroke-width="0.6"/>
<text x="296.95" y="464.9" font-size="7.4" text-anchor="middle" textLength="28.5" lengthAdjust="spacingAndGlyphs" fill="#111">KHAA(+)</text>
<rect x="268" y="467.2" width="54.5" height="45" fill="#fff" stroke="#666" stroke-width="0.9"/>
<path d="M304.86 482.88h0.6v0.6h-0.6zM314.05 485.19h0.6v0.6h-0.6zM295.45 488.88h0.6v0.6h-0.6zM290.95 490.16h0.6v0.6h-0.6zM312.29 485.76h0.6v0.6h-0.6zM317.21 485.21h0.6v0.6h-0.6zM300.15 489.6h0.6v0.6h-0.6zM306.57 487.46h0.6v0.6h-0.6zM304.66 486.95h0.6v0.6h-0.6zM303.91 484.3h0.6v0.6h-0.6zM301.52 487.61h0.6v0.6h-0.6zM289.49 482.95h0.6v0.6h-0.6zM309.95 484.35h0.6v0.6h-0.6zM312.28 483.74h0.6v0.6h-0.6zM302.59 485.66h0.6v0.6h-0.6zM298.36 488.4h0.6v0.6h-0.6zM313.46 479.3h0.6v0.6h-0.6zM292.59 481.26h0.6v0.6h-0.6zM307.47 487.2h0.6v0.6h-0.6zM292.1 480.75h0.6v0.6h-0.6zM308.9 477.08h0.6v0.6h-0.6zM308.43 484.59h0.6v0.6h-0.6zM293.93 484.12h0.6v0.6h-0.6zM297.52 482.33h0.6v0.6h-0.6zM301.77 489.01h0.6v0.6h-0.6zM318.47 488.13h0.6v0.6h-0.6zM291.17 482.02h0.6v0.6h-0.6zM290.69 478.87h0.6v0.6h-0.6zM314.4 485.47h0.6v0.6h-0.6zM292.55 479.55h0.6v0.6h-0.6zM296.26 483.18h0.6v0.6h-0.6zM321.15 483.39h0.6v0.6h-0.6zM302.17 489.42h0.6v0.6h-0.6zM308.69 484.49h0.6v0.6h-0.6zM307.87 483.49h0.6v0.6h-0.6zM299.75 481.44h0.6v0.6h-0.6zM290.19 479.36h0.6v0.6h-0.6zM306.72 487.24h0.6v0.6h-0.6zM302.86 488.27h0.6v0.6h-0.6zM307.13 485.68h0.6v0.6h-0.6zM290.38 487.52h0.6v0.6h-0.6zM314.8 487.68h0.6v0.6h-0.6zM315.52 483.34h0.6v0.6h-0.6zM293.92 486.15h0.6v0.6h-0.6zM298.55 485.29h0.6v0.6h-0.6zM297.61 483.08h0.6v0.6h-0.6zM303.2 477.64h0.6v0.6h-0.6zM290.12 480.78h0.6v0.6h-0.6zM292.06 475.2h0.6v0.6h-0.6zM297.9 488.12h0.6v0.6h-0.6zM307.87 480.32h0.6v0.6h-0.6zM315.14 478.59h0.6v0.6h-0.6zM294.03 483.79h0.6v0.6h-0.6zM315.58 485.67h0.6v0.6h-0.6z" fill="#8a8a8a" stroke="none" stroke-width="1"/>
<path d="M312.08 476.1h0.6v0.6h-0.6zM291.95 471.29h0.6v0.6h-0.6zM295.12 483.73h0.6v0.6h-0.6zM289.92 475.34h0.6v0.6h-0.6zM297.94 484h0.6v0.6h-0.6zM320.11 471.55h0.6v0.6h-0.6zM293.31 488.02h0.6v0.6h-0.6zM319.58 473.88h0.6v0.6h-0.6zM300.1 480.6h0.6v0.6h-0.6zM299.63 478.71h0.6v0.6h-0.6zM304.5 475.85h0.6v0.6h-0.6zM291.49 472.71h0.6v0.6h-0.6zM294.79 472.85h0.6v0.6h-0.6zM308.96 483.74h0.6v0.6h-0.6zM297.87 485.45h0.6v0.6h-0.6z" fill="#aaa" stroke="none" stroke-width="1"/>
<path d="M275.39 492.76h0.6v0.6h-0.6zM272.77 498.4h0.6v0.6h-0.6zM281.78 494.88h0.6v0.6h-0.6zM278.74 499.3h0.6v0.6h-0.6zM274.26 492.66h0.6v0.6h-0.6zM275.26 493.96h0.6v0.6h-0.6zM281.51 502.65h0.6v0.6h-0.6zM278.83 506.98h0.6v0.6h-0.6zM276.26 500.84h0.6v0.6h-0.6zM278.11 501.2h0.6v0.6h-0.6zM273.92 496.78h0.6v0.6h-0.6zM273.53 494.88h0.6v0.6h-0.6zM275.72 504.49h0.6v0.6h-0.6zM283.88 500.06h0.6v0.6h-0.6zM276.75 503.09h0.6v0.6h-0.6zM277.21 503.17h0.6v0.6h-0.6zM273.97 494.22h0.6v0.6h-0.6zM277.97 501.79h0.6v0.6h-0.6zM277.18 493.23h0.6v0.6h-0.6zM272.81 506.99h0.6v0.6h-0.6zM282.44 501.02h0.6v0.6h-0.6zM277.34 499.21h0.6v0.6h-0.6z" fill="#999" stroke="none" stroke-width="1"/>
<path d="M305.57 494.92h0.6v0.6h-0.6zM318.4 507.99h0.6v0.6h-0.6zM303.98 495.76h0.6v0.6h-0.6zM293.47 501.32h0.6v0.6h-0.6zM305.8 498.73h0.6v0.6h-0.6zM311.79 501.73h0.6v0.6h-0.6zM313.61 494.11h0.6v0.6h-0.6zM291.95 499.17h0.6v0.6h-0.6zM304.64 496.75h0.6v0.6h-0.6zM310.32 496.19h0.6v0.6h-0.6zM299.57 500.78h0.6v0.6h-0.6zM311.67 506.07h0.6v0.6h-0.6z" fill="#aaa" stroke="none" stroke-width="1"/>
<path d="M299.97 501.53h0.6v0.6h-0.6zM303.23 496.56h0.6v0.6h-0.6zM295.05 499.76h0.6v0.6h-0.6zM305.61 499.22h0.6v0.6h-0.6zM312.18 501.65h0.6v0.6h-0.6zM301.06 495.41h0.6v0.6h-0.6zM318.12 501.13h0.6v0.6h-0.6zM307.12 493.21h0.6v0.6h-0.6zM312.87 500.31h0.6v0.6h-0.6zM312.26 499.17h0.6v0.6h-0.6zM306.48 495.59h0.6v0.6h-0.6zM308.4 499.07h0.6v0.6h-0.6zM311.07 502.75h0.6v0.6h-0.6zM308.43 495.63h0.6v0.6h-0.6zM312.28 504.79h0.6v0.6h-0.6zM299.51 499.84h0.6v0.6h-0.6zM310.26 500.35h0.6v0.6h-0.6zM309.93 497.6h0.6v0.6h-0.6zM305.21 505.38h0.6v0.6h-0.6zM319.47 491.87h0.6v0.6h-0.6zM300.76 495.74h0.6v0.6h-0.6zM293.61 499.55h0.6v0.6h-0.6zM305.58 495.64h0.6v0.6h-0.6zM312.99 508.64h0.6v0.6h-0.6zM317.47 503.14h0.6v0.6h-0.6zM302.8 500.88h0.6v0.6h-0.6zM305.71 503.06h0.6v0.6h-0.6zM310.53 497.85h0.6v0.6h-0.6zM310.3 494.86h0.6v0.6h-0.6zM312.16 504.58h0.6v0.6h-0.6zM303.19 500.43h0.6v0.6h-0.6zM293.05 502.1h0.6v0.6h-0.6zM312.82 493.54h0.6v0.6h-0.6zM319.55 498.5h0.6v0.6h-0.6zM292.55 492.02h0.6v0.6h-0.6zM312.8 496.81h0.6v0.6h-0.6zM305.23 502.27h0.6v0.6h-0.6zM300.73 500.98h0.6v0.6h-0.6zM303.21 499.51h0.6v0.6h-0.6zM308.51 507.76h0.6v0.6h-0.6zM296.38 501.41h0.6v0.6h-0.6zM316.2 493.09h0.6v0.6h-0.6zM306.63 508.1h0.6v0.6h-0.6zM308.36 494.83h0.6v0.6h-0.6zM301.64 494.34h0.6v0.6h-0.6zM308.29 495.96h0.6v0.6h-0.6zM298.97 497.01h0.6v0.6h-0.6zM309.16 494.26h0.6v0.6h-0.6zM309.17 496.3h0.6v0.6h-0.6zM318.23 495.19h0.6v0.6h-0.6zM300.85 492.14h0.6v0.6h-0.6zM321.44 500.7h0.6v0.6h-0.6zM297.57 496.53h0.6v0.6h-0.6zM298.56 504.66h0.6v0.6h-0.6zM307.63 502h0.6v0.6h-0.6zM306.02 500.07h0.6v0.6h-0.6zM305.14 498.91h0.6v0.6h-0.6zM307.66 494.91h0.6v0.6h-0.6zM308.7 498.72h0.6v0.6h-0.6zM305.7 495.01h0.6v0.6h-0.6zM298.12 499.08h0.6v0.6h-0.6zM301.84 503.92h0.6v0.6h-0.6zM313.12 494.88h0.6v0.6h-0.6zM316.51 493.68h0.6v0.6h-0.6zM299.86 506.48h0.6v0.6h-0.6zM302.61 497.05h0.6v0.6h-0.6zM293.18 493.58h0.6v0.6h-0.6zM296.86 497.4h0.6v0.6h-0.6zM291.73 502.65h0.6v0.6h-0.6zM303.24 495.35h0.6v0.6h-0.6zM301.07 501.25h0.6v0.6h-0.6zM317.93 496.22h0.6v0.6h-0.6zM318.55 505.05h0.6v0.6h-0.6zM316.44 499.31h0.6v0.6h-0.6zM294.41 500.95h0.6v0.6h-0.6zM302.82 498.85h0.6v0.6h-0.6zM291.34 496.76h0.6v0.6h-0.6zM307.82 493.9h0.6v0.6h-0.6zM308.29 505.33h0.6v0.6h-0.6zM307.8 495h0.6v0.6h-0.6zM298.84 499.79h0.6v0.6h-0.6zM308.03 501.64h0.6v0.6h-0.6zM299.81 504.42h0.6v0.6h-0.6zM309.89 503.22h0.6v0.6h-0.6zM294.11 497.99h0.6v0.6h-0.6zM318.46 506.83h0.6v0.6h-0.6zM316.27 498h0.6v0.6h-0.6zM307.43 495.25h0.6v0.6h-0.6zM314.56 494.95h0.6v0.6h-0.6zM294.27 505.8h0.6v0.6h-0.6zM306.46 498.94h0.6v0.6h-0.6zM301.86 497.08h0.6v0.6h-0.6zM296.19 492.05h0.6v0.6h-0.6zM296.36 500.81h0.6v0.6h-0.6zM305.63 501.61h0.6v0.6h-0.6zM297.58 500.59h0.6v0.6h-0.6zM302.55 498.39h0.6v0.6h-0.6zM313.29 498.15h0.6v0.6h-0.6zM306.5 501.45h0.6v0.6h-0.6zM301.06 497.71h0.6v0.6h-0.6zM292.17 492.13h0.6v0.6h-0.6zM309.15 503.7h0.6v0.6h-0.6zM303.84 506.5h0.6v0.6h-0.6zM308.34 497.33h0.6v0.6h-0.6zM314.12 496.33h0.6v0.6h-0.6zM308.6 498.88h0.6v0.6h-0.6zM311.57 501.89h0.6v0.6h-0.6zM298.98 504.58h0.6v0.6h-0.6zM306.16 501h0.6v0.6h-0.6zM310.35 501.92h0.6v0.6h-0.6zM300.99 495.41h0.6v0.6h-0.6zM308.95 500.69h0.6v0.6h-0.6zM310.51 499.5h0.6v0.6h-0.6zM302.19 502.88h0.6v0.6h-0.6zM309.71 502.7h0.6v0.6h-0.6zM300.77 498.53h0.6v0.6h-0.6zM302.25 496.63h0.6v0.6h-0.6zM307.52 499.53h0.6v0.6h-0.6zM299.86 500.4h0.6v0.6h-0.6zM299.36 499.9h0.6v0.6h-0.6zM303.1 493.82h0.6v0.6h-0.6zM315.21 505.35h0.6v0.6h-0.6zM305.19 497.78h0.6v0.6h-0.6zM313.56 492.11h0.6v0.6h-0.6zM299.12 503.03h0.6v0.6h-0.6zM313.11 495.81h0.6v0.6h-0.6zM299.86 499.56h0.6v0.6h-0.6zM294.88 495.78h0.6v0.6h-0.6zM310.67 501.4h0.6v0.6h-0.6zM295.84 494.37h0.6v0.6h-0.6zM295.68 507.14h0.6v0.6h-0.6zM298.27 496.61h0.6v0.6h-0.6zM307.63 500.03h0.6v0.6h-0.6zM317.49 493.15h0.6v0.6h-0.6zM312.97 498.67h0.6v0.6h-0.6zM296.72 498.67h0.6v0.6h-0.6zM294.89 505.23h0.6v0.6h-0.6zM300.21 502.49h0.6v0.6h-0.6zM316.32 495.24h0.6v0.6h-0.6zM298.88 498.58h0.6v0.6h-0.6zM297.68 502.02h0.6v0.6h-0.6zM307.39 494.59h0.6v0.6h-0.6zM300.56 501.24h0.6v0.6h-0.6zM294.49 505.55h0.6v0.6h-0.6zM299.76 497.12h0.6v0.6h-0.6zM298.65 505.26h0.6v0.6h-0.6zM312.55 503.82h0.6v0.6h-0.6zM311.19 498.4h0.6v0.6h-0.6zM319.48 500.97h0.6v0.6h-0.6zM309.47 500.58h0.6v0.6h-0.6zM311.86 499.25h0.6v0.6h-0.6zM321.4 503.47h0.6v0.6h-0.6zM301.21 499.19h0.6v0.6h-0.6zM303.33 499.31h0.6v0.6h-0.6zM315.34 492.61h0.6v0.6h-0.6zM308.64 498.36h0.6v0.6h-0.6zM307.19 498.66h0.6v0.6h-0.6zM303.08 491.87h0.6v0.6h-0.6zM309.62 499.74h0.6v0.6h-0.6zM310.61 503.6h0.6v0.6h-0.6zM291.76 507.61h0.6v0.6h-0.6zM298.7 499.79h0.6v0.6h-0.6zM305.88 501.27h0.6v0.6h-0.6zM304.64 495.31h0.6v0.6h-0.6zM307.96 500.34h0.6v0.6h-0.6zM298.25 503.92h0.6v0.6h-0.6zM315.17 500h0.6v0.6h-0.6zM305.12 496.93h0.6v0.6h-0.6zM292.85 500.95h0.6v0.6h-0.6zM298.2 495.74h0.6v0.6h-0.6zM313.97 493.86h0.6v0.6h-0.6zM301.83 501.86h0.6v0.6h-0.6zM320.85 494.89h0.6v0.6h-0.6zM314.83 495.06h0.6v0.6h-0.6zM309.1 500.18h0.6v0.6h-0.6zM296.89 502.61h0.6v0.6h-0.6zM320.39 498.23h0.6v0.6h-0.6zM308.16 492.73h0.6v0.6h-0.6zM320.3 498.28h0.6v0.6h-0.6zM295.79 501.44h0.6v0.6h-0.6zM294.31 494.91h0.6v0.6h-0.6zM300.77 495.4h0.6v0.6h-0.6zM301.48 500.49h0.6v0.6h-0.6zM317.67 493.47h0.6v0.6h-0.6zM318.19 497.6h0.6v0.6h-0.6zM300.4 504.89h0.6v0.6h-0.6zM305.15 504.16h0.6v0.6h-0.6zM314.59 505.46h0.6v0.6h-0.6zM299.6 498.26h0.6v0.6h-0.6zM308.95 497.13h0.6v0.6h-0.6zM318.18 494.79h0.6v0.6h-0.6zM314.02 504.13h0.6v0.6h-0.6zM290.37 493.64h0.6v0.6h-0.6zM298.77 495.54h0.6v0.6h-0.6zM309.12 497.22h0.6v0.6h-0.6zM306.63 495.93h0.6v0.6h-0.6zM305.35 500.18h0.6v0.6h-0.6zM311.96 494.48h0.6v0.6h-0.6zM305.09 494.57h0.6v0.6h-0.6zM313.64 501.02h0.6v0.6h-0.6zM305.02 494.92h0.6v0.6h-0.6zM302.35 495.01h0.6v0.6h-0.6zM293.65 505.35h0.6v0.6h-0.6zM296.67 500.6h0.6v0.6h-0.6zM290.63 500.44h0.6v0.6h-0.6zM290.07 504.4h0.6v0.6h-0.6zM302.04 498.38h0.6v0.6h-0.6zM305.98 495.48h0.6v0.6h-0.6zM304.86 496.65h0.6v0.6h-0.6zM315.96 497.59h0.6v0.6h-0.6zM305.74 495.62h0.6v0.6h-0.6zM300.93 494.69h0.6v0.6h-0.6zM306.08 506.27h0.6v0.6h-0.6zM314.92 499.06h0.6v0.6h-0.6zM319.35 502.56h0.6v0.6h-0.6zM307.66 497.26h0.6v0.6h-0.6zM297.22 499.12h0.6v0.6h-0.6zM295.72 506.71h0.6v0.6h-0.6zM307.71 500.24h0.6v0.6h-0.6zM307.6 495.91h0.6v0.6h-0.6zM309.69 502.88h0.6v0.6h-0.6zM303.53 500.31h0.6v0.6h-0.6zM314.2 495.83h0.6v0.6h-0.6zM307.36 494.67h0.6v0.6h-0.6zM310.82 496.34h0.6v0.6h-0.6zM315.17 494.56h0.6v0.6h-0.6zM319.51 496.6h0.6v0.6h-0.6zM299.28 493.93h0.6v0.6h-0.6zM311.3 494.15h0.6v0.6h-0.6zM320.44 503.77h0.6v0.6h-0.6zM305.81 494.73h0.6v0.6h-0.6zM291.51 499.91h0.6v0.6h-0.6zM312.47 503.78h0.6v0.6h-0.6zM298.31 496.47h0.6v0.6h-0.6zM308.15 500.12h0.6v0.6h-0.6zM296.84 498.97h0.6v0.6h-0.6zM305.14 502.28h0.6v0.6h-0.6zM293.22 495.46h0.6v0.6h-0.6zM301.97 496.57h0.6v0.6h-0.6zM311.78 495.17h0.6v0.6h-0.6zM312.72 502.59h0.6v0.6h-0.6zM313.72 497.08h0.6v0.6h-0.6zM299.36 496.85h0.6v0.6h-0.6zM311.33 498.55h0.6v0.6h-0.6zM310.66 500.59h0.6v0.6h-0.6zM298.93 493.79h0.6v0.6h-0.6zM317.53 495.81h0.6v0.6h-0.6zM293.32 506.37h0.6v0.6h-0.6zM299.33 493.8h0.6v0.6h-0.6zM313.74 492.91h0.6v0.6h-0.6zM299.03 502.72h0.6v0.6h-0.6zM299.44 509.29h0.6v0.6h-0.6zM306.78 510.08h0.6v0.6h-0.6zM307.03 498.25h0.6v0.6h-0.6zM300.87 497h0.6v0.6h-0.6zM301.99 497.89h0.6v0.6h-0.6zM312.17 492.28h0.6v0.6h-0.6z" fill="#555" stroke="none" stroke-width="1"/>
<path d="M276.11 479.1h0.6v0.6h-0.6zM288.22 485.56h0.6v0.6h-0.6zM280.63 485.61h0.6v0.6h-0.6zM285.72 486.83h0.6v0.6h-0.6zM284.95 485.26h0.6v0.6h-0.6zM280.09 485.62h0.6v0.6h-0.6zM271.39 489.29h0.6v0.6h-0.6zM272.81 482.62h0.6v0.6h-0.6zM284.05 485.98h0.6v0.6h-0.6zM284.76 491.26h0.6v0.6h-0.6zM290.01 490.22h0.6v0.6h-0.6zM279.57 492.36h0.6v0.6h-0.6zM276.3 485.52h0.6v0.6h-0.6zM285.68 485.12h0.6v0.6h-0.6zM280.09 484.67h0.6v0.6h-0.6zM287.52 477.9h0.6v0.6h-0.6zM287.06 489.19h0.6v0.6h-0.6zM280.34 487.6h0.6v0.6h-0.6zM275.86 489.35h0.6v0.6h-0.6zM296 482.86h0.6v0.6h-0.6zM287.68 485.62h0.6v0.6h-0.6zM279.01 484.24h0.6v0.6h-0.6zM279.75 481.79h0.6v0.6h-0.6zM273.91 491.12h0.6v0.6h-0.6zM280.61 487.57h0.6v0.6h-0.6zM282.25 487.33h0.6v0.6h-0.6zM273.07 482.76h0.6v0.6h-0.6zM283.87 488.99h0.6v0.6h-0.6zM274.98 483.95h0.6v0.6h-0.6zM275.36 487.89h0.6v0.6h-0.6zM282.42 485.91h0.6v0.6h-0.6zM277.45 486.9h0.6v0.6h-0.6zM280.86 483.42h0.6v0.6h-0.6zM282.37 483.67h0.6v0.6h-0.6zM285.46 487.8h0.6v0.6h-0.6zM277.26 487.68h0.6v0.6h-0.6zM281.04 483.54h0.6v0.6h-0.6zM276.13 480.48h0.6v0.6h-0.6zM275.05 486.91h0.6v0.6h-0.6zM286.74 483.79h0.6v0.6h-0.6zM281.5 486.9h0.6v0.6h-0.6zM284.6 487.22h0.6v0.6h-0.6zM286.84 488.25h0.6v0.6h-0.6zM276.89 487.07h0.6v0.6h-0.6zM268.99 485.23h0.6v0.6h-0.6zM280.8 487.65h0.6v0.6h-0.6zM279.19 488.46h0.6v0.6h-0.6zM287.31 483.11h0.6v0.6h-0.6zM277.98 486.63h0.6v0.6h-0.6zM283.15 486.26h0.6v0.6h-0.6zM284.85 482.02h0.6v0.6h-0.6zM284.58 489.53h0.6v0.6h-0.6zM286.25 487.16h0.6v0.6h-0.6zM279.51 487.08h0.6v0.6h-0.6zM280.33 480.72h0.6v0.6h-0.6zM277.67 485.67h0.6v0.6h-0.6zM278.12 482.82h0.6v0.6h-0.6zM279.54 484.61h0.6v0.6h-0.6zM281.05 485.64h0.6v0.6h-0.6zM281.56 488.98h0.6v0.6h-0.6zM281.38 487.1h0.6v0.6h-0.6zM274.59 476.37h0.6v0.6h-0.6zM278.7 487.97h0.6v0.6h-0.6zM279 483.81h0.6v0.6h-0.6zM274.5 488.65h0.6v0.6h-0.6zM278.06 486.59h0.6v0.6h-0.6zM286.35 487.52h0.6v0.6h-0.6zM291.92 485.38h0.6v0.6h-0.6zM285.48 488.02h0.6v0.6h-0.6zM277.42 485.95h0.6v0.6h-0.6zM277.88 482.52h0.6v0.6h-0.6zM282.2 483.32h0.6v0.6h-0.6zM289.1 483.43h0.6v0.6h-0.6zM277.98 486.09h0.6v0.6h-0.6zM278.11 485.97h0.6v0.6h-0.6zM277.66 481.25h0.6v0.6h-0.6zM288.31 487.22h0.6v0.6h-0.6zM281.47 484.31h0.6v0.6h-0.6zM279.97 486.76h0.6v0.6h-0.6zM273.75 483.25h0.6v0.6h-0.6zM276.25 489.83h0.6v0.6h-0.6zM275.42 489.55h0.6v0.6h-0.6zM278.37 494.52h0.6v0.6h-0.6zM280.31 485.9h0.6v0.6h-0.6zM287.45 488.6h0.6v0.6h-0.6zM285.4 482.38h0.6v0.6h-0.6zM286.38 491.18h0.6v0.6h-0.6zM280.19 484.25h0.6v0.6h-0.6zM275.24 489.06h0.6v0.6h-0.6z" fill="#666" stroke="none" stroke-width="1"/>
<ellipse cx="277.7" cy="485.3" rx="4.6" ry="3.9" fill="#000" filter="url(#bl)"/>
<path d="M278.52 485.32h0.7v0.7h-0.7zM274.24 489.19h0.7v0.7h-0.7zM280.15 485.25h0.7v0.7h-0.7zM281.83 483.02h0.7v0.7h-0.7zM280.17 482.9h0.7v0.7h-0.7zM281.65 484.64h0.7v0.7h-0.7zM281.12 484.3h0.7v0.7h-0.7zM278.82 488.04h0.7v0.7h-0.7zM275.17 485.53h0.7v0.7h-0.7zM275.35 487.34h0.7v0.7h-0.7zM276.01 484.41h0.7v0.7h-0.7zM277.13 488.1h0.7v0.7h-0.7zM274.78 485.24h0.7v0.7h-0.7zM276.78 483.98h0.7v0.7h-0.7zM275.5 484.92h0.7v0.7h-0.7zM278.25 481.59h0.7v0.7h-0.7zM278.35 482.46h0.7v0.7h-0.7zM277.74 490.77h0.7v0.7h-0.7zM274.99 485.14h0.7v0.7h-0.7zM276.99 487.66h0.7v0.7h-0.7zM276.37 481.01h0.7v0.7h-0.7zM273.19 485.73h0.7v0.7h-0.7zM278.41 487.86h0.7v0.7h-0.7zM276.2 486.9h0.7v0.7h-0.7zM274.72 488.41h0.7v0.7h-0.7zM277.5 483.67h0.7v0.7h-0.7zM278.2 489.48h0.7v0.7h-0.7zM275.33 482.32h0.7v0.7h-0.7zM274.86 482.53h0.7v0.7h-0.7zM277.56 486.14h0.7v0.7h-0.7zM277.24 485.77h0.7v0.7h-0.7zM281.02 484.61h0.7v0.7h-0.7zM274.19 479.81h0.7v0.7h-0.7zM278.38 483.67h0.7v0.7h-0.7zM277 486.28h0.7v0.7h-0.7zM279 481.54h0.7v0.7h-0.7zM275.02 485.48h0.7v0.7h-0.7zM277.3 488.05h0.7v0.7h-0.7zM276.3 480.34h0.7v0.7h-0.7zM280.98 481.37h0.7v0.7h-0.7zM274.98 486.23h0.7v0.7h-0.7zM274.73 491.27h0.7v0.7h-0.7zM278.37 486.59h0.7v0.7h-0.7zM276.48 490.62h0.7v0.7h-0.7zM279.21 483.58h0.7v0.7h-0.7zM281.21 481.25h0.7v0.7h-0.7zM276.06 485.99h0.7v0.7h-0.7zM278.09 483h0.7v0.7h-0.7zM282.12 488.83h0.7v0.7h-0.7zM275.08 486.2h0.7v0.7h-0.7zM275.92 484.26h0.7v0.7h-0.7zM280.46 485.6h0.7v0.7h-0.7zM277.4 485.55h0.7v0.7h-0.7zM274.42 488.23h0.7v0.7h-0.7zM275.6 488.44h0.7v0.7h-0.7zM276.42 484.21h0.7v0.7h-0.7zM281.86 485.76h0.7v0.7h-0.7zM275.91 484.01h0.7v0.7h-0.7zM279.4 489.79h0.7v0.7h-0.7zM279.42 484.36h0.7v0.7h-0.7zM274.56 483.69h0.7v0.7h-0.7zM277.37 485.89h0.7v0.7h-0.7zM275.86 488.37h0.7v0.7h-0.7zM275.02 483.59h0.7v0.7h-0.7zM279.09 486.45h0.7v0.7h-0.7zM276.61 487.61h0.7v0.7h-0.7zM273.76 489.22h0.7v0.7h-0.7zM283.82 489.99h0.7v0.7h-0.7zM278.03 490.02h0.7v0.7h-0.7zM277.85 488.49h0.7v0.7h-0.7zM277.14 485.77h0.7v0.7h-0.7zM279.17 481.11h0.7v0.7h-0.7zM277.12 489.42h0.7v0.7h-0.7zM269.52 486.22h0.7v0.7h-0.7zM280.28 486.09h0.7v0.7h-0.7zM278.24 488.63h0.7v0.7h-0.7zM278.64 480.76h0.7v0.7h-0.7zM275.06 484.59h0.7v0.7h-0.7zM278.1 484.23h0.7v0.7h-0.7zM277.41 489.3h0.7v0.7h-0.7zM269.49 488.06h0.7v0.7h-0.7zM280.32 486.74h0.7v0.7h-0.7zM277.74 485.45h0.7v0.7h-0.7zM278.72 485.88h0.7v0.7h-0.7zM275.67 487.17h0.7v0.7h-0.7zM275.39 485.2h0.7v0.7h-0.7zM276.7 482.54h0.7v0.7h-0.7zM279.39 485.13h0.7v0.7h-0.7zM274.44 485.11h0.7v0.7h-0.7zM273.84 488.74h0.7v0.7h-0.7zM279.14 490.06h0.7v0.7h-0.7zM276.11 486.99h0.7v0.7h-0.7zM274.99 483.26h0.7v0.7h-0.7zM277.45 486.29h0.7v0.7h-0.7zM280.28 484.66h0.7v0.7h-0.7zM280.78 487.61h0.7v0.7h-0.7zM275.26 484.87h0.7v0.7h-0.7zM275.14 489.38h0.7v0.7h-0.7zM276.16 487.42h0.7v0.7h-0.7zM280.25 484.69h0.7v0.7h-0.7zM276.34 486.12h0.7v0.7h-0.7zM275.54 482.27h0.7v0.7h-0.7zM275 486.11h0.7v0.7h-0.7zM278.24 489.51h0.7v0.7h-0.7zM272.6 486.5h0.7v0.7h-0.7zM274.48 488.06h0.7v0.7h-0.7zM279.64 485.6h0.7v0.7h-0.7zM281.81 484.41h0.7v0.7h-0.7zM276.22 482.79h0.7v0.7h-0.7zM275.87 485.58h0.7v0.7h-0.7zM279.58 488.36h0.7v0.7h-0.7zM276.95 483.56h0.7v0.7h-0.7zM276.77 484.28h0.7v0.7h-0.7zM276.4 484.34h0.7v0.7h-0.7zM275.27 485.18h0.7v0.7h-0.7zM276.27 484.9h0.7v0.7h-0.7zM273.84 485.65h0.7v0.7h-0.7zM279.29 486.84h0.7v0.7h-0.7zM276.17 482.58h0.7v0.7h-0.7zM274.08 482.51h0.7v0.7h-0.7zM275.91 484.56h0.7v0.7h-0.7zM272.77 486.9h0.7v0.7h-0.7zM273.42 483.67h0.7v0.7h-0.7zM275.69 487.27h0.7v0.7h-0.7zM282.81 484.46h0.7v0.7h-0.7zM276.94 484.37h0.7v0.7h-0.7zM277.14 484.9h0.7v0.7h-0.7zM284.55 482.71h0.7v0.7h-0.7zM277.4 483.42h0.7v0.7h-0.7zM278.69 484.06h0.7v0.7h-0.7zM279.3 482.73h0.7v0.7h-0.7zM283.56 485.8h0.7v0.7h-0.7zM272.8 486.96h0.7v0.7h-0.7zM276.4 482.56h0.7v0.7h-0.7zM278.92 484.07h0.7v0.7h-0.7zM279.75 484h0.7v0.7h-0.7zM280.2 485.65h0.7v0.7h-0.7zM278.69 485.67h0.7v0.7h-0.7zM276.69 484.44h0.7v0.7h-0.7zM278.95 486.98h0.7v0.7h-0.7zM276.57 490.61h0.7v0.7h-0.7zM282.39 482.58h0.7v0.7h-0.7zM280.71 485.13h0.7v0.7h-0.7zM278.35 483.43h0.7v0.7h-0.7zM282.27 483.35h0.7v0.7h-0.7zM277.47 483.59h0.7v0.7h-0.7zM283.05 488.27h0.7v0.7h-0.7zM274.05 484.24h0.7v0.7h-0.7zM278.71 484.28h0.7v0.7h-0.7zM276.72 482.75h0.7v0.7h-0.7zM278.39 482.72h0.7v0.7h-0.7zM280 490.97h0.7v0.7h-0.7zM276.8 489.19h0.7v0.7h-0.7zM278.73 483.72h0.7v0.7h-0.7zM276.75 483.03h0.7v0.7h-0.7zM278.02 486.96h0.7v0.7h-0.7zM280.27 484.65h0.7v0.7h-0.7zM274.4 485.12h0.7v0.7h-0.7zM282.32 485.97h0.7v0.7h-0.7zM277.53 480.4h0.7v0.7h-0.7zM276.5 486.59h0.7v0.7h-0.7zM275.09 488.49h0.7v0.7h-0.7zM276.14 483.25h0.7v0.7h-0.7zM276.1 485.09h0.7v0.7h-0.7zM280.46 483.97h0.7v0.7h-0.7zM272.78 485.12h0.7v0.7h-0.7zM279.14 488.94h0.7v0.7h-0.7zM274.6 488.8h0.7v0.7h-0.7zM279.57 486.38h0.7v0.7h-0.7zM275.58 483.23h0.7v0.7h-0.7zM275.07 487.5h0.7v0.7h-0.7zM278.3 487.82h0.7v0.7h-0.7zM282.71 485.35h0.7v0.7h-0.7zM277.57 489.82h0.7v0.7h-0.7zM274.1 484.25h0.7v0.7h-0.7zM276.68 484.42h0.7v0.7h-0.7zM278.1 483.33h0.7v0.7h-0.7zM280.9 482.1h0.7v0.7h-0.7zM275.46 481.33h0.7v0.7h-0.7zM273.84 486.69h0.7v0.7h-0.7zM279.43 484.85h0.7v0.7h-0.7zM280.03 486.76h0.7v0.7h-0.7zM276.11 485.22h0.7v0.7h-0.7zM278.71 490.04h0.7v0.7h-0.7zM276.49 486.18h0.7v0.7h-0.7zM279.2 488.17h0.7v0.7h-0.7zM278.87 487.83h0.7v0.7h-0.7zM274.77 484.69h0.7v0.7h-0.7zM272.37 485.19h0.7v0.7h-0.7zM284.12 485.88h0.7v0.7h-0.7zM277.95 485.94h0.7v0.7h-0.7zM278.1 482.2h0.7v0.7h-0.7zM275.79 484.9h0.7v0.7h-0.7zM278.16 483.29h0.7v0.7h-0.7zM277.41 483.59h0.7v0.7h-0.7zM274.07 483.77h0.7v0.7h-0.7zM275.48 487.28h0.7v0.7h-0.7zM281.39 486.67h0.7v0.7h-0.7zM277.12 484.01h0.7v0.7h-0.7zM273.38 484.08h0.7v0.7h-0.7z" fill="#111" stroke="none" stroke-width="1"/>
<line x1="288.8" y1="467.2" x2="288.8" y2="512.2" stroke="#666" stroke-width="0.9"/>
<line x1="268" y1="491.2" x2="322.5" y2="491.2" stroke="#666" stroke-width="0.9"/>
<text x="267.4" y="517.8" font-size="4.6" text-anchor="middle" textLength="3.6" lengthAdjust="spacingAndGlyphs" fill="#777">10</text>
<text x="269.6" y="515.8" font-size="3.2" text-anchor="middle" fill="#777">0</text>
<text x="281.02" y="517.8" font-size="4.6" text-anchor="middle" textLength="3.6" lengthAdjust="spacingAndGlyphs" fill="#777">10</text>
<text x="283.23" y="515.8" font-size="3.2" text-anchor="middle" fill="#777">1</text>
<text x="294.65" y="517.8" font-size="4.6" text-anchor="middle" textLength="3.6" lengthAdjust="spacingAndGlyphs" fill="#777">10</text>
<text x="296.85" y="515.8" font-size="3.2" text-anchor="middle" fill="#777">2</text>
<text x="308.27" y="517.8" font-size="4.6" text-anchor="middle" textLength="3.6" lengthAdjust="spacingAndGlyphs" fill="#777">10</text>
<text x="310.48" y="515.8" font-size="3.2" text-anchor="middle" fill="#777">3</text>
<text x="321.9" y="517.8" font-size="4.6" text-anchor="middle" textLength="3.6" lengthAdjust="spacingAndGlyphs" fill="#777">10</text>
<text x="324.1" y="515.8" font-size="3.2" text-anchor="middle" fill="#777">4</text>
<text x="296.25" y="520.7" font-size="3" text-anchor="middle" fill="#999">FITC</text>
<line x1="266.7" y1="512.2" x2="268" y2="512.2" stroke="#666" stroke-width="0.6"/>
<line x1="266.7" y1="503.2" x2="268" y2="503.2" stroke="#666" stroke-width="0.6"/>
<line x1="266.7" y1="494.2" x2="268" y2="494.2" stroke="#666" stroke-width="0.6"/>
<line x1="266.7" y1="485.2" x2="268" y2="485.2" stroke="#666" stroke-width="0.6"/>
<line x1="266.7" y1="476.2" x2="268" y2="476.2" stroke="#666" stroke-width="0.6"/>
<line x1="266.7" y1="467.2" x2="268" y2="467.2" stroke="#666" stroke-width="0.6"/>
<rect x="398" y="433.2" width="82" height="17.6" fill="#fff" stroke="#444" stroke-width="0.9"/>
<text x="439" y="445" font-size="7.6" text-anchor="middle" textLength="57.5" lengthAdjust="spacingAndGlyphs" fill="#111">CD19.28.4-1BB.ζ</text>
<text transform="translate(375 491.3) rotate(-90)" x="0" y="0" font-size="8.6" text-anchor="middle" textLength="13.8" lengthAdjust="spacingAndGlyphs" fill="#111">CD3</text>
<text x="409.15" y="464.9" font-size="7.4" text-anchor="middle" textLength="26" lengthAdjust="spacingAndGlyphs" fill="#111">KHAA(-)</text>
<rect x="382" y="467.2" width="54.3" height="45.1" fill="#fff" stroke="#666" stroke-width="0.9"/>
<path d="M432.96 489.04h0.6v0.6h-0.6zM417.15 483.56h0.6v0.6h-0.6zM414.55 486.18h0.6v0.6h-0.6zM414.41 486.2h0.6v0.6h-0.6zM405.41 484.7h0.6v0.6h-0.6zM410.36 488.73h0.6v0.6h-0.6zM413.49 482.56h0.6v0.6h-0.6zM414.76 485.01h0.6v0.6h-0.6zM411.76 486.18h0.6v0.6h-0.6zM407.69 477.92h0.6v0.6h-0.6zM422.71 484.43h0.6v0.6h-0.6zM434.15 486.04h0.6v0.6h-0.6zM406.4 486.67h0.6v0.6h-0.6zM421.13 480.53h0.6v0.6h-0.6zM419.85 488.18h0.6v0.6h-0.6zM424.03 481.92h0.6v0.6h-0.6zM406.34 480.16h0.6v0.6h-0.6zM414.97 489.6h0.6v0.6h-0.6zM417.73 483.27h0.6v0.6h-0.6zM416.44 484.41h0.6v0.6h-0.6zM421.97 480.74h0.6v0.6h-0.6zM421.4 486.98h0.6v0.6h-0.6zM410 478.22h0.6v0.6h-0.6zM404.78 479.62h0.6v0.6h-0.6zM427.33 485.09h0.6v0.6h-0.6zM407.15 489.31h0.6v0.6h-0.6zM411.24 486.29h0.6v0.6h-0.6zM409.76 481.61h0.6v0.6h-0.6zM417.09 481.19h0.6v0.6h-0.6zM429.04 488.81h0.6v0.6h-0.6zM433.52 485.51h0.6v0.6h-0.6zM409.37 486.35h0.6v0.6h-0.6zM403.32 487.39h0.6v0.6h-0.6zM409.22 485.54h0.6v0.6h-0.6zM404.47 484.02h0.6v0.6h-0.6zM426.05 483.7h0.6v0.6h-0.6zM406.57 485.64h0.6v0.6h-0.6zM424.87 483.81h0.6v0.6h-0.6zM413.46 486.4h0.6v0.6h-0.6zM427.14 485.64h0.6v0.6h-0.6zM420.18 482.58h0.6v0.6h-0.6zM413.37 486.77h0.6v0.6h-0.6zM415.65 489.62h0.6v0.6h-0.6zM411.78 485.03h0.6v0.6h-0.6zM409.31 489.52h0.6v0.6h-0.6zM413.43 483.1h0.6v0.6h-0.6zM419.63 483.62h0.6v0.6h-0.6zM426.06 484.97h0.6v0.6h-0.6zM424.01 487.74h0.6v0.6h-0.6zM421.34 484.73h0.6v0.6h-0.6zM415.35 486.12h0.6v0.6h-0.6zM421.15 485.92h0.6v0.6h-0.6zM408.03 484.26h0.6v0.6h-0.6zM419.89 480.75h0.6v0.6h-0.6zM414.39 487.47h0.6v0.6h-0.6zM416.48 483.45h0.6v0.6h-0.6zM414.23 482.69h0.6v0.6h-0.6z" fill="#8a8a8a" stroke="none" stroke-width="1"/>
<path d="M432.59 478.26h0.6v0.6h-0.6zM421.91 486.13h0.6v0.6h-0.6zM406.59 472.31h0.6v0.6h-0.6zM424.86 481.37h0.6v0.6h-0.6zM425.71 476.01h0.6v0.6h-0.6zM418.8 474.43h0.6v0.6h-0.6zM416.96 476.07h0.6v0.6h-0.6zM421.54 476.37h0.6v0.6h-0.6zM411.96 482.32h0.6v0.6h-0.6zM406.14 485.06h0.6v0.6h-0.6zM418.77 475.16h0.6v0.6h-0.6zM407.04 480h0.6v0.6h-0.6zM419.02 483.65h0.6v0.6h-0.6zM415.02 478.33h0.6v0.6h-0.6zM430.99 475.94h0.6v0.6h-0.6z" fill="#aaa" stroke="none" stroke-width="1"/>
<path d="M400.49 495.99h0.6v0.6h-0.6zM401.96 496.62h0.6v0.6h-0.6zM389.59 508.5h0.6v0.6h-0.6zM387.42 494.88h0.6v0.6h-0.6zM397.22 497.36h0.6v0.6h-0.6zM398.76 503.24h0.6v0.6h-0.6zM391.75 501.65h0.6v0.6h-0.6zM387.55 494.87h0.6v0.6h-0.6zM396.05 502.5h0.6v0.6h-0.6zM394.5 501.66h0.6v0.6h-0.6zM393.14 498.55h0.6v0.6h-0.6zM394.82 496.02h0.6v0.6h-0.6zM385.69 500.14h0.6v0.6h-0.6zM387.02 492.57h0.6v0.6h-0.6zM384.55 494.44h0.6v0.6h-0.6zM394.64 511.06h0.6v0.6h-0.6zM398.46 495.22h0.6v0.6h-0.6zM395.59 497.19h0.6v0.6h-0.6zM391.97 493.73h0.6v0.6h-0.6zM398.77 493.22h0.6v0.6h-0.6zM392.87 494.24h0.6v0.6h-0.6zM388.17 502.81h0.6v0.6h-0.6z" fill="#999" stroke="none" stroke-width="1"/>
<path d="M408.75 494.43h0.6v0.6h-0.6zM420.99 495.49h0.6v0.6h-0.6zM413.87 493.43h0.6v0.6h-0.6zM408.27 504.98h0.6v0.6h-0.6zM410.39 507.44h0.6v0.6h-0.6zM413.64 507.46h0.6v0.6h-0.6zM412.82 496.53h0.6v0.6h-0.6zM415.66 491.73h0.6v0.6h-0.6zM416.91 498.64h0.6v0.6h-0.6zM403.89 507.7h0.6v0.6h-0.6zM415.06 491.51h0.6v0.6h-0.6zM433.08 495.79h0.6v0.6h-0.6z" fill="#aaa" stroke="none" stroke-width="1"/>
<path d="M417.97 498.39h0.6v0.6h-0.6zM428.2 501.18h0.6v0.6h-0.6zM409.76 495.17h0.6v0.6h-0.6zM418.16 500.79h0.6v0.6h-0.6zM425.58 496.78h0.6v0.6h-0.6zM434.66 496.95h0.6v0.6h-0.6zM429.01 502.98h0.6v0.6h-0.6zM430.5 498.33h0.6v0.6h-0.6zM422.51 491.76h0.6v0.6h-0.6zM404.06 495.25h0.6v0.6h-0.6zM423.63 501.61h0.6v0.6h-0.6zM417.2 501.52h0.6v0.6h-0.6zM422.53 503.36h0.6v0.6h-0.6zM405.54 494.42h0.6v0.6h-0.6zM410.51 493.6h0.6v0.6h-0.6zM430.91 494.05h0.6v0.6h-0.6zM411.51 496.05h0.6v0.6h-0.6zM424.93 495.81h0.6v0.6h-0.6zM423.77 499.66h0.6v0.6h-0.6zM410.81 492.83h0.6v0.6h-0.6zM430.81 494.84h0.6v0.6h-0.6zM409.61 499h0.6v0.6h-0.6zM418.42 494.01h0.6v0.6h-0.6zM426.58 501.04h0.6v0.6h-0.6zM420.19 494.68h0.6v0.6h-0.6zM421 499.05h0.6v0.6h-0.6zM410.79 497.66h0.6v0.6h-0.6zM404.62 499.88h0.6v0.6h-0.6zM414.66 495.68h0.6v0.6h-0.6zM422.88 497.06h0.6v0.6h-0.6zM425.8 499.52h0.6v0.6h-0.6zM427.1 498.01h0.6v0.6h-0.6zM404.66 501.52h0.6v0.6h-0.6zM419.98 492.28h0.6v0.6h-0.6zM418.52 500.9h0.6v0.6h-0.6zM409.99 497.71h0.6v0.6h-0.6zM412.21 493.74h0.6v0.6h-0.6zM413.16 502.4h0.6v0.6h-0.6zM423.38 497.44h0.6v0.6h-0.6zM417.36 498.03h0.6v0.6h-0.6zM420.25 498.25h0.6v0.6h-0.6zM404.53 501.05h0.6v0.6h-0.6zM423.52 492.96h0.6v0.6h-0.6zM416.89 497.19h0.6v0.6h-0.6zM413.36 499.58h0.6v0.6h-0.6zM415.86 496.49h0.6v0.6h-0.6zM410.51 496.48h0.6v0.6h-0.6zM409.87 497.71h0.6v0.6h-0.6zM428.39 501.38h0.6v0.6h-0.6zM421.36 492.37h0.6v0.6h-0.6zM426.08 501.1h0.6v0.6h-0.6zM418.13 496.28h0.6v0.6h-0.6zM426.55 493.41h0.6v0.6h-0.6zM415.01 506.37h0.6v0.6h-0.6zM418.16 502.75h0.6v0.6h-0.6zM413.15 499.81h0.6v0.6h-0.6zM418.78 491.98h0.6v0.6h-0.6zM413.08 501.86h0.6v0.6h-0.6zM427.32 495.25h0.6v0.6h-0.6zM426.85 494.83h0.6v0.6h-0.6zM419.94 497.45h0.6v0.6h-0.6zM408.18 498.76h0.6v0.6h-0.6zM411.48 494.31h0.6v0.6h-0.6zM411.43 493.81h0.6v0.6h-0.6zM425 497.81h0.6v0.6h-0.6zM420 496.52h0.6v0.6h-0.6zM418.5 496.53h0.6v0.6h-0.6zM409.43 491.74h0.6v0.6h-0.6zM418.59 501.41h0.6v0.6h-0.6zM419.85 503.68h0.6v0.6h-0.6zM407.27 496.52h0.6v0.6h-0.6zM413.14 502.23h0.6v0.6h-0.6zM431.34 495.54h0.6v0.6h-0.6zM423.75 496.6h0.6v0.6h-0.6zM410.14 497.1h0.6v0.6h-0.6zM409.81 503.44h0.6v0.6h-0.6zM422.65 502.06h0.6v0.6h-0.6zM424.31 497.87h0.6v0.6h-0.6zM425.96 504.06h0.6v0.6h-0.6zM409.95 500.53h0.6v0.6h-0.6zM420.62 496.86h0.6v0.6h-0.6zM415.77 499.54h0.6v0.6h-0.6zM422.54 500.04h0.6v0.6h-0.6zM414.79 492.48h0.6v0.6h-0.6zM428.38 502.48h0.6v0.6h-0.6zM413.56 497.4h0.6v0.6h-0.6zM421.93 506.77h0.6v0.6h-0.6zM420.14 494.82h0.6v0.6h-0.6zM434.08 497.55h0.6v0.6h-0.6zM419.67 495.89h0.6v0.6h-0.6zM407.91 491.87h0.6v0.6h-0.6zM425.1 497.16h0.6v0.6h-0.6zM413.28 503.09h0.6v0.6h-0.6zM412.13 496.19h0.6v0.6h-0.6zM417.9 502.5h0.6v0.6h-0.6zM428.46 503.46h0.6v0.6h-0.6zM422.57 495.59h0.6v0.6h-0.6zM414.11 491.84h0.6v0.6h-0.6zM428.01 502.31h0.6v0.6h-0.6zM418.7 494.1h0.6v0.6h-0.6zM423.31 499.38h0.6v0.6h-0.6zM419.21 493.06h0.6v0.6h-0.6zM419.88 495.34h0.6v0.6h-0.6zM423.81 499.8h0.6v0.6h-0.6zM421.46 495.87h0.6v0.6h-0.6zM429.98 500.48h0.6v0.6h-0.6zM427.97 500.72h0.6v0.6h-0.6zM423.21 499.01h0.6v0.6h-0.6zM410.64 499.86h0.6v0.6h-0.6zM425.16 498.21h0.6v0.6h-0.6zM418.7 504.54h0.6v0.6h-0.6zM405.84 496.27h0.6v0.6h-0.6zM423.5 500.33h0.6v0.6h-0.6zM416.26 500.64h0.6v0.6h-0.6zM417.62 494.73h0.6v0.6h-0.6zM415.03 500.4h0.6v0.6h-0.6zM425.49 493.2h0.6v0.6h-0.6zM410.24 497.97h0.6v0.6h-0.6zM434.69 493.02h0.6v0.6h-0.6zM408.17 499.11h0.6v0.6h-0.6zM422 495.16h0.6v0.6h-0.6zM417.8 499.36h0.6v0.6h-0.6zM404.32 497.41h0.6v0.6h-0.6zM422.72 501.04h0.6v0.6h-0.6zM427.15 497.23h0.6v0.6h-0.6zM406.69 502.65h0.6v0.6h-0.6zM424.05 495.06h0.6v0.6h-0.6zM426.12 501.49h0.6v0.6h-0.6zM414.33 494.6h0.6v0.6h-0.6zM411.44 497.19h0.6v0.6h-0.6zM409.52 499h0.6v0.6h-0.6zM432.81 492.94h0.6v0.6h-0.6zM426.16 495.46h0.6v0.6h-0.6zM422.27 497.01h0.6v0.6h-0.6zM428.06 494.78h0.6v0.6h-0.6zM423.75 494.53h0.6v0.6h-0.6zM419.8 497.45h0.6v0.6h-0.6zM426.54 491.45h0.6v0.6h-0.6zM407.43 502.84h0.6v0.6h-0.6zM421.03 504.01h0.6v0.6h-0.6zM409.93 498.31h0.6v0.6h-0.6zM422.73 504.28h0.6v0.6h-0.6zM417.59 495.79h0.6v0.6h-0.6zM423.6 497.11h0.6v0.6h-0.6zM412.14 500.42h0.6v0.6h-0.6zM403.09 493.61h0.6v0.6h-0.6zM428.66 495.59h0.6v0.6h-0.6zM415.47 498.93h0.6v0.6h-0.6zM426.79 499.53h0.6v0.6h-0.6zM410.45 495.32h0.6v0.6h-0.6zM426.22 497.05h0.6v0.6h-0.6zM413.06 500.85h0.6v0.6h-0.6zM426.94 505.84h0.6v0.6h-0.6zM409.58 494.79h0.6v0.6h-0.6zM412.58 498.86h0.6v0.6h-0.6zM414.27 501.78h0.6v0.6h-0.6zM412.97 496.45h0.6v0.6h-0.6zM422.45 498.28h0.6v0.6h-0.6zM410.09 503.26h0.6v0.6h-0.6zM422.51 495.62h0.6v0.6h-0.6zM419.63 493.26h0.6v0.6h-0.6zM408.4 496.35h0.6v0.6h-0.6zM420.86 497.89h0.6v0.6h-0.6zM411.94 492.19h0.6v0.6h-0.6zM404.9 503.63h0.6v0.6h-0.6zM420.89 494.43h0.6v0.6h-0.6zM427.27 499.57h0.6v0.6h-0.6zM414.77 495.15h0.6v0.6h-0.6zM426.9 498.76h0.6v0.6h-0.6zM430.77 498.89h0.6v0.6h-0.6zM413.44 495.2h0.6v0.6h-0.6zM412.51 498.47h0.6v0.6h-0.6zM419.98 499.83h0.6v0.6h-0.6zM421.52 493.47h0.6v0.6h-0.6zM416.41 493.89h0.6v0.6h-0.6zM421.76 492.46h0.6v0.6h-0.6zM413.47 494.21h0.6v0.6h-0.6zM413.18 496.52h0.6v0.6h-0.6zM429.79 496.52h0.6v0.6h-0.6zM406.82 496.34h0.6v0.6h-0.6zM423.84 499.62h0.6v0.6h-0.6zM419.87 505.14h0.6v0.6h-0.6zM426.65 497.85h0.6v0.6h-0.6zM427.48 492.36h0.6v0.6h-0.6zM416.68 494.18h0.6v0.6h-0.6zM419.39 503.71h0.6v0.6h-0.6zM414.14 503.61h0.6v0.6h-0.6zM410.05 502.97h0.6v0.6h-0.6zM404.81 494.24h0.6v0.6h-0.6zM425.77 497.15h0.6v0.6h-0.6zM419.13 497.45h0.6v0.6h-0.6zM419.41 496.81h0.6v0.6h-0.6zM410.39 496.39h0.6v0.6h-0.6zM418.87 494.05h0.6v0.6h-0.6zM421.63 504.26h0.6v0.6h-0.6zM405.24 495.41h0.6v0.6h-0.6zM415.82 497.57h0.6v0.6h-0.6zM418.74 494.72h0.6v0.6h-0.6zM417.74 497.52h0.6v0.6h-0.6zM417.33 503.41h0.6v0.6h-0.6zM419.01 491.83h0.6v0.6h-0.6zM405.82 499.77h0.6v0.6h-0.6zM415.35 495.13h0.6v0.6h-0.6zM407.46 496.32h0.6v0.6h-0.6zM417.29 494.87h0.6v0.6h-0.6zM415.27 500.9h0.6v0.6h-0.6zM424.1 499.6h0.6v0.6h-0.6zM416.65 492.29h0.6v0.6h-0.6zM424.04 503.24h0.6v0.6h-0.6zM427.91 501.97h0.6v0.6h-0.6zM420.16 498.94h0.6v0.6h-0.6zM417.9 502.31h0.6v0.6h-0.6zM415.91 505.74h0.6v0.6h-0.6zM424.05 496.27h0.6v0.6h-0.6zM417.99 491.33h0.6v0.6h-0.6zM412.31 496.35h0.6v0.6h-0.6zM425.14 497.8h0.6v0.6h-0.6zM415.7 499.9h0.6v0.6h-0.6zM433.04 498.64h0.6v0.6h-0.6zM417.52 498.12h0.6v0.6h-0.6zM423.15 495.62h0.6v0.6h-0.6zM418.94 499.44h0.6v0.6h-0.6zM415.29 499h0.6v0.6h-0.6zM420.59 500.24h0.6v0.6h-0.6zM410.34 495.45h0.6v0.6h-0.6zM414.69 502.1h0.6v0.6h-0.6zM419.94 491.15h0.6v0.6h-0.6zM408.08 504.95h0.6v0.6h-0.6zM420.63 492.53h0.6v0.6h-0.6zM410.93 498.05h0.6v0.6h-0.6zM429.09 503.72h0.6v0.6h-0.6zM415.17 496.35h0.6v0.6h-0.6zM432.91 493.73h0.6v0.6h-0.6zM430.15 498.8h0.6v0.6h-0.6zM418.73 502.44h0.6v0.6h-0.6zM421.75 494.29h0.6v0.6h-0.6zM406.16 497.56h0.6v0.6h-0.6zM421.98 502.75h0.6v0.6h-0.6zM422.81 503.33h0.6v0.6h-0.6zM424.19 498.32h0.6v0.6h-0.6zM421.36 499.03h0.6v0.6h-0.6zM413.12 497.06h0.6v0.6h-0.6zM419 495.77h0.6v0.6h-0.6zM406.62 491.95h0.6v0.6h-0.6zM421.92 499.5h0.6v0.6h-0.6zM418.84 493.01h0.6v0.6h-0.6zM424.62 496h0.6v0.6h-0.6zM406.41 506.16h0.6v0.6h-0.6zM422.14 495.81h0.6v0.6h-0.6zM429.51 502.73h0.6v0.6h-0.6zM415.04 496.41h0.6v0.6h-0.6zM421.59 497.02h0.6v0.6h-0.6zM420.68 491.23h0.6v0.6h-0.6zM413.01 503.04h0.6v0.6h-0.6zM406.71 501.05h0.6v0.6h-0.6zM407.21 502.29h0.6v0.6h-0.6zM403.6 498.8h0.6v0.6h-0.6zM414.83 502.26h0.6v0.6h-0.6zM427.16 498.23h0.6v0.6h-0.6zM431.92 501.28h0.6v0.6h-0.6zM414.29 493.72h0.6v0.6h-0.6zM421.2 497.05h0.6v0.6h-0.6zM414.33 491.32h0.6v0.6h-0.6zM416.88 497.06h0.6v0.6h-0.6zM425.63 495.52h0.6v0.6h-0.6zM405.85 493.37h0.6v0.6h-0.6zM417.69 498.46h0.6v0.6h-0.6zM423.63 496.03h0.6v0.6h-0.6zM422.19 498.05h0.6v0.6h-0.6zM431.12 497.29h0.6v0.6h-0.6zM419.12 499.68h0.6v0.6h-0.6zM427.47 493.96h0.6v0.6h-0.6zM414.32 496.44h0.6v0.6h-0.6zM426.34 497.59h0.6v0.6h-0.6zM433.72 503.55h0.6v0.6h-0.6zM425.04 492.05h0.6v0.6h-0.6zM429.9 499.12h0.6v0.6h-0.6zM408.71 497.71h0.6v0.6h-0.6zM423.87 501.29h0.6v0.6h-0.6zM419.36 495.49h0.6v0.6h-0.6zM423.95 494.57h0.6v0.6h-0.6zM417.4 500.44h0.6v0.6h-0.6zM406.81 498.94h0.6v0.6h-0.6zM408.43 497.15h0.6v0.6h-0.6zM423.56 497.31h0.6v0.6h-0.6zM425.1 497.87h0.6v0.6h-0.6zM416.41 499.4h0.6v0.6h-0.6zM416.15 498.02h0.6v0.6h-0.6zM426.09 495.3h0.6v0.6h-0.6zM426.95 493.23h0.6v0.6h-0.6zM413.88 503.63h0.6v0.6h-0.6zM420.77 502.4h0.6v0.6h-0.6zM406.58 493.6h0.6v0.6h-0.6zM421.63 500.69h0.6v0.6h-0.6zM424.5 491.05h0.6v0.6h-0.6zM421.98 497.22h0.6v0.6h-0.6zM418.94 499.34h0.6v0.6h-0.6zM409.69 491.92h0.6v0.6h-0.6z" fill="#555" stroke="none" stroke-width="1"/>
<path d="M384.4 485.39h0.6v0.6h-0.6zM397.16 483.6h0.6v0.6h-0.6zM387.09 482.26h0.6v0.6h-0.6zM388.44 485.06h0.6v0.6h-0.6zM386.13 487.3h0.6v0.6h-0.6zM384.96 487.5h0.6v0.6h-0.6zM387.58 488.23h0.6v0.6h-0.6zM386.48 487.17h0.6v0.6h-0.6zM392.94 485.56h0.6v0.6h-0.6zM398.75 486.34h0.6v0.6h-0.6zM386.48 487.94h0.6v0.6h-0.6zM386.79 484.13h0.6v0.6h-0.6zM390.86 486.36h0.6v0.6h-0.6zM399.1 480.41h0.6v0.6h-0.6zM389.55 489.29h0.6v0.6h-0.6zM390.02 486.79h0.6v0.6h-0.6zM398.23 482h0.6v0.6h-0.6zM391.02 488.25h0.6v0.6h-0.6zM387.95 480.39h0.6v0.6h-0.6zM385.94 486.4h0.6v0.6h-0.6zM391.72 491.5h0.6v0.6h-0.6zM397.26 481.02h0.6v0.6h-0.6zM395.85 488.63h0.6v0.6h-0.6zM398.69 485.33h0.6v0.6h-0.6zM388.09 486.25h0.6v0.6h-0.6zM398.33 487.73h0.6v0.6h-0.6zM399.07 488.23h0.6v0.6h-0.6zM387.94 482.67h0.6v0.6h-0.6zM399.82 481.12h0.6v0.6h-0.6zM389.1 484.82h0.6v0.6h-0.6zM386.36 484.03h0.6v0.6h-0.6zM390.83 493.15h0.6v0.6h-0.6zM390.48 484.18h0.6v0.6h-0.6zM391.4 488.71h0.6v0.6h-0.6zM386.83 484.55h0.6v0.6h-0.6zM394.12 490.44h0.6v0.6h-0.6zM384.96 492.53h0.6v0.6h-0.6zM395.05 484.95h0.6v0.6h-0.6zM388.9 484.84h0.6v0.6h-0.6zM384.89 488.19h0.6v0.6h-0.6zM387.84 483.56h0.6v0.6h-0.6zM393.32 486.15h0.6v0.6h-0.6zM387.96 485.07h0.6v0.6h-0.6zM388.4 489.97h0.6v0.6h-0.6zM395.68 483.55h0.6v0.6h-0.6zM390.61 490.05h0.6v0.6h-0.6zM389.4 491.32h0.6v0.6h-0.6zM392.97 487.87h0.6v0.6h-0.6zM392.46 487.6h0.6v0.6h-0.6zM393.15 487.43h0.6v0.6h-0.6zM388.32 488.59h0.6v0.6h-0.6zM391.11 482.55h0.6v0.6h-0.6zM385.84 486.3h0.6v0.6h-0.6zM392.44 478.96h0.6v0.6h-0.6zM390.74 494.63h0.6v0.6h-0.6zM383.33 485.03h0.6v0.6h-0.6zM387.88 487.53h0.6v0.6h-0.6zM397.67 490.8h0.6v0.6h-0.6zM385.88 489.63h0.6v0.6h-0.6zM384.87 486.76h0.6v0.6h-0.6zM391.64 487.72h0.6v0.6h-0.6zM386.9 489.95h0.6v0.6h-0.6zM390.47 485.74h0.6v0.6h-0.6zM389.5 482.49h0.6v0.6h-0.6zM394.32 486.84h0.6v0.6h-0.6zM393.02 491.58h0.6v0.6h-0.6zM386.57 484.92h0.6v0.6h-0.6zM390.84 488.45h0.6v0.6h-0.6zM389.93 488.7h0.6v0.6h-0.6zM393.03 480.34h0.6v0.6h-0.6zM387.47 479.5h0.6v0.6h-0.6zM389.41 484.51h0.6v0.6h-0.6zM393.68 486.33h0.6v0.6h-0.6zM390.49 489.72h0.6v0.6h-0.6zM393.7 481.98h0.6v0.6h-0.6zM387.43 486.82h0.6v0.6h-0.6zM399.11 485.19h0.6v0.6h-0.6zM389.97 486.62h0.6v0.6h-0.6zM394.62 485.52h0.6v0.6h-0.6zM392.24 484.49h0.6v0.6h-0.6zM388.11 483.34h0.6v0.6h-0.6zM394.02 484.07h0.6v0.6h-0.6zM393.48 487.06h0.6v0.6h-0.6zM395.55 477.46h0.6v0.6h-0.6zM386.09 482.01h0.6v0.6h-0.6zM390 488.3h0.6v0.6h-0.6z" fill="#666" stroke="none" stroke-width="1"/>
<ellipse cx="387.8" cy="485.3" rx="4.6" ry="3.9" fill="#000" filter="url(#bl)"/>
<path d="M394.73 488.9h0.7v0.7h-0.7zM391.51 486.19h0.7v0.7h-0.7zM386.74 486.55h0.7v0.7h-0.7zM387.82 486.74h0.7v0.7h-0.7zM384.99 482.75h0.7v0.7h-0.7zM386.04 485.2h0.7v0.7h-0.7zM388.75 484.47h0.7v0.7h-0.7zM388.76 486.89h0.7v0.7h-0.7zM384.63 485.06h0.7v0.7h-0.7zM383.54 484.02h0.7v0.7h-0.7zM390.27 483.63h0.7v0.7h-0.7zM392.9 486.48h0.7v0.7h-0.7zM390.23 485.54h0.7v0.7h-0.7zM390.17 487.85h0.7v0.7h-0.7zM388.09 484.06h0.7v0.7h-0.7zM386.3 489.8h0.7v0.7h-0.7zM387.3 484.23h0.7v0.7h-0.7zM385.86 481.37h0.7v0.7h-0.7zM386.43 486.06h0.7v0.7h-0.7zM386.47 483.53h0.7v0.7h-0.7zM388.92 486.37h0.7v0.7h-0.7zM386.61 486.02h0.7v0.7h-0.7zM385.14 487.31h0.7v0.7h-0.7zM385.1 484.52h0.7v0.7h-0.7zM388.17 484.32h0.7v0.7h-0.7zM384.67 490.2h0.7v0.7h-0.7zM391.95 481.23h0.7v0.7h-0.7zM388.13 482.34h0.7v0.7h-0.7zM388.65 482.26h0.7v0.7h-0.7zM389.39 486.54h0.7v0.7h-0.7zM392.47 488.11h0.7v0.7h-0.7zM386.55 487.51h0.7v0.7h-0.7zM386.55 485.04h0.7v0.7h-0.7zM386.43 481.19h0.7v0.7h-0.7zM389.45 480.55h0.7v0.7h-0.7zM387.16 486.53h0.7v0.7h-0.7zM388.11 481.62h0.7v0.7h-0.7zM386.02 486.89h0.7v0.7h-0.7zM390.81 489.03h0.7v0.7h-0.7zM382.84 486.37h0.7v0.7h-0.7zM386.48 487.09h0.7v0.7h-0.7zM383.18 484.97h0.7v0.7h-0.7zM389.74 483.79h0.7v0.7h-0.7zM386.81 483.01h0.7v0.7h-0.7zM390.85 482.2h0.7v0.7h-0.7zM385.3 484.52h0.7v0.7h-0.7zM386.93 490.24h0.7v0.7h-0.7zM388.55 483.36h0.7v0.7h-0.7zM389.39 486.1h0.7v0.7h-0.7zM388.57 485.15h0.7v0.7h-0.7zM389.06 482.56h0.7v0.7h-0.7zM384.51 484.31h0.7v0.7h-0.7zM384.78 486.94h0.7v0.7h-0.7zM393.11 488.19h0.7v0.7h-0.7zM389.02 486.09h0.7v0.7h-0.7zM385.93 482.26h0.7v0.7h-0.7zM389.3 481.85h0.7v0.7h-0.7zM388.63 484.97h0.7v0.7h-0.7zM389.85 485.42h0.7v0.7h-0.7zM388.09 483.94h0.7v0.7h-0.7zM383.09 484.5h0.7v0.7h-0.7zM389.7 487.74h0.7v0.7h-0.7zM391.57 482.97h0.7v0.7h-0.7zM385.24 486.94h0.7v0.7h-0.7zM386.56 491.31h0.7v0.7h-0.7zM388.66 481.75h0.7v0.7h-0.7zM386.28 488.97h0.7v0.7h-0.7zM382.81 485.66h0.7v0.7h-0.7zM384.01 489.04h0.7v0.7h-0.7zM386.58 482.89h0.7v0.7h-0.7zM383.13 483.63h0.7v0.7h-0.7zM393.77 485.53h0.7v0.7h-0.7zM387.07 482.59h0.7v0.7h-0.7zM388.73 484.2h0.7v0.7h-0.7zM385.48 488.54h0.7v0.7h-0.7zM389 483.22h0.7v0.7h-0.7zM391.85 485.17h0.7v0.7h-0.7zM389.18 485.65h0.7v0.7h-0.7zM391.03 486.74h0.7v0.7h-0.7zM386.85 486.98h0.7v0.7h-0.7zM386.73 485.61h0.7v0.7h-0.7zM392.29 482.82h0.7v0.7h-0.7zM384.97 484.36h0.7v0.7h-0.7zM386.43 488.34h0.7v0.7h-0.7zM383.44 490.66h0.7v0.7h-0.7zM392.14 484.25h0.7v0.7h-0.7zM388.31 484.46h0.7v0.7h-0.7zM389.64 486.85h0.7v0.7h-0.7zM389.86 487.09h0.7v0.7h-0.7zM393.09 484.9h0.7v0.7h-0.7zM389.72 484.86h0.7v0.7h-0.7zM387.91 485.81h0.7v0.7h-0.7zM387.66 486.11h0.7v0.7h-0.7zM385.47 484.94h0.7v0.7h-0.7zM386.14 482.57h0.7v0.7h-0.7zM385.86 484.14h0.7v0.7h-0.7zM387.39 481.65h0.7v0.7h-0.7zM387.1 482.66h0.7v0.7h-0.7zM385.56 485.74h0.7v0.7h-0.7zM390.84 485.97h0.7v0.7h-0.7zM386.46 484.27h0.7v0.7h-0.7zM391.47 481.5h0.7v0.7h-0.7zM390.92 481.79h0.7v0.7h-0.7zM386.06 485.41h0.7v0.7h-0.7zM387.19 489.19h0.7v0.7h-0.7zM389.15 485.19h0.7v0.7h-0.7zM390.41 485.39h0.7v0.7h-0.7zM385.59 487.93h0.7v0.7h-0.7zM391.91 488.3h0.7v0.7h-0.7zM384.58 489.77h0.7v0.7h-0.7zM386.66 487.1h0.7v0.7h-0.7zM391.07 490.87h0.7v0.7h-0.7zM383.37 482.91h0.7v0.7h-0.7zM391.03 486.46h0.7v0.7h-0.7zM386.94 478.45h0.7v0.7h-0.7zM389.01 484.86h0.7v0.7h-0.7zM387.79 485.85h0.7v0.7h-0.7zM389.87 484.68h0.7v0.7h-0.7zM385.34 484.46h0.7v0.7h-0.7zM393.22 483.69h0.7v0.7h-0.7zM387.58 489.75h0.7v0.7h-0.7zM390.69 485.59h0.7v0.7h-0.7zM389.82 484.67h0.7v0.7h-0.7zM385.32 487.65h0.7v0.7h-0.7zM388.17 489.05h0.7v0.7h-0.7zM387.08 484.42h0.7v0.7h-0.7zM388.75 484.86h0.7v0.7h-0.7zM386.95 483.2h0.7v0.7h-0.7zM388.5 486.06h0.7v0.7h-0.7zM392.82 485.24h0.7v0.7h-0.7zM382.98 486.39h0.7v0.7h-0.7zM394.08 484.27h0.7v0.7h-0.7zM385.6 484.91h0.7v0.7h-0.7zM387.28 481.75h0.7v0.7h-0.7zM389.38 483.25h0.7v0.7h-0.7zM389.54 489.81h0.7v0.7h-0.7zM391.23 485.76h0.7v0.7h-0.7zM386.4 484.69h0.7v0.7h-0.7zM390.46 484.08h0.7v0.7h-0.7zM388.94 487.57h0.7v0.7h-0.7zM385.31 483.92h0.7v0.7h-0.7zM389.03 485.32h0.7v0.7h-0.7zM387.46 484.06h0.7v0.7h-0.7zM387.63 489.65h0.7v0.7h-0.7zM391.53 481.51h0.7v0.7h-0.7zM387.93 485.52h0.7v0.7h-0.7zM387.9 482.06h0.7v0.7h-0.7zM387.44 485.65h0.7v0.7h-0.7zM385.93 486.04h0.7v0.7h-0.7zM388.08 486.22h0.7v0.7h-0.7zM387.34 484.22h0.7v0.7h-0.7zM388.31 487.84h0.7v0.7h-0.7zM390.27 485.11h0.7v0.7h-0.7zM386.52 487.8h0.7v0.7h-0.7zM389.29 487.37h0.7v0.7h-0.7zM387.04 483.28h0.7v0.7h-0.7zM388.31 483.83h0.7v0.7h-0.7zM390.96 487.31h0.7v0.7h-0.7zM391.46 487.74h0.7v0.7h-0.7zM386.5 483.28h0.7v0.7h-0.7zM390.47 487.68h0.7v0.7h-0.7zM387.96 482.59h0.7v0.7h-0.7zM383.6 485.93h0.7v0.7h-0.7zM385.53 483.7h0.7v0.7h-0.7zM389.02 487.77h0.7v0.7h-0.7zM391.37 485.2h0.7v0.7h-0.7zM386.86 486.8h0.7v0.7h-0.7zM384.67 482.43h0.7v0.7h-0.7zM387.86 488.97h0.7v0.7h-0.7zM390.59 485.29h0.7v0.7h-0.7zM390.58 484.34h0.7v0.7h-0.7zM384.56 481.36h0.7v0.7h-0.7zM388.54 487.42h0.7v0.7h-0.7zM388.82 485.21h0.7v0.7h-0.7zM386.7 487.86h0.7v0.7h-0.7zM387.67 481.91h0.7v0.7h-0.7zM391.57 483.78h0.7v0.7h-0.7zM388.88 485.31h0.7v0.7h-0.7zM390.7 485.88h0.7v0.7h-0.7zM391.17 485.8h0.7v0.7h-0.7zM386.53 484.11h0.7v0.7h-0.7zM389.59 483.35h0.7v0.7h-0.7zM390.35 484.74h0.7v0.7h-0.7zM385.25 483.25h0.7v0.7h-0.7zM387.4 489.46h0.7v0.7h-0.7zM389.92 485.35h0.7v0.7h-0.7zM385.31 489.78h0.7v0.7h-0.7zM387.04 485.3h0.7v0.7h-0.7zM386.64 488.44h0.7v0.7h-0.7zM388.29 484.22h0.7v0.7h-0.7z" fill="#111" stroke="none" stroke-width="1"/>
<line x1="402.5" y1="467.2" x2="402.5" y2="512.3" stroke="#666" stroke-width="0.9"/>
<line x1="382" y1="490.5" x2="436.3" y2="490.5" stroke="#666" stroke-width="0.9"/>
<text x="381.4" y="517.9" font-size="4.6" text-anchor="middle" textLength="3.6" lengthAdjust="spacingAndGlyphs" fill="#777">10</text>
<text x="383.6" y="515.9" font-size="3.2" text-anchor="middle" fill="#777">0</text>
<text x="394.97" y="517.9" font-size="4.6" text-anchor="middle" textLength="3.6" lengthAdjust="spacingAndGlyphs" fill="#777">10</text>
<text x="397.18" y="515.9" font-size="3.2" text-anchor="middle" fill="#777">1</text>
<text x="408.55" y="517.9" font-size="4.6" text-anchor="middle" textLength="3.6" lengthAdjust="spacingAndGlyphs" fill="#777">10</text>
<text x="410.75" y="515.9" font-size="3.2" text-anchor="middle" fill="#777">2</text>
<text x="422.12" y="517.9" font-size="4.6" text-anchor="middle" textLength="3.6" lengthAdjust="spacingAndGlyphs" fill="#777">10</text>
<text x="424.33" y="515.9" font-size="3.2" text-anchor="middle" fill="#777">3</text>
<text x="435.7" y="517.9" font-size="4.6" text-anchor="middle" textLength="3.6" lengthAdjust="spacingAndGlyphs" fill="#777">10</text>
<text x="437.9" y="515.9" font-size="3.2" text-anchor="middle" fill="#777">4</text>
<text x="410.15" y="520.8" font-size="3" text-anchor="middle" fill="#999">FITC</text>
<line x1="380.7" y1="512.3" x2="382" y2="512.3" stroke="#666" stroke-width="0.6"/>
<line x1="380.7" y1="503.28" x2="382" y2="503.28" stroke="#666" stroke-width="0.6"/>
<line x1="380.7" y1="494.26" x2="382" y2="494.26" stroke="#666" stroke-width="0.6"/>
<line x1="380.7" y1="485.24" x2="382" y2="485.24" stroke="#666" stroke-width="0.6"/>
<line x1="380.7" y1="476.22" x2="382" y2="476.22" stroke="#666" stroke-width="0.6"/>
<line x1="380.7" y1="467.2" x2="382" y2="467.2" stroke="#666" stroke-width="0.6"/>
<text x="468.35" y="464.9" font-size="7.4" text-anchor="middle" textLength="28.5" lengthAdjust="spacingAndGlyphs" fill="#111">KHAA(+)</text>
<rect x="439.5" y="467.2" width="54.3" height="45.1" fill="#fff" stroke="#666" stroke-width="0.9"/>
<path d="M474.69 480.59h0.6v0.6h-0.6zM470.83 478.32h0.6v0.6h-0.6zM474.53 485.33h0.6v0.6h-0.6zM481.23 479.27h0.6v0.6h-0.6zM465.42 481.96h0.6v0.6h-0.6zM470.15 484.34h0.6v0.6h-0.6zM466.51 487.62h0.6v0.6h-0.6zM490.56 480.29h0.6v0.6h-0.6zM484.97 484.61h0.6v0.6h-0.6zM487.25 488.65h0.6v0.6h-0.6zM480.22 477.93h0.6v0.6h-0.6zM474.08 482.54h0.6v0.6h-0.6zM477.78 484.65h0.6v0.6h-0.6zM484.87 478.21h0.6v0.6h-0.6zM463.77 484.2h0.6v0.6h-0.6zM476.28 482.91h0.6v0.6h-0.6zM472.16 484.72h0.6v0.6h-0.6zM484.85 484.06h0.6v0.6h-0.6zM475.36 477.37h0.6v0.6h-0.6zM476.71 475.45h0.6v0.6h-0.6zM477.34 484.12h0.6v0.6h-0.6zM472.53 481.63h0.6v0.6h-0.6zM467.54 487.76h0.6v0.6h-0.6zM476.72 484.4h0.6v0.6h-0.6zM466.74 485.33h0.6v0.6h-0.6zM486.55 484.42h0.6v0.6h-0.6zM468.17 479.87h0.6v0.6h-0.6zM473.67 480.9h0.6v0.6h-0.6zM465.14 476.5h0.6v0.6h-0.6zM471.24 479.3h0.6v0.6h-0.6zM477.3 485.34h0.6v0.6h-0.6zM470.19 486.4h0.6v0.6h-0.6zM490.68 486.42h0.6v0.6h-0.6zM470.56 479.01h0.6v0.6h-0.6zM480.15 479.56h0.6v0.6h-0.6zM474.69 489.61h0.6v0.6h-0.6zM465 486.44h0.6v0.6h-0.6zM476.92 487.26h0.6v0.6h-0.6zM468.32 484.42h0.6v0.6h-0.6zM467.68 489.22h0.6v0.6h-0.6zM472.22 484.6h0.6v0.6h-0.6zM476.59 485.89h0.6v0.6h-0.6zM474.14 485.09h0.6v0.6h-0.6zM471.17 484.52h0.6v0.6h-0.6zM471.84 488.42h0.6v0.6h-0.6zM472.73 484.77h0.6v0.6h-0.6zM471.94 487.48h0.6v0.6h-0.6zM466.92 488.2h0.6v0.6h-0.6zM465.74 487.23h0.6v0.6h-0.6zM471.47 479.85h0.6v0.6h-0.6zM481.25 484.55h0.6v0.6h-0.6zM483.26 481.91h0.6v0.6h-0.6zM477.26 483.21h0.6v0.6h-0.6zM480.29 486.86h0.6v0.6h-0.6zM469.24 485.55h0.6v0.6h-0.6zM489.7 477.98h0.6v0.6h-0.6zM490.75 487.65h0.6v0.6h-0.6zM477.72 487.75h0.6v0.6h-0.6zM482.04 477.64h0.6v0.6h-0.6zM471.51 489.72h0.6v0.6h-0.6zM468.45 481.91h0.6v0.6h-0.6zM468.44 485.74h0.6v0.6h-0.6zM474.71 482.06h0.6v0.6h-0.6zM478.86 486.93h0.6v0.6h-0.6zM461.63 480.11h0.6v0.6h-0.6zM472.63 481.76h0.6v0.6h-0.6zM465.36 483.97h0.6v0.6h-0.6zM472.85 486.75h0.6v0.6h-0.6zM482.36 486.23h0.6v0.6h-0.6zM485.76 480.68h0.6v0.6h-0.6zM479.69 485.97h0.6v0.6h-0.6zM477.76 484.8h0.6v0.6h-0.6zM490.58 487.83h0.6v0.6h-0.6zM473.47 489.83h0.6v0.6h-0.6zM461.75 483.82h0.6v0.6h-0.6zM483.86 483.17h0.6v0.6h-0.6zM491.49 474.48h0.6v0.6h-0.6zM474.33 479.56h0.6v0.6h-0.6zM468.96 478.92h0.6v0.6h-0.6zM473.03 481.71h0.6v0.6h-0.6z" fill="#8a8a8a" stroke="none" stroke-width="1"/>
<path d="M478.73 478.8h0.6v0.6h-0.6zM468.51 484.72h0.6v0.6h-0.6zM468.2 483.48h0.6v0.6h-0.6zM476.33 478.59h0.6v0.6h-0.6zM482.91 483.74h0.6v0.6h-0.6zM491.49 488.48h0.6v0.6h-0.6zM485.74 475.77h0.6v0.6h-0.6zM481.78 479.77h0.6v0.6h-0.6zM490 478.93h0.6v0.6h-0.6zM472.33 471.65h0.6v0.6h-0.6zM475.75 480.41h0.6v0.6h-0.6zM470.84 473.02h0.6v0.6h-0.6zM476.17 472.42h0.6v0.6h-0.6zM466.7 478.88h0.6v0.6h-0.6zM472.05 479.85h0.6v0.6h-0.6z" fill="#aaa" stroke="none" stroke-width="1"/>
<path d="M442.63 496.38h0.6v0.6h-0.6zM448.14 498.36h0.6v0.6h-0.6zM446.59 502.98h0.6v0.6h-0.6zM444.02 506.46h0.6v0.6h-0.6zM450.17 497.6h0.6v0.6h-0.6zM448.81 503.04h0.6v0.6h-0.6zM443.52 501h0.6v0.6h-0.6zM452.75 496.12h0.6v0.6h-0.6zM443.28 491.23h0.6v0.6h-0.6zM449.63 492.73h0.6v0.6h-0.6zM459.75 500.88h0.6v0.6h-0.6zM441.05 495.8h0.6v0.6h-0.6zM455.05 501.53h0.6v0.6h-0.6zM442.47 503.64h0.6v0.6h-0.6zM445.15 510.63h0.6v0.6h-0.6zM444.77 501.04h0.6v0.6h-0.6zM450.29 494.87h0.6v0.6h-0.6zM446.74 504.37h0.6v0.6h-0.6zM449.96 497.14h0.6v0.6h-0.6zM449.7 507.87h0.6v0.6h-0.6zM452.11 500.32h0.6v0.6h-0.6zM448.17 494.61h0.6v0.6h-0.6zM451.12 493.9h0.6v0.6h-0.6zM449.72 491.27h0.6v0.6h-0.6zM451.92 493.18h0.6v0.6h-0.6zM447.36 500.92h0.6v0.6h-0.6z" fill="#999" stroke="none" stroke-width="1"/>
<path d="M476.54 492.44h0.6v0.6h-0.6zM466.47 507.94h0.6v0.6h-0.6zM478.89 507.73h0.6v0.6h-0.6zM466.07 500.53h0.6v0.6h-0.6zM475.7 493.53h0.6v0.6h-0.6zM469.48 508.83h0.6v0.6h-0.6zM483.42 501.07h0.6v0.6h-0.6zM479.97 507.68h0.6v0.6h-0.6zM490.4 502.68h0.6v0.6h-0.6zM463.03 507.89h0.6v0.6h-0.6zM466.49 496.01h0.6v0.6h-0.6zM465.65 501.13h0.6v0.6h-0.6z" fill="#aaa" stroke="none" stroke-width="1"/>
<path d="M470.29 496.36h0.6v0.6h-0.6zM473.67 499.5h0.6v0.6h-0.6zM476.02 493.16h0.6v0.6h-0.6zM472.52 507.47h0.6v0.6h-0.6zM481.01 498.83h0.6v0.6h-0.6zM471.31 502.38h0.6v0.6h-0.6zM477.45 506.91h0.6v0.6h-0.6zM481.61 497.53h0.6v0.6h-0.6zM484.7 495.62h0.6v0.6h-0.6zM484.99 502.24h0.6v0.6h-0.6zM464.04 498.07h0.6v0.6h-0.6zM480.53 502.58h0.6v0.6h-0.6zM479.22 498.93h0.6v0.6h-0.6zM475.26 497.62h0.6v0.6h-0.6zM478.03 493.96h0.6v0.6h-0.6zM483.07 497.46h0.6v0.6h-0.6zM482.13 496.6h0.6v0.6h-0.6zM481.25 499.6h0.6v0.6h-0.6zM485.05 501.19h0.6v0.6h-0.6zM485.37 498.21h0.6v0.6h-0.6zM477.56 497.76h0.6v0.6h-0.6zM468.09 498.41h0.6v0.6h-0.6zM486.6 502.65h0.6v0.6h-0.6zM471.28 500.42h0.6v0.6h-0.6zM483.94 492.56h0.6v0.6h-0.6zM480.76 500.56h0.6v0.6h-0.6zM483.92 500.21h0.6v0.6h-0.6zM488.06 504.99h0.6v0.6h-0.6zM478.69 493.59h0.6v0.6h-0.6zM488.81 498.82h0.6v0.6h-0.6zM482.11 501.27h0.6v0.6h-0.6zM485.54 503.8h0.6v0.6h-0.6zM466.77 492.33h0.6v0.6h-0.6zM479.12 499.04h0.6v0.6h-0.6zM484.15 498.36h0.6v0.6h-0.6zM476.57 508.6h0.6v0.6h-0.6zM488.86 504.49h0.6v0.6h-0.6zM486.19 495.27h0.6v0.6h-0.6zM477.32 498.67h0.6v0.6h-0.6zM469.35 494.89h0.6v0.6h-0.6zM479.27 493.26h0.6v0.6h-0.6zM482.28 501.24h0.6v0.6h-0.6zM476.14 497.4h0.6v0.6h-0.6zM482.76 501.27h0.6v0.6h-0.6zM480.89 493.22h0.6v0.6h-0.6zM465.17 508.68h0.6v0.6h-0.6zM472.84 497.27h0.6v0.6h-0.6zM463.58 495.23h0.6v0.6h-0.6zM472.21 502.77h0.6v0.6h-0.6zM474.74 496.68h0.6v0.6h-0.6zM471.87 496.92h0.6v0.6h-0.6zM465.54 500.26h0.6v0.6h-0.6zM487.45 499.72h0.6v0.6h-0.6zM473.76 504.97h0.6v0.6h-0.6zM481.86 494.14h0.6v0.6h-0.6zM473.47 496.12h0.6v0.6h-0.6zM477.64 504.73h0.6v0.6h-0.6zM472.43 498.31h0.6v0.6h-0.6zM478.89 493.38h0.6v0.6h-0.6zM474.23 501.89h0.6v0.6h-0.6zM483.59 497.63h0.6v0.6h-0.6zM488.19 501.93h0.6v0.6h-0.6zM474.87 495.07h0.6v0.6h-0.6zM466.69 501.62h0.6v0.6h-0.6zM482.08 502.87h0.6v0.6h-0.6zM480.77 491.94h0.6v0.6h-0.6zM474.79 497.86h0.6v0.6h-0.6zM479.26 502.62h0.6v0.6h-0.6zM489.21 500.35h0.6v0.6h-0.6zM461.69 494.19h0.6v0.6h-0.6zM461.13 495.4h0.6v0.6h-0.6zM468.53 500.13h0.6v0.6h-0.6zM476.25 504.26h0.6v0.6h-0.6zM486.53 496.85h0.6v0.6h-0.6zM485.47 499.06h0.6v0.6h-0.6zM481.6 505.35h0.6v0.6h-0.6zM468.92 498.68h0.6v0.6h-0.6zM490.17 495.4h0.6v0.6h-0.6zM479.7 499.62h0.6v0.6h-0.6zM474.72 492.84h0.6v0.6h-0.6zM472.58 494.37h0.6v0.6h-0.6zM486.55 500.17h0.6v0.6h-0.6zM483.55 493.4h0.6v0.6h-0.6zM481.97 499.68h0.6v0.6h-0.6zM486.29 495.61h0.6v0.6h-0.6zM484.41 505.46h0.6v0.6h-0.6zM492.26 494.62h0.6v0.6h-0.6zM469.13 492.11h0.6v0.6h-0.6zM485.61 501.8h0.6v0.6h-0.6zM480.7 494.92h0.6v0.6h-0.6zM487.91 506.56h0.6v0.6h-0.6zM477.72 498.44h0.6v0.6h-0.6zM487.41 501.38h0.6v0.6h-0.6zM488.63 497.1h0.6v0.6h-0.6zM480.69 497.41h0.6v0.6h-0.6zM473.5 497.6h0.6v0.6h-0.6zM475.76 501.38h0.6v0.6h-0.6zM475.6 499.33h0.6v0.6h-0.6zM471.61 493.24h0.6v0.6h-0.6zM489.3 494.38h0.6v0.6h-0.6zM492.34 503.42h0.6v0.6h-0.6zM474.71 499.1h0.6v0.6h-0.6zM476.6 496.16h0.6v0.6h-0.6zM487.91 498.4h0.6v0.6h-0.6zM485.62 495.78h0.6v0.6h-0.6zM472.55 505.27h0.6v0.6h-0.6zM475.78 493.84h0.6v0.6h-0.6zM476.66 503.95h0.6v0.6h-0.6zM476.73 495.63h0.6v0.6h-0.6zM483.04 503.62h0.6v0.6h-0.6zM476.38 497.51h0.6v0.6h-0.6zM476.52 507.2h0.6v0.6h-0.6zM476.84 500.91h0.6v0.6h-0.6zM461.91 499.84h0.6v0.6h-0.6zM478.43 497.52h0.6v0.6h-0.6zM474.78 492.6h0.6v0.6h-0.6zM466.25 499.79h0.6v0.6h-0.6zM472.96 498.58h0.6v0.6h-0.6zM476.59 496.62h0.6v0.6h-0.6zM472.26 507.72h0.6v0.6h-0.6zM469.29 496.61h0.6v0.6h-0.6zM475.68 493.59h0.6v0.6h-0.6zM470.43 503.05h0.6v0.6h-0.6zM485.37 499.62h0.6v0.6h-0.6zM487.75 495.18h0.6v0.6h-0.6zM486.57 506.91h0.6v0.6h-0.6zM475.03 507.49h0.6v0.6h-0.6zM471.65 493.68h0.6v0.6h-0.6zM477.66 495.22h0.6v0.6h-0.6zM483.05 493.82h0.6v0.6h-0.6zM477.77 503.93h0.6v0.6h-0.6zM475.93 500.47h0.6v0.6h-0.6zM486.64 493.86h0.6v0.6h-0.6zM467.98 499.38h0.6v0.6h-0.6zM480.22 497.75h0.6v0.6h-0.6zM470.36 504.69h0.6v0.6h-0.6zM468.84 497.78h0.6v0.6h-0.6zM477.69 502.4h0.6v0.6h-0.6zM474.49 495.16h0.6v0.6h-0.6zM484.33 498.28h0.6v0.6h-0.6zM474.26 498.8h0.6v0.6h-0.6zM476 500.46h0.6v0.6h-0.6zM478.59 494.45h0.6v0.6h-0.6zM474.96 509.96h0.6v0.6h-0.6zM492.61 502.01h0.6v0.6h-0.6zM479.87 497.57h0.6v0.6h-0.6zM488.99 496.91h0.6v0.6h-0.6zM471.55 502.25h0.6v0.6h-0.6zM470.4 495.3h0.6v0.6h-0.6zM489.46 491.47h0.6v0.6h-0.6zM477.51 499.56h0.6v0.6h-0.6zM480.07 492.18h0.6v0.6h-0.6zM476.23 497.44h0.6v0.6h-0.6zM472.06 503.1h0.6v0.6h-0.6zM483.2 498.47h0.6v0.6h-0.6zM476.12 497.72h0.6v0.6h-0.6zM465.85 496.05h0.6v0.6h-0.6zM485.42 505.77h0.6v0.6h-0.6zM492.67 497.24h0.6v0.6h-0.6zM475.91 493.09h0.6v0.6h-0.6zM484.53 491.24h0.6v0.6h-0.6zM469.81 493.83h0.6v0.6h-0.6zM481.16 502.93h0.6v0.6h-0.6zM470.78 507.45h0.6v0.6h-0.6zM479.3 495.1h0.6v0.6h-0.6zM480.79 498.94h0.6v0.6h-0.6zM484.6 500.62h0.6v0.6h-0.6zM473 502.69h0.6v0.6h-0.6zM484.05 494.32h0.6v0.6h-0.6zM472.12 495.22h0.6v0.6h-0.6zM476.33 504.77h0.6v0.6h-0.6zM473.63 499.36h0.6v0.6h-0.6zM483.77 503.54h0.6v0.6h-0.6zM480.56 494.13h0.6v0.6h-0.6zM488.79 506.58h0.6v0.6h-0.6zM489.12 500.95h0.6v0.6h-0.6zM481.78 501.96h0.6v0.6h-0.6zM466.17 502.81h0.6v0.6h-0.6zM470.35 500.98h0.6v0.6h-0.6zM470.07 502.35h0.6v0.6h-0.6zM474.2 510.65h0.6v0.6h-0.6zM479.56 501.38h0.6v0.6h-0.6zM470.9 497.66h0.6v0.6h-0.6zM477.59 497.66h0.6v0.6h-0.6zM474.61 494.91h0.6v0.6h-0.6zM484.06 497.21h0.6v0.6h-0.6zM471.62 500.72h0.6v0.6h-0.6zM471.65 498.19h0.6v0.6h-0.6zM474.01 494.67h0.6v0.6h-0.6zM476.27 495.15h0.6v0.6h-0.6zM468.17 500.65h0.6v0.6h-0.6zM475.71 492.16h0.6v0.6h-0.6zM474.94 499.88h0.6v0.6h-0.6zM481.43 500.75h0.6v0.6h-0.6zM480.06 501.8h0.6v0.6h-0.6zM474.16 495.27h0.6v0.6h-0.6zM482.89 497.09h0.6v0.6h-0.6zM478.14 502.05h0.6v0.6h-0.6zM485.46 504.73h0.6v0.6h-0.6zM472.64 497.27h0.6v0.6h-0.6zM482.44 492.31h0.6v0.6h-0.6zM468.14 501.85h0.6v0.6h-0.6zM473.22 494.69h0.6v0.6h-0.6zM484.39 501.49h0.6v0.6h-0.6zM485.3 497.46h0.6v0.6h-0.6zM475.79 497.42h0.6v0.6h-0.6zM472.61 502.31h0.6v0.6h-0.6zM471.92 498.7h0.6v0.6h-0.6zM479.05 501.44h0.6v0.6h-0.6zM474.32 493.71h0.6v0.6h-0.6zM478.94 498.09h0.6v0.6h-0.6zM492.99 508.53h0.6v0.6h-0.6zM485.76 494.27h0.6v0.6h-0.6zM471.74 495.49h0.6v0.6h-0.6zM474 500.23h0.6v0.6h-0.6zM471.88 497.86h0.6v0.6h-0.6zM489.66 505.73h0.6v0.6h-0.6zM463.42 494.56h0.6v0.6h-0.6zM475.14 505.06h0.6v0.6h-0.6zM475.47 507.92h0.6v0.6h-0.6zM480.94 505.7h0.6v0.6h-0.6zM471.32 497.56h0.6v0.6h-0.6zM486.1 501.67h0.6v0.6h-0.6zM463.38 497.72h0.6v0.6h-0.6zM479.49 501.94h0.6v0.6h-0.6zM473.08 507.13h0.6v0.6h-0.6zM479.27 505.76h0.6v0.6h-0.6zM481.25 499.4h0.6v0.6h-0.6zM475.57 493.57h0.6v0.6h-0.6zM484.88 502.53h0.6v0.6h-0.6zM485.42 497.25h0.6v0.6h-0.6zM470.18 497.24h0.6v0.6h-0.6zM475.62 498.95h0.6v0.6h-0.6zM485.81 494.76h0.6v0.6h-0.6zM474.25 502.22h0.6v0.6h-0.6zM485.18 509.32h0.6v0.6h-0.6zM482.22 495.06h0.6v0.6h-0.6zM469.91 495.33h0.6v0.6h-0.6zM478.64 500.19h0.6v0.6h-0.6zM477.56 496.15h0.6v0.6h-0.6zM476.64 498.65h0.6v0.6h-0.6zM482.75 499.39h0.6v0.6h-0.6zM471.73 493.56h0.6v0.6h-0.6zM489.73 498.61h0.6v0.6h-0.6zM476.71 498.89h0.6v0.6h-0.6zM486.95 497.55h0.6v0.6h-0.6zM479.47 497.91h0.6v0.6h-0.6zM482.64 494.31h0.6v0.6h-0.6zM479.69 503.79h0.6v0.6h-0.6zM487.4 501.88h0.6v0.6h-0.6zM480.4 506.32h0.6v0.6h-0.6zM483.65 505.52h0.6v0.6h-0.6zM468.67 493.9h0.6v0.6h-0.6zM484.37 497.77h0.6v0.6h-0.6zM474.71 494.59h0.6v0.6h-0.6zM489.75 493.46h0.6v0.6h-0.6zM478.93 492.53h0.6v0.6h-0.6zM476.73 509.46h0.6v0.6h-0.6zM470.18 506.58h0.6v0.6h-0.6zM480.83 494h0.6v0.6h-0.6zM466.73 504.23h0.6v0.6h-0.6zM472.38 494.06h0.6v0.6h-0.6zM479.43 498.13h0.6v0.6h-0.6zM486.91 499.45h0.6v0.6h-0.6zM490.59 504.3h0.6v0.6h-0.6zM492.07 504.22h0.6v0.6h-0.6zM478.67 501.54h0.6v0.6h-0.6zM478.28 491.78h0.6v0.6h-0.6zM468.89 502.45h0.6v0.6h-0.6zM468.05 498.72h0.6v0.6h-0.6zM469.99 500.17h0.6v0.6h-0.6zM476.57 496.83h0.6v0.6h-0.6zM478.7 493.01h0.6v0.6h-0.6zM475.81 500.73h0.6v0.6h-0.6zM486.33 502.28h0.6v0.6h-0.6zM489.7 492.42h0.6v0.6h-0.6zM483.41 506.29h0.6v0.6h-0.6zM481.22 493.86h0.6v0.6h-0.6zM481.24 496.6h0.6v0.6h-0.6zM473.08 503.95h0.6v0.6h-0.6zM476.73 493.82h0.6v0.6h-0.6zM472.83 508.13h0.6v0.6h-0.6zM471.51 502.15h0.6v0.6h-0.6zM479.52 504.44h0.6v0.6h-0.6zM475.94 494.62h0.6v0.6h-0.6zM473.11 494.23h0.6v0.6h-0.6zM475.62 504.86h0.6v0.6h-0.6zM483.26 498.17h0.6v0.6h-0.6zM482.99 500.27h0.6v0.6h-0.6zM486.94 506.68h0.6v0.6h-0.6zM475.67 498.85h0.6v0.6h-0.6zM476.7 504.69h0.6v0.6h-0.6zM481.13 502.65h0.6v0.6h-0.6zM485.16 496.06h0.6v0.6h-0.6zM479.14 505.44h0.6v0.6h-0.6zM485.36 502.78h0.6v0.6h-0.6zM475.94 497.34h0.6v0.6h-0.6zM471.43 497.76h0.6v0.6h-0.6zM477.63 492.36h0.6v0.6h-0.6zM487.21 495.47h0.6v0.6h-0.6zM480.09 501.81h0.6v0.6h-0.6zM485.68 500.91h0.6v0.6h-0.6zM476.16 504.27h0.6v0.6h-0.6zM485.13 494.58h0.6v0.6h-0.6zM476.08 505.57h0.6v0.6h-0.6zM471.58 502.85h0.6v0.6h-0.6zM466.35 497.64h0.6v0.6h-0.6zM485.49 506.99h0.6v0.6h-0.6zM481.68 502.53h0.6v0.6h-0.6zM464.8 507.79h0.6v0.6h-0.6zM478.65 500.22h0.6v0.6h-0.6zM478.36 496.16h0.6v0.6h-0.6zM478.01 498.43h0.6v0.6h-0.6zM483.36 502.17h0.6v0.6h-0.6zM485.79 501.74h0.6v0.6h-0.6zM470.56 505.47h0.6v0.6h-0.6zM480.72 496.55h0.6v0.6h-0.6zM492.74 493.94h0.6v0.6h-0.6zM469.02 496.67h0.6v0.6h-0.6zM481.39 502.7h0.6v0.6h-0.6zM478.99 502.12h0.6v0.6h-0.6zM472.66 496.21h0.6v0.6h-0.6zM479.16 492.77h0.6v0.6h-0.6zM479.6 497.18h0.6v0.6h-0.6zM483.46 494.32h0.6v0.6h-0.6zM474.02 496.39h0.6v0.6h-0.6zM475.28 494.38h0.6v0.6h-0.6zM476.11 492.74h0.6v0.6h-0.6zM482.31 502.13h0.6v0.6h-0.6zM478.02 498.14h0.6v0.6h-0.6zM471.21 494.56h0.6v0.6h-0.6zM476.43 494.82h0.6v0.6h-0.6zM468.99 499.79h0.6v0.6h-0.6zM477.98 497.13h0.6v0.6h-0.6zM471.81 498.76h0.6v0.6h-0.6zM472.75 497.02h0.6v0.6h-0.6zM479.58 502.35h0.6v0.6h-0.6zM484 496.2h0.6v0.6h-0.6zM487.52 493.65h0.6v0.6h-0.6zM476.8 505.06h0.6v0.6h-0.6zM475.34 497.28h0.6v0.6h-0.6zM468.71 498.33h0.6v0.6h-0.6zM474.84 495.51h0.6v0.6h-0.6zM487.42 495.4h0.6v0.6h-0.6zM491.27 502.91h0.6v0.6h-0.6zM483.1 496.29h0.6v0.6h-0.6zM480.25 497.76h0.6v0.6h-0.6zM481.14 495.9h0.6v0.6h-0.6zM481.9 492.07h0.6v0.6h-0.6zM461.16 501.21h0.6v0.6h-0.6zM488.09 497.39h0.6v0.6h-0.6zM476.87 491.88h0.6v0.6h-0.6zM470.38 502.31h0.6v0.6h-0.6zM472.43 498.84h0.6v0.6h-0.6zM476.93 508.24h0.6v0.6h-0.6zM485.02 492.89h0.6v0.6h-0.6zM474.4 493.69h0.6v0.6h-0.6zM467.38 495.85h0.6v0.6h-0.6zM486.65 499.24h0.6v0.6h-0.6zM483.33 498.38h0.6v0.6h-0.6zM474.85 499.39h0.6v0.6h-0.6zM477.53 507.94h0.6v0.6h-0.6zM492.02 500.76h0.6v0.6h-0.6zM477.17 510.1h0.6v0.6h-0.6zM471.94 502.79h0.6v0.6h-0.6zM487.56 497.17h0.6v0.6h-0.6zM476.37 496.89h0.6v0.6h-0.6zM484.27 499.11h0.6v0.6h-0.6zM489.74 504.52h0.6v0.6h-0.6zM478.04 511.07h0.6v0.6h-0.6zM475.73 496.18h0.6v0.6h-0.6zM476.29 494.93h0.6v0.6h-0.6zM474.87 498.68h0.6v0.6h-0.6zM485 491.67h0.6v0.6h-0.6zM467.29 495.42h0.6v0.6h-0.6zM475.76 501.12h0.6v0.6h-0.6zM472.03 506.02h0.6v0.6h-0.6zM474.03 498h0.6v0.6h-0.6zM478.53 504.44h0.6v0.6h-0.6zM480.41 499.13h0.6v0.6h-0.6zM473.92 499.8h0.6v0.6h-0.6zM481.22 497.38h0.6v0.6h-0.6zM474 504.5h0.6v0.6h-0.6zM489.07 498.67h0.6v0.6h-0.6zM461.43 507.53h0.6v0.6h-0.6zM476.79 510.95h0.6v0.6h-0.6zM474.92 503.67h0.6v0.6h-0.6zM473.34 505.39h0.6v0.6h-0.6zM487.04 494.06h0.6v0.6h-0.6zM476.38 493.38h0.6v0.6h-0.6zM480.23 497.15h0.6v0.6h-0.6zM466.54 494.13h0.6v0.6h-0.6zM479.99 491.92h0.6v0.6h-0.6zM486.43 501.1h0.6v0.6h-0.6zM476.71 505.52h0.6v0.6h-0.6zM470.96 502.2h0.6v0.6h-0.6zM467.64 497.49h0.6v0.6h-0.6zM483.03 496.51h0.6v0.6h-0.6zM477.21 502.03h0.6v0.6h-0.6zM489.84 505.07h0.6v0.6h-0.6zM481.63 497.79h0.6v0.6h-0.6zM466.93 507h0.6v0.6h-0.6zM484.8 498.81h0.6v0.6h-0.6zM483.54 500.48h0.6v0.6h-0.6zM476.6 498.99h0.6v0.6h-0.6zM477.79 504.43h0.6v0.6h-0.6zM476.07 496.47h0.6v0.6h-0.6zM483.12 502h0.6v0.6h-0.6zM481.44 500.32h0.6v0.6h-0.6zM489.44 504.2h0.6v0.6h-0.6zM479.71 498.02h0.6v0.6h-0.6zM474.06 495.71h0.6v0.6h-0.6zM479.4 497.21h0.6v0.6h-0.6zM481.19 509.49h0.6v0.6h-0.6zM478.06 497.51h0.6v0.6h-0.6zM487.56 502.87h0.6v0.6h-0.6zM485.2 504.64h0.6v0.6h-0.6zM475.28 495.92h0.6v0.6h-0.6zM472.54 499.49h0.6v0.6h-0.6zM485.8 494.1h0.6v0.6h-0.6zM473.96 492.76h0.6v0.6h-0.6zM479.76 493.32h0.6v0.6h-0.6zM470.15 495.99h0.6v0.6h-0.6zM478.34 493.08h0.6v0.6h-0.6zM476.33 504.7h0.6v0.6h-0.6zM478.18 499.46h0.6v0.6h-0.6zM461.96 497.73h0.6v0.6h-0.6zM476.95 495.77h0.6v0.6h-0.6zM467.43 498.67h0.6v0.6h-0.6zM470.2 496.45h0.6v0.6h-0.6zM465.81 498.57h0.6v0.6h-0.6zM485.07 495.07h0.6v0.6h-0.6zM480.57 491.92h0.6v0.6h-0.6zM482.53 501.54h0.6v0.6h-0.6zM475.09 503.13h0.6v0.6h-0.6zM471.33 499.22h0.6v0.6h-0.6zM491.02 498.89h0.6v0.6h-0.6zM469.44 504.39h0.6v0.6h-0.6zM482.2 497.71h0.6v0.6h-0.6zM466.38 505.94h0.6v0.6h-0.6zM480.33 495.02h0.6v0.6h-0.6zM486.93 505.85h0.6v0.6h-0.6zM471.59 501.26h0.6v0.6h-0.6zM465.42 500.75h0.6v0.6h-0.6zM492.03 492.4h0.6v0.6h-0.6zM478.51 496.03h0.6v0.6h-0.6zM477.36 499.41h0.6v0.6h-0.6zM480.23 503.17h0.6v0.6h-0.6zM482.02 503.9h0.6v0.6h-0.6zM485.87 504.15h0.6v0.6h-0.6zM472.89 500.92h0.6v0.6h-0.6zM475.2 495.06h0.6v0.6h-0.6zM476.3 502.62h0.6v0.6h-0.6zM476.51 496.45h0.6v0.6h-0.6zM489.39 497.54h0.6v0.6h-0.6zM475.52 498.53h0.6v0.6h-0.6zM476.26 503.93h0.6v0.6h-0.6zM482.44 498.67h0.6v0.6h-0.6zM475.3 497.95h0.6v0.6h-0.6zM491.05 497.57h0.6v0.6h-0.6zM483.09 491.62h0.6v0.6h-0.6zM480.54 502.22h0.6v0.6h-0.6zM487.82 500.48h0.6v0.6h-0.6zM482.51 500.51h0.6v0.6h-0.6zM486.26 508.59h0.6v0.6h-0.6zM479.62 495.18h0.6v0.6h-0.6zM482.64 498.48h0.6v0.6h-0.6zM482.98 502.63h0.6v0.6h-0.6zM479.25 496.94h0.6v0.6h-0.6zM480.42 493.16h0.6v0.6h-0.6zM480.17 494.85h0.6v0.6h-0.6zM481.52 499.57h0.6v0.6h-0.6zM476.41 493.37h0.6v0.6h-0.6zM478.46 495.82h0.6v0.6h-0.6zM476.99 502.25h0.6v0.6h-0.6zM485.38 492.97h0.6v0.6h-0.6zM485.24 505.38h0.6v0.6h-0.6zM486.7 500.3h0.6v0.6h-0.6zM477.39 507.16h0.6v0.6h-0.6zM475.63 491.86h0.6v0.6h-0.6zM478.77 500.34h0.6v0.6h-0.6zM470.15 493.3h0.6v0.6h-0.6zM484.05 496.27h0.6v0.6h-0.6zM466.47 498.17h0.6v0.6h-0.6zM488.35 495.87h0.6v0.6h-0.6zM464.37 498.19h0.6v0.6h-0.6zM475.94 499.08h0.6v0.6h-0.6zM470.09 497.55h0.6v0.6h-0.6zM473.92 503.13h0.6v0.6h-0.6zM479.25 503.08h0.6v0.6h-0.6zM463.11 501.51h0.6v0.6h-0.6zM484.79 503.1h0.6v0.6h-0.6zM474.32 500.89h0.6v0.6h-0.6zM488.64 497.39h0.6v0.6h-0.6zM473.79 495.37h0.6v0.6h-0.6zM485.88 503.07h0.6v0.6h-0.6zM464.11 504.69h0.6v0.6h-0.6zM471.04 492.11h0.6v0.6h-0.6zM465.89 495.6h0.6v0.6h-0.6zM468.57 495.85h0.6v0.6h-0.6zM479.29 500.95h0.6v0.6h-0.6zM474.43 491.58h0.6v0.6h-0.6zM474.93 495.81h0.6v0.6h-0.6zM464.37 499.68h0.6v0.6h-0.6zM489.7 503.41h0.6v0.6h-0.6zM489.17 499.56h0.6v0.6h-0.6zM474.93 498.6h0.6v0.6h-0.6zM467.63 502.48h0.6v0.6h-0.6zM480.16 497.58h0.6v0.6h-0.6zM463.78 498.48h0.6v0.6h-0.6zM490.55 505.79h0.6v0.6h-0.6zM484.79 497.35h0.6v0.6h-0.6zM479.15 501.6h0.6v0.6h-0.6zM479.58 503.91h0.6v0.6h-0.6zM467.5 502.12h0.6v0.6h-0.6zM486.33 499h0.6v0.6h-0.6zM482.22 499.36h0.6v0.6h-0.6zM479.42 496.79h0.6v0.6h-0.6zM475 504.58h0.6v0.6h-0.6zM476.04 498.81h0.6v0.6h-0.6zM487.24 503.61h0.6v0.6h-0.6zM475.09 500.19h0.6v0.6h-0.6zM470.35 499.62h0.6v0.6h-0.6zM480.51 499h0.6v0.6h-0.6zM479.34 500.71h0.6v0.6h-0.6zM478.67 496.7h0.6v0.6h-0.6zM470.7 497.89h0.6v0.6h-0.6zM490.41 497.93h0.6v0.6h-0.6zM473.11 496.75h0.6v0.6h-0.6zM468.98 501.28h0.6v0.6h-0.6zM470.55 503.27h0.6v0.6h-0.6zM485.06 501.69h0.6v0.6h-0.6zM486.05 498.6h0.6v0.6h-0.6zM464.62 498.7h0.6v0.6h-0.6zM482.99 491.75h0.6v0.6h-0.6zM468.73 504.14h0.6v0.6h-0.6zM481.45 505.32h0.6v0.6h-0.6zM483.21 499.31h0.6v0.6h-0.6zM481.38 502.99h0.6v0.6h-0.6zM477.88 498.02h0.6v0.6h-0.6zM480.5 497.52h0.6v0.6h-0.6zM466.47 492.94h0.6v0.6h-0.6zM486.13 497.1h0.6v0.6h-0.6zM479.31 497.99h0.6v0.6h-0.6zM480.23 492.19h0.6v0.6h-0.6zM478.75 496.31h0.6v0.6h-0.6zM486.43 501.92h0.6v0.6h-0.6zM468.43 494.46h0.6v0.6h-0.6zM482.46 504.61h0.6v0.6h-0.6zM483.99 498.29h0.6v0.6h-0.6zM473.98 494.43h0.6v0.6h-0.6zM470.18 501.65h0.6v0.6h-0.6zM480.23 500.33h0.6v0.6h-0.6zM477.08 501.91h0.6v0.6h-0.6zM484.12 496.31h0.6v0.6h-0.6zM485.3 494.64h0.6v0.6h-0.6zM491.66 492.88h0.6v0.6h-0.6zM475.9 493.92h0.6v0.6h-0.6zM478.41 505.18h0.6v0.6h-0.6zM472.32 507.34h0.6v0.6h-0.6zM488.98 500.81h0.6v0.6h-0.6zM473.57 503.25h0.6v0.6h-0.6zM485.52 498.82h0.6v0.6h-0.6zM467.84 497.99h0.6v0.6h-0.6zM482.57 507.01h0.6v0.6h-0.6zM464.5 499.74h0.6v0.6h-0.6zM487.86 495.84h0.6v0.6h-0.6zM474.58 493.3h0.6v0.6h-0.6zM484.03 502.9h0.6v0.6h-0.6zM482.67 500.16h0.6v0.6h-0.6zM485.77 498.43h0.6v0.6h-0.6zM483.65 502.85h0.6v0.6h-0.6zM488.17 501.42h0.6v0.6h-0.6zM478.76 502.33h0.6v0.6h-0.6zM490.63 499.65h0.6v0.6h-0.6zM469.96 496.27h0.6v0.6h-0.6zM476.95 499.34h0.6v0.6h-0.6zM472.19 503.69h0.6v0.6h-0.6zM469.7 506.83h0.6v0.6h-0.6zM483.29 491.07h0.6v0.6h-0.6zM468.6 499.29h0.6v0.6h-0.6zM480.22 497h0.6v0.6h-0.6zM478.2 499.77h0.6v0.6h-0.6zM469.22 499.29h0.6v0.6h-0.6zM470.22 502.13h0.6v0.6h-0.6zM488.57 503.92h0.6v0.6h-0.6zM473.19 498.65h0.6v0.6h-0.6zM479.69 498.01h0.6v0.6h-0.6zM481.22 504.11h0.6v0.6h-0.6zM482.37 498.95h0.6v0.6h-0.6zM476.53 507.45h0.6v0.6h-0.6z" fill="#555" stroke="none" stroke-width="1"/>
<path d="M447.67 493.11h0.6v0.6h-0.6zM457.26 487.08h0.6v0.6h-0.6zM450.04 492.58h0.6v0.6h-0.6zM459.59 489.67h0.6v0.6h-0.6zM463.84 481.15h0.6v0.6h-0.6zM454.16 485.83h0.6v0.6h-0.6zM450.11 487.04h0.6v0.6h-0.6zM456.29 488.46h0.6v0.6h-0.6zM452.99 482.63h0.6v0.6h-0.6zM456.4 488.72h0.6v0.6h-0.6zM464.05 489.74h0.6v0.6h-0.6zM453.75 483.18h0.6v0.6h-0.6zM467.01 484.67h0.6v0.6h-0.6zM454.63 489.16h0.6v0.6h-0.6zM456.13 491h0.6v0.6h-0.6zM448.6 484.63h0.6v0.6h-0.6zM454.52 482.91h0.6v0.6h-0.6zM450.66 491.17h0.6v0.6h-0.6zM455.12 486.48h0.6v0.6h-0.6zM450.87 486.95h0.6v0.6h-0.6zM453.5 483.4h0.6v0.6h-0.6zM457.54 482.76h0.6v0.6h-0.6zM459.97 485.73h0.6v0.6h-0.6zM442.44 481.9h0.6v0.6h-0.6zM455.09 484.05h0.6v0.6h-0.6zM462.58 491.17h0.6v0.6h-0.6zM464.04 489.63h0.6v0.6h-0.6zM460.32 484.89h0.6v0.6h-0.6zM460.09 485.42h0.6v0.6h-0.6zM453.42 482.49h0.6v0.6h-0.6zM453.95 488.08h0.6v0.6h-0.6zM453.36 483.3h0.6v0.6h-0.6zM458.13 489.69h0.6v0.6h-0.6zM453.23 489.29h0.6v0.6h-0.6zM458.54 483.68h0.6v0.6h-0.6zM453.49 480.9h0.6v0.6h-0.6zM448.55 488.16h0.6v0.6h-0.6zM449.32 488.05h0.6v0.6h-0.6zM455.46 480.26h0.6v0.6h-0.6zM451.26 491.62h0.6v0.6h-0.6zM453.74 487.19h0.6v0.6h-0.6zM450.17 481.71h0.6v0.6h-0.6zM445.78 495.93h0.6v0.6h-0.6zM452.75 484.04h0.6v0.6h-0.6zM454.22 480.65h0.6v0.6h-0.6zM460.61 492.24h0.6v0.6h-0.6zM449.93 487.83h0.6v0.6h-0.6zM449.19 489.53h0.6v0.6h-0.6zM449.49 486.35h0.6v0.6h-0.6zM460.16 488.47h0.6v0.6h-0.6zM452.04 481.97h0.6v0.6h-0.6zM445.74 490.63h0.6v0.6h-0.6zM456.22 486.98h0.6v0.6h-0.6zM459.92 487.27h0.6v0.6h-0.6zM450.04 486.47h0.6v0.6h-0.6zM453.18 486.76h0.6v0.6h-0.6zM466.08 488.65h0.6v0.6h-0.6zM455.03 486h0.6v0.6h-0.6zM450.28 483.64h0.6v0.6h-0.6zM444.3 485.33h0.6v0.6h-0.6zM446.09 480.9h0.6v0.6h-0.6zM448.98 480.34h0.6v0.6h-0.6zM460.52 490.77h0.6v0.6h-0.6zM448.83 493.33h0.6v0.6h-0.6zM456.96 478.75h0.6v0.6h-0.6zM453.77 483.62h0.6v0.6h-0.6zM444.96 485.97h0.6v0.6h-0.6zM459.42 488.22h0.6v0.6h-0.6zM446.36 484.69h0.6v0.6h-0.6zM449.87 490.46h0.6v0.6h-0.6zM453.17 483.67h0.6v0.6h-0.6zM449.1 480.51h0.6v0.6h-0.6zM449.43 489.66h0.6v0.6h-0.6zM444.1 487.42h0.6v0.6h-0.6zM453.09 489.41h0.6v0.6h-0.6zM447.93 489.71h0.6v0.6h-0.6zM461.43 494.12h0.6v0.6h-0.6zM445.5 486.7h0.6v0.6h-0.6zM452.6 487.19h0.6v0.6h-0.6zM448.7 489.54h0.6v0.6h-0.6zM465.39 491.61h0.6v0.6h-0.6zM448.87 484.95h0.6v0.6h-0.6zM457.3 487.23h0.6v0.6h-0.6zM449.83 490.75h0.6v0.6h-0.6zM456.24 490.08h0.6v0.6h-0.6zM452.76 490.89h0.6v0.6h-0.6zM451.31 483.22h0.6v0.6h-0.6zM453.61 482.33h0.6v0.6h-0.6zM459.93 489.15h0.6v0.6h-0.6zM445.21 487.35h0.6v0.6h-0.6z" fill="#666" stroke="none" stroke-width="1"/>
<ellipse cx="450.6" cy="486.3" rx="4.6" ry="3.9" fill="#000" filter="url(#bl)"/>
<path d="M453.01 485.44h0.7v0.7h-0.7zM451.79 484.9h0.7v0.7h-0.7zM450.43 486.1h0.7v0.7h-0.7zM451.98 483.97h0.7v0.7h-0.7zM447.45 487.09h0.7v0.7h-0.7zM449.19 487.55h0.7v0.7h-0.7zM449.2 483.15h0.7v0.7h-0.7zM452.69 486.94h0.7v0.7h-0.7zM452.68 485.49h0.7v0.7h-0.7zM449.61 489.34h0.7v0.7h-0.7zM445.86 490.48h0.7v0.7h-0.7zM452.06 486.16h0.7v0.7h-0.7zM450.87 487.75h0.7v0.7h-0.7zM448.45 486.97h0.7v0.7h-0.7zM447.93 481.86h0.7v0.7h-0.7zM451.18 486.54h0.7v0.7h-0.7zM452.44 487.64h0.7v0.7h-0.7zM452.59 488.2h0.7v0.7h-0.7zM447.65 489.23h0.7v0.7h-0.7zM458.15 484.94h0.7v0.7h-0.7zM447.07 487.95h0.7v0.7h-0.7zM453.19 488.73h0.7v0.7h-0.7zM454.93 482.97h0.7v0.7h-0.7zM451.67 487.42h0.7v0.7h-0.7zM454.13 484.15h0.7v0.7h-0.7zM450.68 485.41h0.7v0.7h-0.7zM450.16 485.95h0.7v0.7h-0.7zM450.19 482.04h0.7v0.7h-0.7zM450.51 486.46h0.7v0.7h-0.7zM449.53 477.76h0.7v0.7h-0.7zM448.66 484.73h0.7v0.7h-0.7zM448.16 490.16h0.7v0.7h-0.7zM453.22 485.85h0.7v0.7h-0.7zM452.31 494.23h0.7v0.7h-0.7zM447.88 487.44h0.7v0.7h-0.7zM448.92 489.88h0.7v0.7h-0.7zM453.73 486h0.7v0.7h-0.7zM452.34 484.38h0.7v0.7h-0.7zM446.15 488.33h0.7v0.7h-0.7zM455.22 485.57h0.7v0.7h-0.7zM449.13 481.98h0.7v0.7h-0.7zM456.66 483.41h0.7v0.7h-0.7zM447.88 485.83h0.7v0.7h-0.7zM454.02 486.43h0.7v0.7h-0.7zM450.55 486.35h0.7v0.7h-0.7zM453 486.21h0.7v0.7h-0.7zM451.05 486.12h0.7v0.7h-0.7zM447.48 489.54h0.7v0.7h-0.7zM448.66 483.12h0.7v0.7h-0.7zM449.38 486.38h0.7v0.7h-0.7zM452.92 482.76h0.7v0.7h-0.7zM447.04 486.73h0.7v0.7h-0.7zM451.69 483.66h0.7v0.7h-0.7zM447.41 486.72h0.7v0.7h-0.7zM450.2 482.4h0.7v0.7h-0.7zM448.14 489.88h0.7v0.7h-0.7zM447.63 488.83h0.7v0.7h-0.7zM446.29 489.88h0.7v0.7h-0.7zM455.12 484.77h0.7v0.7h-0.7zM448.69 487.82h0.7v0.7h-0.7zM447.11 487.63h0.7v0.7h-0.7zM454.04 486.93h0.7v0.7h-0.7zM451.52 485.92h0.7v0.7h-0.7zM453.43 484.33h0.7v0.7h-0.7zM455.09 486.24h0.7v0.7h-0.7zM449.69 482.36h0.7v0.7h-0.7zM449.37 486.87h0.7v0.7h-0.7zM454.11 482.41h0.7v0.7h-0.7zM450.25 484.65h0.7v0.7h-0.7zM447.23 486.31h0.7v0.7h-0.7zM448.47 488.4h0.7v0.7h-0.7zM443.02 488.08h0.7v0.7h-0.7zM445.25 481.6h0.7v0.7h-0.7zM452.07 485.48h0.7v0.7h-0.7zM450.97 483.97h0.7v0.7h-0.7zM447.65 484.53h0.7v0.7h-0.7zM450.45 484.27h0.7v0.7h-0.7zM449.42 484.23h0.7v0.7h-0.7zM451.26 483.56h0.7v0.7h-0.7zM444.75 479.97h0.7v0.7h-0.7zM450.55 486.53h0.7v0.7h-0.7zM453.31 484.51h0.7v0.7h-0.7zM447.4 482.71h0.7v0.7h-0.7zM452.74 484.79h0.7v0.7h-0.7zM453.38 486.11h0.7v0.7h-0.7zM449.83 481.82h0.7v0.7h-0.7zM448.7 488.2h0.7v0.7h-0.7zM448.89 487.93h0.7v0.7h-0.7zM445.98 488.75h0.7v0.7h-0.7zM458.43 488.99h0.7v0.7h-0.7zM451.5 483.33h0.7v0.7h-0.7zM449.12 484.72h0.7v0.7h-0.7zM451.12 481.43h0.7v0.7h-0.7zM448.17 488.21h0.7v0.7h-0.7zM451.01 488.09h0.7v0.7h-0.7zM453 483.54h0.7v0.7h-0.7zM446.81 487.42h0.7v0.7h-0.7zM450.7 486.49h0.7v0.7h-0.7zM448.31 488.75h0.7v0.7h-0.7zM452 489.05h0.7v0.7h-0.7zM449.61 487.97h0.7v0.7h-0.7zM450.43 484.03h0.7v0.7h-0.7zM450.38 482.31h0.7v0.7h-0.7zM450.1 486.73h0.7v0.7h-0.7zM452.55 483.76h0.7v0.7h-0.7zM446.87 484.54h0.7v0.7h-0.7zM444.78 484.73h0.7v0.7h-0.7zM457.95 486.65h0.7v0.7h-0.7zM448.47 484.66h0.7v0.7h-0.7zM455.57 483.49h0.7v0.7h-0.7zM450.28 486.11h0.7v0.7h-0.7zM448.54 484.57h0.7v0.7h-0.7zM445.88 484.28h0.7v0.7h-0.7zM454.25 489.71h0.7v0.7h-0.7zM449.81 488h0.7v0.7h-0.7zM451.89 486.56h0.7v0.7h-0.7zM450.22 489.23h0.7v0.7h-0.7zM452.2 485.76h0.7v0.7h-0.7zM449.94 488.55h0.7v0.7h-0.7zM448.93 484.57h0.7v0.7h-0.7zM449.83 485.1h0.7v0.7h-0.7zM454.15 487.16h0.7v0.7h-0.7zM450.35 485.03h0.7v0.7h-0.7zM454.57 487.36h0.7v0.7h-0.7zM456.45 488.49h0.7v0.7h-0.7zM450 484.98h0.7v0.7h-0.7zM449.8 486.74h0.7v0.7h-0.7zM452.82 487.47h0.7v0.7h-0.7zM455.01 482.64h0.7v0.7h-0.7zM450.68 482.88h0.7v0.7h-0.7zM447.71 484.85h0.7v0.7h-0.7zM448.77 483.96h0.7v0.7h-0.7zM446.33 489.04h0.7v0.7h-0.7zM449.7 488.62h0.7v0.7h-0.7zM447.5 480.71h0.7v0.7h-0.7zM448.93 488.42h0.7v0.7h-0.7zM449.03 487.25h0.7v0.7h-0.7zM447.58 489.65h0.7v0.7h-0.7zM451.81 488.83h0.7v0.7h-0.7zM449.82 489.38h0.7v0.7h-0.7zM450.8 485.12h0.7v0.7h-0.7zM448.8 486.43h0.7v0.7h-0.7zM448.05 483.43h0.7v0.7h-0.7zM450.96 488.01h0.7v0.7h-0.7zM449.78 488.32h0.7v0.7h-0.7zM455.05 483.25h0.7v0.7h-0.7zM451.32 483.98h0.7v0.7h-0.7zM448.79 486.73h0.7v0.7h-0.7zM443.94 487.76h0.7v0.7h-0.7zM452.96 487.6h0.7v0.7h-0.7zM452.42 490.66h0.7v0.7h-0.7zM449.57 488.93h0.7v0.7h-0.7zM454.66 487.48h0.7v0.7h-0.7zM445.59 485.92h0.7v0.7h-0.7zM449.78 482.4h0.7v0.7h-0.7zM450.43 488.12h0.7v0.7h-0.7zM449.87 485.86h0.7v0.7h-0.7zM454.72 484.82h0.7v0.7h-0.7zM447.95 486.39h0.7v0.7h-0.7zM453.75 487.73h0.7v0.7h-0.7zM450.8 485.11h0.7v0.7h-0.7zM454.06 488.43h0.7v0.7h-0.7zM445.73 487.1h0.7v0.7h-0.7zM443.85 489.9h0.7v0.7h-0.7zM452.32 484.78h0.7v0.7h-0.7zM446.97 485.57h0.7v0.7h-0.7zM445.68 487.66h0.7v0.7h-0.7zM449.16 482.04h0.7v0.7h-0.7zM450.54 489.15h0.7v0.7h-0.7zM447.03 485.44h0.7v0.7h-0.7zM455.7 486.74h0.7v0.7h-0.7zM449.04 486.75h0.7v0.7h-0.7zM452.79 483.88h0.7v0.7h-0.7zM450.32 482.37h0.7v0.7h-0.7zM446.15 482.59h0.7v0.7h-0.7zM452.97 487.04h0.7v0.7h-0.7zM452.65 489.22h0.7v0.7h-0.7zM450.73 486.86h0.7v0.7h-0.7zM451.74 487.42h0.7v0.7h-0.7zM447.61 485.64h0.7v0.7h-0.7zM450.17 486.38h0.7v0.7h-0.7zM448.49 485.98h0.7v0.7h-0.7zM451.4 486.75h0.7v0.7h-0.7zM452.25 488.27h0.7v0.7h-0.7zM452.16 488.62h0.7v0.7h-0.7zM452.96 489.65h0.7v0.7h-0.7zM452.36 484.81h0.7v0.7h-0.7zM457.13 489.01h0.7v0.7h-0.7zM454.1 488.05h0.7v0.7h-0.7zM450.73 483.55h0.7v0.7h-0.7zM451.82 485.44h0.7v0.7h-0.7zM449.47 481.16h0.7v0.7h-0.7zM454.95 483.49h0.7v0.7h-0.7zM447.51 487.42h0.7v0.7h-0.7zM452.19 484.39h0.7v0.7h-0.7zM450.58 486.91h0.7v0.7h-0.7zM451.04 487.57h0.7v0.7h-0.7zM452.77 485.41h0.7v0.7h-0.7zM446.05 491.5h0.7v0.7h-0.7zM449.52 483.91h0.7v0.7h-0.7z" fill="#111" stroke="none" stroke-width="1"/>
<line x1="460.5" y1="467.2" x2="460.5" y2="512.3" stroke="#666" stroke-width="0.9"/>
<line x1="439.5" y1="490.5" x2="493.8" y2="490.5" stroke="#666" stroke-width="0.9"/>
<text x="438.9" y="517.9" font-size="4.6" text-anchor="middle" textLength="3.6" lengthAdjust="spacingAndGlyphs" fill="#777">10</text>
<text x="441.1" y="515.9" font-size="3.2" text-anchor="middle" fill="#777">0</text>
<text x="452.47" y="517.9" font-size="4.6" text-anchor="middle" textLength="3.6" lengthAdjust="spacingAndGlyphs" fill="#777">10</text>
<text x="454.68" y="515.9" font-size="3.2" text-anchor="middle" fill="#777">1</text>
<text x="466.05" y="517.9" font-size="4.6" text-anchor="middle" textLength="3.6" lengthAdjust="spacingAndGlyphs" fill="#777">10</text>
<text x="468.25" y="515.9" font-size="3.2" text-anchor="middle" fill="#777">2</text>
<text x="479.62" y="517.9" font-size="4.6" text-anchor="middle" textLength="3.6" lengthAdjust="spacingAndGlyphs" fill="#777">10</text>
<text x="481.83" y="515.9" font-size="3.2" text-anchor="middle" fill="#777">3</text>
<text x="493.2" y="517.9" font-size="4.6" text-anchor="middle" textLength="3.6" lengthAdjust="spacingAndGlyphs" fill="#777">10</text>
<text x="495.4" y="515.9" font-size="3.2" text-anchor="middle" fill="#777">4</text>
<text x="467.65" y="520.8" font-size="3" text-anchor="middle" fill="#999">FITC</text>
<line x1="438.2" y1="512.3" x2="439.5" y2="512.3" stroke="#666" stroke-width="0.6"/>
<line x1="438.2" y1="503.28" x2="439.5" y2="503.28" stroke="#666" stroke-width="0.6"/>
<line x1="438.2" y1="494.26" x2="439.5" y2="494.26" stroke="#666" stroke-width="0.6"/>
<line x1="438.2" y1="485.24" x2="439.5" y2="485.24" stroke="#666" stroke-width="0.6"/>
<line x1="438.2" y1="476.22" x2="439.5" y2="476.22" stroke="#666" stroke-width="0.6"/>
<line x1="438.2" y1="467.2" x2="439.5" y2="467.2" stroke="#666" stroke-width="0.6"/>
<line x1="26.5" y1="535.3" x2="26.5" y2="640.3" stroke="#444" stroke-width="0.9"/>
<line x1="26.5" y1="640.3" x2="72.2" y2="640.3" stroke="#444" stroke-width="0.9"/>
<line x1="24.2" y1="640.3" x2="27.1" y2="640.3" stroke="#444" stroke-width="0.8"/>
<text x="18.6" y="643" font-size="7.4" text-anchor="end" fill="#222">0</text>
<line x1="24.2" y1="629.8" x2="27.1" y2="629.8" stroke="#444" stroke-width="0.8"/>
<text x="18.6" y="632.5" font-size="7.4" text-anchor="end" fill="#222">1</text>
<line x1="24.2" y1="619.3" x2="27.1" y2="619.3" stroke="#444" stroke-width="0.8"/>
<text x="18.6" y="622" font-size="7.4" text-anchor="end" fill="#222">2</text>
<line x1="24.2" y1="608.8" x2="27.1" y2="608.8" stroke="#444" stroke-width="0.8"/>
<text x="18.6" y="611.5" font-size="7.4" text-anchor="end" fill="#222">3</text>
<line x1="24.2" y1="598.3" x2="27.1" y2="598.3" stroke="#444" stroke-width="0.8"/>
<text x="18.6" y="601" font-size="7.4" text-anchor="end" fill="#222">4</text>
<line x1="24.2" y1="587.8" x2="27.1" y2="587.8" stroke="#444" stroke-width="0.8"/>
<text x="18.6" y="590.5" font-size="7.4" text-anchor="end" fill="#222">5</text>
<line x1="24.2" y1="577.3" x2="27.1" y2="577.3" stroke="#444" stroke-width="0.8"/>
<text x="18.6" y="580" font-size="7.4" text-anchor="end" fill="#222">6</text>
<line x1="24.2" y1="566.8" x2="27.1" y2="566.8" stroke="#444" stroke-width="0.8"/>
<text x="18.6" y="569.5" font-size="7.4" text-anchor="end" fill="#222">7</text>
<line x1="24.2" y1="556.3" x2="27.1" y2="556.3" stroke="#444" stroke-width="0.8"/>
<text x="18.6" y="559" font-size="7.4" text-anchor="end" fill="#222">8</text>
<line x1="24.2" y1="545.8" x2="27.1" y2="545.8" stroke="#444" stroke-width="0.8"/>
<text x="18.6" y="548.5" font-size="7.4" text-anchor="end" fill="#222">9</text>
<line x1="24.2" y1="535.3" x2="27.1" y2="535.3" stroke="#444" stroke-width="0.8"/>
<text x="18.6" y="538" font-size="7.4" text-anchor="end" fill="#222">10</text>
<line x1="26.5" y1="640.3" x2="26.5" y2="642.5" stroke="#444" stroke-width="0.8"/>
<line x1="49.5" y1="640.3" x2="49.5" y2="642.5" stroke="#444" stroke-width="0.8"/>
<line x1="72.2" y1="640.3" x2="72.2" y2="642.5" stroke="#444" stroke-width="0.8"/>
<line x1="38.5" y1="557.35" x2="38.5" y2="598.82" stroke="#444" stroke-width="1"/>
<rect x="33.2" y="577.3" width="9.6" height="63" fill="#f6f6f6" stroke="#222" stroke-width="0.9"/>
<line x1="38.5" y1="577.3" x2="38.5" y2="598.82" stroke="#444" stroke-width="1"/>
<line x1="35.9" y1="598.82" x2="41.1" y2="598.82" stroke="#444" stroke-width="1"/>
<line x1="35.9" y1="557.35" x2="41.1" y2="557.35" stroke="#444" stroke-width="1"/>
<line x1="60.5" y1="600.92" x2="60.5" y2="612.47" stroke="#444" stroke-width="1"/>
<line x1="57.9" y1="600.92" x2="63.1" y2="600.92" stroke="#444" stroke-width="1"/>
<rect x="56.2" y="612.47" width="9.6" height="27.83" fill="#000" stroke="#000" stroke-width="0.6"/>
<text x="60.5" y="597" font-size="9" text-anchor="middle" font-weight="bold" fill="#111">*</text>
<g transform="translate(7 619.7) rotate(-90)" fill="#222"><text x="0" y="0" font-size="7.93" textLength="65.68" lengthAdjust="spacingAndGlyphs">T-cell number (x10</text><text x="65.98" y="-3.33" font-size="4.92">6</text><text x="68.84" y="0" font-size="7.93">)</text></g>
<text x="40.8" y="651.3" font-size="7.2" text-anchor="end" transform="rotate(-45 40.8 651.3)" fill="#222">KHAA(-)</text>
<text x="62.8" y="651.3" font-size="7.2" text-anchor="end" transform="rotate(-45 62.8 651.3)" fill="#222">KHAA(+)</text>
<line x1="106.4" y1="534.6" x2="106.4" y2="640.1" stroke="#444" stroke-width="0.9"/>
<line x1="106.4" y1="640.1" x2="157.7" y2="640.1" stroke="#444" stroke-width="0.9"/>
<line x1="104.1" y1="640.1" x2="107" y2="640.1" stroke="#444" stroke-width="0.8"/>
<text x="98.5" y="642.8" font-size="7.4" text-anchor="end" fill="#222">0</text>
<line x1="104.1" y1="619" x2="107" y2="619" stroke="#444" stroke-width="0.8"/>
<text x="98.5" y="621.7" font-size="7.4" text-anchor="end" fill="#222">0.5</text>
<line x1="104.1" y1="597.9" x2="107" y2="597.9" stroke="#444" stroke-width="0.8"/>
<text x="98.5" y="600.6" font-size="7.4" text-anchor="end" fill="#222">1</text>
<line x1="104.1" y1="576.8" x2="107" y2="576.8" stroke="#444" stroke-width="0.8"/>
<text x="98.5" y="579.5" font-size="7.4" text-anchor="end" fill="#222">1.5</text>
<line x1="104.1" y1="555.7" x2="107" y2="555.7" stroke="#444" stroke-width="0.8"/>
<text x="98.5" y="558.4" font-size="7.4" text-anchor="end" fill="#222">2</text>
<line x1="104.1" y1="534.6" x2="107" y2="534.6" stroke="#444" stroke-width="0.8"/>
<text x="98.5" y="537.3" font-size="7.4" text-anchor="end" fill="#222">2.5</text>
<line x1="106.4" y1="640.1" x2="106.4" y2="642.3" stroke="#444" stroke-width="0.8"/>
<line x1="131.45" y1="640.1" x2="131.45" y2="642.3" stroke="#444" stroke-width="0.8"/>
<line x1="157.7" y1="640.1" x2="157.7" y2="642.3" stroke="#444" stroke-width="0.8"/>
<line x1="119.5" y1="616.05" x2="119.5" y2="628.28" stroke="#444" stroke-width="1"/>
<rect x="114.3" y="628.28" width="9.6" height="11.82" fill="#f6f6f6" stroke="#222" stroke-width="0.9"/>
<line x1="116.9" y1="616.05" x2="122.1" y2="616.05" stroke="#444" stroke-width="1"/>
<line x1="144.5" y1="541.77" x2="144.5" y2="577.22" stroke="#444" stroke-width="1"/>
<line x1="141.9" y1="541.77" x2="147.1" y2="541.77" stroke="#444" stroke-width="1"/>
<rect x="139" y="577.22" width="10" height="62.88" fill="#000" stroke="#000" stroke-width="0.6"/>
<text x="144.5" y="540.5" font-size="9" text-anchor="middle" font-weight="bold" fill="#111">*</text>
<g transform="translate(85.2 628.5) rotate(-90)" fill="#222"><text x="0" y="0" font-size="7.77" textLength="81.79" lengthAdjust="spacingAndGlyphs">Tumor cell number (x10</text><text x="82.09" y="-3.27" font-size="4.82">6</text><text x="84.89" y="0" font-size="7.77">)</text></g>
<text x="121.8" y="651.1" font-size="7.2" text-anchor="end" transform="rotate(-45 121.8 651.1)" fill="#222">KHAA(-)</text>
<text x="146.8" y="651.1" font-size="7.2" text-anchor="end" transform="rotate(-45 146.8 651.1)" fill="#222">KHAA(+)</text>
<line x1="199.4" y1="537.2" x2="199.4" y2="640.6" stroke="#444" stroke-width="0.9"/>
<line x1="199.4" y1="640.6" x2="249.4" y2="640.6" stroke="#444" stroke-width="0.9"/>
<line x1="197.1" y1="640.6" x2="200" y2="640.6" stroke="#444" stroke-width="0.8"/>
<text x="191.5" y="643.3" font-size="7.4" text-anchor="end" fill="#222">0</text>
<line x1="197.1" y1="630.26" x2="200" y2="630.26" stroke="#444" stroke-width="0.8"/>
<text x="191.5" y="632.96" font-size="7.4" text-anchor="end" fill="#222">1</text>
<line x1="197.1" y1="619.92" x2="200" y2="619.92" stroke="#444" stroke-width="0.8"/>
<text x="191.5" y="622.62" font-size="7.4" text-anchor="end" fill="#222">2</text>
<line x1="197.1" y1="609.58" x2="200" y2="609.58" stroke="#444" stroke-width="0.8"/>
<text x="191.5" y="612.28" font-size="7.4" text-anchor="end" fill="#222">3</text>
<line x1="197.1" y1="599.24" x2="200" y2="599.24" stroke="#444" stroke-width="0.8"/>
<text x="191.5" y="601.94" font-size="7.4" text-anchor="end" fill="#222">4</text>
<line x1="197.1" y1="588.9" x2="200" y2="588.9" stroke="#444" stroke-width="0.8"/>
<text x="191.5" y="591.6" font-size="7.4" text-anchor="end" fill="#222">5</text>
<line x1="197.1" y1="578.56" x2="200" y2="578.56" stroke="#444" stroke-width="0.8"/>
<text x="191.5" y="581.26" font-size="7.4" text-anchor="end" fill="#222">6</text>
<line x1="197.1" y1="568.22" x2="200" y2="568.22" stroke="#444" stroke-width="0.8"/>
<text x="191.5" y="570.92" font-size="7.4" text-anchor="end" fill="#222">7</text>
<line x1="197.1" y1="557.88" x2="200" y2="557.88" stroke="#444" stroke-width="0.8"/>
<text x="191.5" y="560.58" font-size="7.4" text-anchor="end" fill="#222">8</text>
<line x1="197.1" y1="547.54" x2="200" y2="547.54" stroke="#444" stroke-width="0.8"/>
<text x="191.5" y="550.24" font-size="7.4" text-anchor="end" fill="#222">9</text>
<line x1="197.1" y1="537.2" x2="200" y2="537.2" stroke="#444" stroke-width="0.8"/>
<text x="191.5" y="539.9" font-size="7.4" text-anchor="end" fill="#222">10</text>
<line x1="199.4" y1="640.6" x2="199.4" y2="642.8" stroke="#444" stroke-width="0.8"/>
<line x1="226.1" y1="640.6" x2="226.1" y2="642.8" stroke="#444" stroke-width="0.8"/>
<line x1="249.4" y1="640.6" x2="249.4" y2="642.8" stroke="#444" stroke-width="0.8"/>
<line x1="212.5" y1="541.85" x2="212.5" y2="578.04" stroke="#444" stroke-width="1"/>
<rect x="207.7" y="559.95" width="10.6" height="80.65" fill="#f6f6f6" stroke="#222" stroke-width="0.9"/>
<line x1="212.5" y1="559.95" x2="212.5" y2="578.04" stroke="#444" stroke-width="1"/>
<line x1="209.9" y1="578.04" x2="215.1" y2="578.04" stroke="#444" stroke-width="1"/>
<line x1="209.9" y1="541.85" x2="215.1" y2="541.85" stroke="#444" stroke-width="1"/>
<line x1="239.5" y1="587.35" x2="239.5" y2="605.96" stroke="#444" stroke-width="1"/>
<line x1="236.9" y1="587.35" x2="242.1" y2="587.35" stroke="#444" stroke-width="1"/>
<rect x="233.9" y="605.96" width="10.7" height="34.64" fill="#000" stroke="#000" stroke-width="0.6"/>
<text x="239.5" y="585.5" font-size="9" text-anchor="middle" font-weight="bold" fill="#111">*</text>
<g transform="translate(178.3 623.9) rotate(-90)" fill="#222"><text x="0" y="0" font-size="7.93" textLength="65.68" lengthAdjust="spacingAndGlyphs">T-cell number (x10</text><text x="65.98" y="-3.33" font-size="4.92">6</text><text x="68.84" y="0" font-size="7.93">)</text></g>
<text x="214.8" y="651.6" font-size="7.2" text-anchor="end" transform="rotate(-45 214.8 651.6)" fill="#222">KHAA(-)</text>
<text x="241.8" y="651.6" font-size="7.2" text-anchor="end" transform="rotate(-45 241.8 651.6)" fill="#222">KHAA(+)</text>
<line x1="286.7" y1="535.7" x2="286.7" y2="642.3" stroke="#444" stroke-width="0.9"/>
<line x1="286.7" y1="642.3" x2="338.9" y2="642.3" stroke="#444" stroke-width="0.9"/>
<line x1="284.4" y1="642.3" x2="287.3" y2="642.3" stroke="#444" stroke-width="0.8"/>
<text x="278.8" y="645" font-size="7.4" text-anchor="end" fill="#222">0</text>
<line x1="284.4" y1="606.77" x2="287.3" y2="606.77" stroke="#444" stroke-width="0.8"/>
<text x="278.8" y="609.47" font-size="7.4" text-anchor="end" fill="#222">0.5</text>
<line x1="284.4" y1="571.23" x2="287.3" y2="571.23" stroke="#444" stroke-width="0.8"/>
<text x="278.8" y="573.93" font-size="7.4" text-anchor="end" fill="#222">1</text>
<line x1="284.4" y1="535.7" x2="287.3" y2="535.7" stroke="#444" stroke-width="0.8"/>
<text x="278.8" y="538.4" font-size="7.4" text-anchor="end" fill="#222">1.5</text>
<line x1="286.7" y1="642.3" x2="286.7" y2="644.5" stroke="#444" stroke-width="0.8"/>
<line x1="312.2" y1="642.3" x2="312.2" y2="644.5" stroke="#444" stroke-width="0.8"/>
<line x1="338.9" y1="642.3" x2="338.9" y2="644.5" stroke="#444" stroke-width="0.8"/>
<line x1="300.5" y1="621.69" x2="300.5" y2="640.17" stroke="#444" stroke-width="1"/>
<rect x="295.1" y="630.93" width="10" height="11.37" fill="#f6f6f6" stroke="#222" stroke-width="0.9"/>
<line x1="300.5" y1="630.93" x2="300.5" y2="640.17" stroke="#444" stroke-width="1"/>
<line x1="297.9" y1="640.17" x2="303.1" y2="640.17" stroke="#444" stroke-width="1"/>
<line x1="297.9" y1="621.69" x2="303.1" y2="621.69" stroke="#444" stroke-width="1"/>
<line x1="324.5" y1="561.28" x2="324.5" y2="582.6" stroke="#444" stroke-width="1"/>
<line x1="321.9" y1="561.28" x2="327.1" y2="561.28" stroke="#444" stroke-width="1"/>
<rect x="319.3" y="582.6" width="10" height="59.7" fill="#000" stroke="#000" stroke-width="0.6"/>
<text x="324.5" y="558.5" font-size="9" text-anchor="middle" font-weight="bold" fill="#111">*</text>
<g transform="translate(267.7 631.8) rotate(-90)" fill="#222"><text x="0" y="0" font-size="7.77" textLength="81.79" lengthAdjust="spacingAndGlyphs">Tumor cell number (x10</text><text x="82.09" y="-3.27" font-size="4.82">6</text><text x="84.89" y="0" font-size="7.77">)</text></g>
<text x="302.8" y="653.3" font-size="7.2" text-anchor="end" transform="rotate(-45 302.8 653.3)" fill="#222">KHAA(-)</text>
<text x="326.8" y="653.3" font-size="7.2" text-anchor="end" transform="rotate(-45 326.8 653.3)" fill="#222">KHAA(+)</text>
<line x1="382.2" y1="536.6" x2="382.2" y2="642.3" stroke="#444" stroke-width="0.9"/>
<line x1="382.2" y1="642.3" x2="428" y2="642.3" stroke="#444" stroke-width="0.9"/>
<line x1="379.9" y1="642.3" x2="382.8" y2="642.3" stroke="#444" stroke-width="0.8"/>
<text x="374.3" y="645" font-size="7.4" text-anchor="end" fill="#222">0</text>
<line x1="379.9" y1="631.73" x2="382.8" y2="631.73" stroke="#444" stroke-width="0.8"/>
<text x="374.3" y="634.43" font-size="7.4" text-anchor="end" fill="#222">1</text>
<line x1="379.9" y1="621.16" x2="382.8" y2="621.16" stroke="#444" stroke-width="0.8"/>
<text x="374.3" y="623.86" font-size="7.4" text-anchor="end" fill="#222">2</text>
<line x1="379.9" y1="610.59" x2="382.8" y2="610.59" stroke="#444" stroke-width="0.8"/>
<text x="374.3" y="613.29" font-size="7.4" text-anchor="end" fill="#222">3</text>
<line x1="379.9" y1="600.02" x2="382.8" y2="600.02" stroke="#444" stroke-width="0.8"/>
<text x="374.3" y="602.72" font-size="7.4" text-anchor="end" fill="#222">4</text>
<line x1="379.9" y1="589.45" x2="382.8" y2="589.45" stroke="#444" stroke-width="0.8"/>
<text x="374.3" y="592.15" font-size="7.4" text-anchor="end" fill="#222">5</text>
<line x1="379.9" y1="578.88" x2="382.8" y2="578.88" stroke="#444" stroke-width="0.8"/>
<text x="374.3" y="581.58" font-size="7.4" text-anchor="end" fill="#222">6</text>
<line x1="379.9" y1="568.31" x2="382.8" y2="568.31" stroke="#444" stroke-width="0.8"/>
<text x="374.3" y="571.01" font-size="7.4" text-anchor="end" fill="#222">7</text>
<line x1="379.9" y1="557.74" x2="382.8" y2="557.74" stroke="#444" stroke-width="0.8"/>
<text x="374.3" y="560.44" font-size="7.4" text-anchor="end" fill="#222">8</text>
<line x1="379.9" y1="547.17" x2="382.8" y2="547.17" stroke="#444" stroke-width="0.8"/>
<text x="374.3" y="549.87" font-size="7.4" text-anchor="end" fill="#222">9</text>
<line x1="379.9" y1="536.6" x2="382.8" y2="536.6" stroke="#444" stroke-width="0.8"/>
<text x="374.3" y="539.3" font-size="7.4" text-anchor="end" fill="#222">10</text>
<line x1="382.2" y1="642.3" x2="382.2" y2="644.5" stroke="#444" stroke-width="0.8"/>
<line x1="406.45" y1="642.3" x2="406.45" y2="644.5" stroke="#444" stroke-width="0.8"/>
<line x1="428" y1="642.3" x2="428" y2="644.5" stroke="#444" stroke-width="0.8"/>
<line x1="394.5" y1="548.76" x2="394.5" y2="606.36" stroke="#444" stroke-width="1"/>
<rect x="389.3" y="577.29" width="10.3" height="65.01" fill="#f6f6f6" stroke="#222" stroke-width="0.9"/>
<line x1="394.5" y1="577.29" x2="394.5" y2="606.36" stroke="#444" stroke-width="1"/>
<line x1="391.9" y1="606.36" x2="397.1" y2="606.36" stroke="#444" stroke-width="1"/>
<line x1="391.9" y1="548.76" x2="397.1" y2="548.76" stroke="#444" stroke-width="1"/>
<line x1="418.5" y1="593.15" x2="418.5" y2="612.18" stroke="#444" stroke-width="1"/>
<line x1="415.9" y1="593.15" x2="421.1" y2="593.15" stroke="#444" stroke-width="1"/>
<rect x="413.3" y="612.18" width="10" height="30.12" fill="#000" stroke="#000" stroke-width="0.6"/>
<text x="418.5" y="589.5" font-size="9" text-anchor="middle" font-weight="bold" fill="#111">*</text>
<g transform="translate(360.4 624.5) rotate(-90)" fill="#222"><text x="0" y="0" font-size="7.93" textLength="65.68" lengthAdjust="spacingAndGlyphs">T-cell number (x10</text><text x="65.98" y="-3.33" font-size="4.92">6</text><text x="68.84" y="0" font-size="7.93">)</text></g>
<text x="396.8" y="653.3" font-size="7.2" text-anchor="end" transform="rotate(-45 396.8 653.3)" fill="#222">KHAA(-)</text>
<text x="420.8" y="653.3" font-size="7.2" text-anchor="end" transform="rotate(-45 420.8 653.3)" fill="#222">KHAA(+)</text>
<line x1="469.4" y1="536.5" x2="469.4" y2="642.2" stroke="#444" stroke-width="0.9"/>
<line x1="469.4" y1="642.2" x2="517" y2="642.2" stroke="#444" stroke-width="0.9"/>
<line x1="467.1" y1="642.2" x2="470" y2="642.2" stroke="#444" stroke-width="0.8"/>
<text x="461.5" y="644.9" font-size="7.4" text-anchor="end" fill="#222">0</text>
<line x1="467.1" y1="621.06" x2="470" y2="621.06" stroke="#444" stroke-width="0.8"/>
<text x="461.5" y="623.76" font-size="7.4" text-anchor="end" fill="#222">0.5</text>
<line x1="467.1" y1="599.92" x2="470" y2="599.92" stroke="#444" stroke-width="0.8"/>
<text x="461.5" y="602.62" font-size="7.4" text-anchor="end" fill="#222">1</text>
<line x1="467.1" y1="578.78" x2="470" y2="578.78" stroke="#444" stroke-width="0.8"/>
<text x="461.5" y="581.48" font-size="7.4" text-anchor="end" fill="#222">1.5</text>
<line x1="467.1" y1="557.64" x2="470" y2="557.64" stroke="#444" stroke-width="0.8"/>
<text x="461.5" y="560.34" font-size="7.4" text-anchor="end" fill="#222">2</text>
<line x1="467.1" y1="536.5" x2="470" y2="536.5" stroke="#444" stroke-width="0.8"/>
<text x="461.5" y="539.2" font-size="7.4" text-anchor="end" fill="#222">2.5</text>
<line x1="469.4" y1="642.2" x2="469.4" y2="644.4" stroke="#444" stroke-width="0.8"/>
<line x1="494.6" y1="642.2" x2="494.6" y2="644.4" stroke="#444" stroke-width="0.8"/>
<line x1="517" y1="642.2" x2="517" y2="644.4" stroke="#444" stroke-width="0.8"/>
<line x1="482.5" y1="585.97" x2="482.5" y2="614.72" stroke="#444" stroke-width="1"/>
<rect x="477.2" y="599.92" width="10.4" height="42.28" fill="#f6f6f6" stroke="#222" stroke-width="0.9"/>
<line x1="482.5" y1="599.92" x2="482.5" y2="614.72" stroke="#444" stroke-width="1"/>
<line x1="479.9" y1="614.72" x2="485.1" y2="614.72" stroke="#444" stroke-width="1"/>
<line x1="479.9" y1="585.97" x2="485.1" y2="585.97" stroke="#444" stroke-width="1"/>
<line x1="506.5" y1="550.03" x2="506.5" y2="566.1" stroke="#444" stroke-width="1"/>
<line x1="503.9" y1="550.03" x2="509.1" y2="550.03" stroke="#444" stroke-width="1"/>
<rect x="501.6" y="566.1" width="10.4" height="76.1" fill="#000" stroke="#000" stroke-width="0.6"/>
<text x="506.5" y="548.5" font-size="9" text-anchor="middle" font-weight="bold" fill="#111">*</text>
<g transform="translate(447 630.5) rotate(-90)" fill="#222"><text x="0" y="0" font-size="7.77" textLength="81.79" lengthAdjust="spacingAndGlyphs">Tumor cell number (x10</text><text x="82.09" y="-3.27" font-size="4.82">6</text><text x="84.89" y="0" font-size="7.77">)</text></g>
<text x="484.8" y="653.2" font-size="7.2" text-anchor="end" transform="rotate(-45 484.8 653.2)" fill="#222">KHAA(-)</text>
<text x="508.8" y="653.2" font-size="7.2" text-anchor="end" transform="rotate(-45 508.8 653.2)" fill="#222">KHAA(+)</text>
</svg></body></html>
